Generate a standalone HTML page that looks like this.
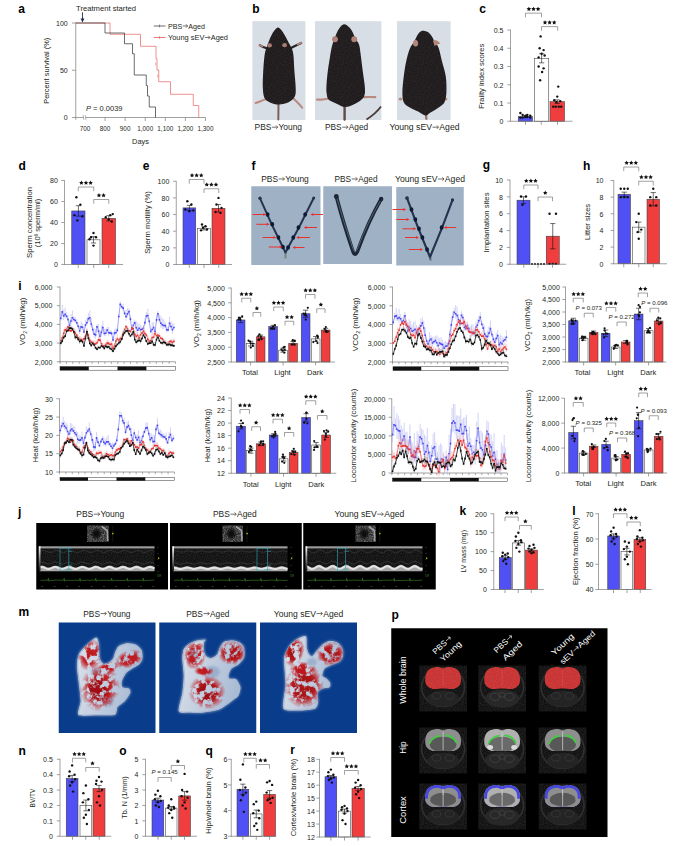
<!DOCTYPE html>
<html><head><meta charset="utf-8"><title>Figure</title>
<style>html,body{margin:0;padding:0;background:#fff;}svg{display:block;}text{font-family:"Liberation Sans",sans-serif;}</style>
</head><body>
<svg width="692" height="846" viewBox="0 0 692 846">
<defs>
<path id="st" d="M0.000 -1.000 L0.294 -0.405 L0.951 -0.309 L0.476 0.155 L0.588 0.809 L0.000 0.500 L-0.588 0.809 L-0.476 0.155 L-0.951 -0.309 L-0.294 -0.405Z" fill="#111"/>
<filter id="nz" x="0" y="0" width="1" height="1"><feTurbulence type="fractalNoise" baseFrequency="0.9" numOctaves="2" seed="3"/><feColorMatrix type="matrix" values="0 0 0 0 1  0 0 0 0 1  0 0 0 0 1  1.6 0 0 0 -0.55"/></filter>
<pattern id="spk" width="40" height="40" patternUnits="userSpaceOnUse"><rect width="40" height="40" filter="url(#nz)"/></pattern>
<pattern id="spk2" width="40" height="40" patternUnits="userSpaceOnUse"><rect width="40" height="40" filter="url(#nz)"/></pattern>
<linearGradient id="gbar" x1="0" y1="0" x2="0" y2="1"><stop offset="0" stop-color="#fff"/><stop offset="1" stop-color="#111"/></linearGradient>
<linearGradient id="bonegrad" x1="0" y1="0" x2="1" y2="0.3"><stop offset="0" stop-color="#dbe2ec"/><stop offset="0.45" stop-color="#c6d1e1"/><stop offset="1" stop-color="#a9bbd4"/></linearGradient>
<radialGradient id="rgc0191d"><stop offset="0" stop-color="#c0191d"/><stop offset="0.55" stop-color="#c0191d" stop-opacity="0.95"/><stop offset="1" stop-color="#c0191d" stop-opacity="0"/></radialGradient>
<radialGradient id="rga01014"><stop offset="0" stop-color="#a01014"/><stop offset="0.55" stop-color="#a01014" stop-opacity="0.9"/><stop offset="1" stop-color="#a01014" stop-opacity="0"/></radialGradient>
<radialGradient id="rgb01217"><stop offset="0" stop-color="#b01217"/><stop offset="0.55" stop-color="#b01217" stop-opacity="0.95"/><stop offset="1" stop-color="#b01217" stop-opacity="0"/></radialGradient>
<radialGradient id="rga81216"><stop offset="0" stop-color="#a81216"/><stop offset="0.55" stop-color="#a81216" stop-opacity="0.95"/><stop offset="1" stop-color="#a81216" stop-opacity="0"/></radialGradient>
<filter id="soft" x="-20%" y="-20%" width="140%" height="140%"><feGaussianBlur stdDeviation="0.9"/></filter>
<filter id="mottle" x="-10%" y="-10%" width="120%" height="120%"><feTurbulence type="fractalNoise" baseFrequency="0.16" numOctaves="3" seed="4" result="n"/><feColorMatrix in="n" type="matrix" values="0 0 0 0 0  0 0 0 0 0  0 0 0 0 0  6 0 0 0 -2.3" result="m"/><feComposite in="SourceGraphic" in2="m" operator="in"/></filter>
</defs>
<g fill="#231f20">
<text x="18.3" y="12.6" font-size="12" font-weight="bold" fill="#000">a</text>
<text x="76" y="10.6" font-size="7.6" textLength="60" lengthAdjust="spacingAndGlyphs">Treatment started</text>
<line x1="82.5" y1="12.3" x2="82.5" y2="20.5" stroke="#1f2a44" stroke-width="0.9"/>
<path d="M80.6 18.6L82.5 22.4L84.4 18.6Z" fill="#1f2a44"/>
<line x1="75.75" y1="22.7" x2="75.75" y2="117.5" stroke="#7a7a7a" stroke-width="0.7"/>
<line x1="71.95" y1="23" x2="75.75" y2="23" stroke="#7a7a7a" stroke-width="0.7"/>
<text x="67.7" y="25.75" font-size="7" text-anchor="end">100</text>
<line x1="71.95" y1="70.25" x2="75.75" y2="70.25" stroke="#7a7a7a" stroke-width="0.7"/>
<text x="67.7" y="73" font-size="7" text-anchor="end">50</text>
<line x1="71.95" y1="117.5" x2="75.75" y2="117.5" stroke="#7a7a7a" stroke-width="0.7"/>
<text x="67.7" y="120.25" font-size="7" text-anchor="end">0</text>
<line x1="75.75" y1="117.5" x2="83.5" y2="117.5" stroke="#7a7a7a" stroke-width="0.7"/>
<line x1="85.6" y1="117.5" x2="205.5" y2="117.5" stroke="#7a7a7a" stroke-width="0.7"/>
<line x1="83.2" y1="115.2" x2="83.8" y2="119.8" stroke="#7a7a7a" stroke-width="0.6"/>
<line x1="85.3" y1="115.2" x2="85.9" y2="119.8" stroke="#7a7a7a" stroke-width="0.6"/>
<line x1="105.08" y1="117.5" x2="105.08" y2="121" stroke="#7a7a7a" stroke-width="0.7"/>
<line x1="125.16" y1="117.5" x2="125.16" y2="121" stroke="#7a7a7a" stroke-width="0.7"/>
<line x1="145.24" y1="117.5" x2="145.24" y2="121" stroke="#7a7a7a" stroke-width="0.7"/>
<line x1="165.32" y1="117.5" x2="165.32" y2="121" stroke="#7a7a7a" stroke-width="0.7"/>
<line x1="185.4" y1="117.5" x2="185.4" y2="121" stroke="#7a7a7a" stroke-width="0.7"/>
<line x1="205.48" y1="117.5" x2="205.48" y2="121" stroke="#7a7a7a" stroke-width="0.7"/>
<line x1="75.75" y1="117.5" x2="75.75" y2="119.8" stroke="#7a7a7a" stroke-width="0.7"/>
<text x="85" y="130.8" font-size="6.4" text-anchor="middle">700</text>
<text x="105.08" y="130.8" font-size="6.4" text-anchor="middle">800</text>
<text x="125.16" y="130.8" font-size="6.4" text-anchor="middle">900</text>
<text x="145.24" y="130.8" font-size="6.4" text-anchor="middle">1,000</text>
<text x="165.32" y="130.8" font-size="6.4" text-anchor="middle">1,100</text>
<text x="185.4" y="130.8" font-size="6.4" text-anchor="middle">1,200</text>
<text x="205.48" y="130.8" font-size="6.4" text-anchor="middle">1,300</text>
<text x="140.5" y="144.2" font-size="7.4" text-anchor="middle">Days</text>
<text transform="translate(48.66,70.75) rotate(-90)" font-size="7.4" text-anchor="middle" textLength="66" lengthAdjust="spacingAndGlyphs">Percent survival (%)</text>
<text x="86" y="111.2" font-size="7.4" textLength="36.5" lengthAdjust="spacingAndGlyphs"><tspan font-style="italic">P</tspan> = 0.0039</text>
<polyline points="75.75,23 110,23 110,34.25 140.5,34.25 140.5,46.25 156,46.25 156,58.75 157,58.75 157,70 158.75,70 158.75,81.75 170.5,81.75 170.5,94.25 193.25,94.25 193.25,105.5 198.75,105.5 198.75,117.5" fill="none" stroke="#e5625e" stroke-width="0.7"/>
<polyline points="75.75,23 105,23 105,33 124.5,33 124.5,43.75 132.5,43.75 132.5,53.75 134.25,53.75 134.25,75 146.25,75 146.25,85.5 147.5,85.5 147.5,96 149.25,96 149.25,107 155.5,107 155.5,117.5" fill="none" stroke="#3b3b3b" stroke-width="0.75"/>
<line x1="155.8" y1="62.5" x2="155.8" y2="65.5" stroke="#e0524f" stroke-width="0.5"/>
<line x1="157.8" y1="74.5" x2="157.8" y2="77.5" stroke="#e0524f" stroke-width="0.5"/>
<line x1="153.8" y1="26" x2="165.5" y2="26" stroke="#3b3b3b" stroke-width="0.75"/>
<line x1="159.6" y1="24.6" x2="159.6" y2="27.4" stroke="#3b3b3b" stroke-width="0.6"/>
<line x1="153.8" y1="37.5" x2="165.5" y2="37.5" stroke="#e0524f" stroke-width="0.75"/>
<line x1="159.6" y1="36.1" x2="159.6" y2="38.9" stroke="#e0524f" stroke-width="0.6"/>
<g transform="translate(168,28.7)">
<text x="0" y="0" font-size="7.6" textLength="14.25" lengthAdjust="spacingAndGlyphs">PBS</text>
<path d="M14.75 -2.74H19.47M17.97 -4.44L19.67 -2.74L17.97 -1.04" stroke="#231f20" stroke-width="0.65" fill="none"/>
<text x="20.37" y="0" font-size="7.6" textLength="16.63" lengthAdjust="spacingAndGlyphs">Aged</text>
</g>
<g transform="translate(168,40.2)">
<text x="0" y="0" font-size="7.6" textLength="36.35" lengthAdjust="spacingAndGlyphs">Young sEV</text>
<path d="M36.87 -2.74H41.8M40.3 -4.44L42 -2.74L40.3 -1.04" stroke="#231f20" stroke-width="0.65" fill="none"/>
<text x="42.72" y="0" font-size="7.6" textLength="17.28" lengthAdjust="spacingAndGlyphs">Aged</text>
</g>
<text x="252.3" y="12.6" font-size="12" font-weight="bold" fill="#000">b</text>
<rect x="252.4" y="21.2" width="53" height="98.8" fill="#d8dee6"/>
<rect x="315" y="21.2" width="66.4" height="98.8" fill="#d8dee6"/>
<rect x="397" y="21.2" width="53.6" height="98.8" fill="#d8dee6"/>
<path d="M266 48 C265.33 47.75 263.03 46.97 262 46.5 C260.97 46.03 260.17 45.42 259.8 45.2" fill="none" stroke="#2a2424" stroke-width="2.2" stroke-linecap="round"/>
<path d="M262.5 46.6 L259.5 45" fill="none" stroke="#b88a80" stroke-width="1.6" stroke-linecap="round"/>
<path d="M291 48 C292 47.5 295.3 45.85 297 45 C298.7 44.15 300.5 43.25 301.2 42.9" fill="none" stroke="#2a2424" stroke-width="2.2" stroke-linecap="round"/>
<path d="M297.5 44.5 L301.3 42.7" fill="none" stroke="#b88a80" stroke-width="1.6" stroke-linecap="round"/>
<path d="M266 99 C265 99.42 261.73 100.83 260 101.5 C258.27 102.17 256.33 102.75 255.6 103" fill="none" stroke="#b88a80" stroke-width="2" stroke-linecap="round"/>
<path d="M293 98 C293.83 98.83 296.47 101.37 298 103 C299.53 104.63 301.5 107 302.2 107.8" fill="none" stroke="#b88a80" stroke-width="2" stroke-linecap="round"/>
<path d="M278.5 103 C278.48 104.5 278.43 109.27 278.4 112 C278.37 114.73 278.32 118.17 278.3 119.4" fill="none" stroke="#7a625c" stroke-width="2" stroke-linecap="round"/>
<path d="M278 27.6 C279.15 27.6 280.4 29.07 281.5 30.3 C282.6 31.53 283.55 33.22 284.6 35 C285.65 36.78 286.57 38.67 287.8 41 C289.03 43.33 291.05 46.5 292 49 C292.95 51.5 293.12 52.5 293.5 56 C293.88 59.5 293.95 65 294.3 70 C294.65 75 295.48 81.67 295.6 86 C295.72 90.33 296.1 93.33 295 96 C293.9 98.67 291.67 100.57 289 102 C286.33 103.43 282.17 104.53 279 104.6 C275.83 104.67 272.42 103.5 270 102.4 C267.58 101.3 265.7 100.57 264.5 98 C263.3 95.43 263 91.67 262.8 87 C262.6 82.33 263.02 75.17 263.3 70 C263.58 64.83 264.05 59.5 264.5 56 C264.95 52.5 265.32 51.33 266 49 C266.68 46.67 267.67 44.33 268.6 42 C269.53 39.67 270.6 36.95 271.6 35 C272.6 33.05 273.53 31.53 274.6 30.3 C275.67 29.07 276.85 27.6 278 27.6Z" fill="#1f1b1c"/>
<path d="M278 27.6 C279.15 27.6 280.4 29.07 281.5 30.3 C282.6 31.53 283.55 33.22 284.6 35 C285.65 36.78 286.57 38.67 287.8 41 C289.03 43.33 291.05 46.5 292 49 C292.95 51.5 293.12 52.5 293.5 56 C293.88 59.5 293.95 65 294.3 70 C294.65 75 295.48 81.67 295.6 86 C295.72 90.33 296.1 93.33 295 96 C293.9 98.67 291.67 100.57 289 102 C286.33 103.43 282.17 104.53 279 104.6 C275.83 104.67 272.42 103.5 270 102.4 C267.58 101.3 265.7 100.57 264.5 98 C263.3 95.43 263 91.67 262.8 87 C262.6 82.33 263.02 75.17 263.3 70 C263.58 64.83 264.05 59.5 264.5 56 C264.95 52.5 265.32 51.33 266 49 C266.68 46.67 267.67 44.33 268.6 42 C269.53 39.67 270.6 36.95 271.6 35 C272.6 33.05 273.53 31.53 274.6 30.3 C275.67 29.07 276.85 27.6 278 27.6Z" fill="url(#spk)" opacity="0.07"/>
<ellipse cx="269.6" cy="45.4" rx="2.4" ry="2.1" fill="#a87c72"/>
<ellipse cx="284.6" cy="45.2" rx="2.4" ry="2.1" fill="#a87c72"/>
<path d="M329 98.5 C327.83 98.68 324 99.42 322 99.6 C320 99.78 317.83 99.6 317 99.6" fill="none" stroke="#b88a80" stroke-width="2.2" stroke-linecap="round"/>
<path d="M364 97.2 C365 97.17 368.12 97 370 97 C371.88 97 374.42 97.17 375.3 97.2" fill="none" stroke="#b88a80" stroke-width="2.2" stroke-linecap="round"/>
<path d="M344.6 105 C344.6 106.33 344.6 110.58 344.6 113 C344.6 115.42 344.6 118.42 344.6 119.5" fill="none" stroke="#5e4a46" stroke-width="2.4" stroke-linecap="round"/>
<path d="M381 106.5 C377 112 372 116 366.5 119.5" fill="none" stroke="#4a3a38" stroke-width="1.8"/>
<path d="M344 24.2 C345.67 24.12 348 26.03 349.5 27.5 C351 28.97 352 31.08 353 33 C354 34.92 354.5 37.08 355.5 39 C356.5 40.92 358.15 42 359 44.5 C359.85 47 359.98 49.63 360.6 54 C361.22 58.37 361.98 65.1 362.7 70.7 C363.42 76.3 364.68 83.3 364.9 87.6 C365.12 91.9 365.18 94.07 364 96.5 C362.82 98.93 360.83 100.45 357.8 102.2 C354.77 103.95 349.42 106.8 345.8 107 C342.18 107.2 338.97 104.63 336.1 103.4 C333.23 102.17 330.18 101.33 328.6 99.6 C327.02 97.87 326.95 95.43 326.6 93 C326.25 90.57 326.32 88.52 326.5 85 C326.68 81.48 327.1 76.7 327.7 71.9 C328.3 67.1 329.4 60.43 330.1 56.2 C330.8 51.97 331.25 49.2 331.9 46.5 C332.55 43.8 333.23 42.17 334 40 C334.77 37.83 335.58 35.5 336.5 33.5 C337.42 31.5 338.25 29.55 339.5 28 C340.75 26.45 342.33 24.28 344 24.2Z" fill="#1f1b1c"/>
<path d="M344 24.2 C345.67 24.12 348 26.03 349.5 27.5 C351 28.97 352 31.08 353 33 C354 34.92 354.5 37.08 355.5 39 C356.5 40.92 358.15 42 359 44.5 C359.85 47 359.98 49.63 360.6 54 C361.22 58.37 361.98 65.1 362.7 70.7 C363.42 76.3 364.68 83.3 364.9 87.6 C365.12 91.9 365.18 94.07 364 96.5 C362.82 98.93 360.83 100.45 357.8 102.2 C354.77 103.95 349.42 106.8 345.8 107 C342.18 107.2 338.97 104.63 336.1 103.4 C333.23 102.17 330.18 101.33 328.6 99.6 C327.02 97.87 326.95 95.43 326.6 93 C326.25 90.57 326.32 88.52 326.5 85 C326.68 81.48 327.1 76.7 327.7 71.9 C328.3 67.1 329.4 60.43 330.1 56.2 C330.8 51.97 331.25 49.2 331.9 46.5 C332.55 43.8 333.23 42.17 334 40 C334.77 37.83 335.58 35.5 336.5 33.5 C337.42 31.5 338.25 29.55 339.5 28 C340.75 26.45 342.33 24.28 344 24.2Z" fill="url(#spk)" opacity="0.07"/>
<ellipse cx="335" cy="39.3" rx="2.9" ry="3.0" fill="#b08277"/>
<ellipse cx="354.2" cy="39.3" rx="2.9" ry="3.0" fill="#b08277"/>
<ellipse cx="400.5" cy="99" rx="2" ry="1.5" fill="#b88a80"/>
<ellipse cx="445.5" cy="99" rx="2" ry="1.5" fill="#b88a80"/>
<path d="M426 113 L426.3 118.8" fill="none" stroke="#9a7570" stroke-width="2.4" stroke-linecap="round"/>
<path d="M423.5 30.8 C424.92 30.9 427 31.48 428.5 32.6 C430 33.72 431.42 35.77 432.5 37.5 C433.58 39.23 433.98 41.3 435 43 C436.02 44.7 437.4 44.5 438.6 47.7 C439.8 50.9 441 57.38 442.2 62.2 C443.4 67.02 445.1 71.58 445.8 76.6 C446.5 81.62 446.6 88.08 446.4 92.3 C446.2 96.52 445.7 99.5 444.6 101.9 C443.5 104.3 442.22 104.88 439.8 106.7 C437.38 108.52 432.48 111.32 430.1 112.8 C427.72 114.28 427.5 115.8 425.5 115.6 C423.5 115.4 420.93 113.08 418.1 111.6 C415.27 110.12 410.92 108.32 408.5 106.7 C406.08 105.08 404.62 104.3 403.6 101.9 C402.58 99.5 402.4 96.32 402.4 92.3 C402.4 88.28 403 82.82 403.6 77.8 C404.2 72.78 404.98 67.02 406 62.2 C407.02 57.38 408.37 52.27 409.7 48.9 C411.03 45.53 412.7 44.32 414 42 C415.3 39.68 416.5 36.67 417.5 35 C418.5 33.33 419 32.7 420 32 C421 31.3 422.08 30.7 423.5 30.8Z" fill="#1f1b1c"/>
<path d="M423.5 30.8 C424.92 30.9 427 31.48 428.5 32.6 C430 33.72 431.42 35.77 432.5 37.5 C433.58 39.23 433.98 41.3 435 43 C436.02 44.7 437.4 44.5 438.6 47.7 C439.8 50.9 441 57.38 442.2 62.2 C443.4 67.02 445.1 71.58 445.8 76.6 C446.5 81.62 446.6 88.08 446.4 92.3 C446.2 96.52 445.7 99.5 444.6 101.9 C443.5 104.3 442.22 104.88 439.8 106.7 C437.38 108.52 432.48 111.32 430.1 112.8 C427.72 114.28 427.5 115.8 425.5 115.6 C423.5 115.4 420.93 113.08 418.1 111.6 C415.27 110.12 410.92 108.32 408.5 106.7 C406.08 105.08 404.62 104.3 403.6 101.9 C402.58 99.5 402.4 96.32 402.4 92.3 C402.4 88.28 403 82.82 403.6 77.8 C404.2 72.78 404.98 67.02 406 62.2 C407.02 57.38 408.37 52.27 409.7 48.9 C411.03 45.53 412.7 44.32 414 42 C415.3 39.68 416.5 36.67 417.5 35 C418.5 33.33 419 32.7 420 32 C421 31.3 422.08 30.7 423.5 30.8Z" fill="url(#spk)" opacity="0.07"/>
<ellipse cx="415.6" cy="43.3" rx="2.5" ry="3.2" fill="#b58679"/>
<path d="M433 40.5 Q437 38.5 440.5 43.5 Q437 44 434.5 46 Z" fill="#b58679"/>
<g transform="translate(254.6,130.2)">
<text x="0" y="0" font-size="8.4" textLength="16.76" lengthAdjust="spacingAndGlyphs">PBS</text>
<path d="M17.34 -3.02H22.97M21.47 -4.72L23.17 -3.02L21.47 -1.32" stroke="#231f20" stroke-width="0.65" fill="none"/>
<text x="23.96" y="0" font-size="8.4" textLength="23.44" lengthAdjust="spacingAndGlyphs">Young</text>
</g>
<g transform="translate(325,130.2)">
<text x="0" y="0" font-size="8.4" textLength="16.64" lengthAdjust="spacingAndGlyphs">PBS</text>
<path d="M17.22 -3.02H22.8M21.3 -4.72L23 -3.02L21.3 -1.32" stroke="#231f20" stroke-width="0.65" fill="none"/>
<text x="23.79" y="0" font-size="8.4" textLength="19.41" lengthAdjust="spacingAndGlyphs">Aged</text>
</g>
<g transform="translate(389.5,130.2)">
<text x="0" y="0" font-size="8.4" textLength="42.41" lengthAdjust="spacingAndGlyphs">Young sEV</text>
<path d="M43.01 -3.02H48.83M47.33 -4.72L49.03 -3.02L47.33 -1.32" stroke="#231f20" stroke-width="0.65" fill="none"/>
<text x="49.84" y="0" font-size="8.4" textLength="20.16" lengthAdjust="spacingAndGlyphs">Aged</text>
</g>
<text x="479.2" y="12.8" font-size="12" font-weight="bold" fill="#000">c</text>
<line x1="510.5" y1="29.7" x2="510.5" y2="121.55" stroke="#7a7a7a" stroke-width="0.7"/>
<line x1="507.3" y1="121.25" x2="510.5" y2="121.25" stroke="#7a7a7a" stroke-width="0.7"/>
<text x="503.5" y="124" font-size="7" text-anchor="end">0</text>
<line x1="507.3" y1="103" x2="510.5" y2="103" stroke="#7a7a7a" stroke-width="0.7"/>
<text x="503.5" y="105.75" font-size="7" text-anchor="end">0.1</text>
<line x1="507.3" y1="84.75" x2="510.5" y2="84.75" stroke="#7a7a7a" stroke-width="0.7"/>
<text x="503.5" y="87.5" font-size="7" text-anchor="end">0.2</text>
<line x1="507.3" y1="66.5" x2="510.5" y2="66.5" stroke="#7a7a7a" stroke-width="0.7"/>
<text x="503.5" y="69.25" font-size="7" text-anchor="end">0.3</text>
<line x1="507.3" y1="48.25" x2="510.5" y2="48.25" stroke="#7a7a7a" stroke-width="0.7"/>
<text x="503.5" y="51" font-size="7" text-anchor="end">0.4</text>
<line x1="507.3" y1="30" x2="510.5" y2="30" stroke="#7a7a7a" stroke-width="0.7"/>
<text x="503.5" y="32.75" font-size="7" text-anchor="end">0.5</text>
<rect x="518.25" y="116.69" width="14.25" height="4.56" fill="#5050f4" stroke="#3a3a3a" stroke-width="0.55"/>
<circle cx="520.35" cy="113.04" r="1.2" fill="#111"/>
<circle cx="522.6" cy="114.86" r="1.2" fill="#111"/>
<circle cx="525.53" cy="115.78" r="1.2" fill="#111"/>
<circle cx="527.37" cy="116.69" r="1.2" fill="#111"/>
<circle cx="530.26" cy="115.78" r="1.2" fill="#111"/>
<circle cx="520.4" cy="117.6" r="1.2" fill="#111"/>
<circle cx="522.51" cy="117.6" r="1.2" fill="#111"/>
<circle cx="525.38" cy="116.69" r="1.2" fill="#111"/>
<circle cx="527.33" cy="114.86" r="1.2" fill="#111"/>
<circle cx="530.15" cy="117.6" r="1.2" fill="#111"/>
<line x1="525.38" y1="115.78" x2="525.38" y2="117.6" stroke="#111" stroke-width="0.6"/>
<line x1="522.77" y1="115.78" x2="527.98" y2="115.78" stroke="#111" stroke-width="0.6"/>
<line x1="522.77" y1="117.6" x2="527.98" y2="117.6" stroke="#111" stroke-width="0.6"/>
<rect x="534.5" y="58.29" width="14.25" height="62.96" fill="#ffffff" stroke="#3a3a3a" stroke-width="0.55"/>
<circle cx="540.62" cy="36.39" r="1.2" fill="#111"/>
<circle cx="539.62" cy="48.25" r="1.2" fill="#111"/>
<circle cx="543.62" cy="50.08" r="1.2" fill="#111"/>
<circle cx="541.62" cy="53.72" r="1.2" fill="#111"/>
<circle cx="544.62" cy="55.55" r="1.2" fill="#111"/>
<circle cx="538.62" cy="57.38" r="1.2" fill="#111"/>
<circle cx="538.62" cy="66.5" r="1.2" fill="#111"/>
<circle cx="543.62" cy="68.33" r="1.2" fill="#111"/>
<circle cx="542.12" cy="71.97" r="1.2" fill="#111"/>
<circle cx="540.12" cy="80.19" r="1.2" fill="#111"/>
<line x1="541.62" y1="53.72" x2="541.62" y2="62.85" stroke="#111" stroke-width="0.6"/>
<line x1="539.02" y1="53.72" x2="544.23" y2="53.72" stroke="#111" stroke-width="0.6"/>
<line x1="539.02" y1="62.85" x2="544.23" y2="62.85" stroke="#111" stroke-width="0.6"/>
<rect x="550" y="101.72" width="14.5" height="19.53" fill="#f03e3f" stroke="#3a3a3a" stroke-width="0.55"/>
<circle cx="558.25" cy="86.58" r="1.2" fill="#111"/>
<circle cx="557.25" cy="96.61" r="1.2" fill="#111"/>
<circle cx="554.25" cy="100.26" r="1.2" fill="#111"/>
<circle cx="560.25" cy="101.17" r="1.2" fill="#111"/>
<circle cx="556.25" cy="102.09" r="1.2" fill="#111"/>
<circle cx="553.25" cy="106.65" r="1.2" fill="#111"/>
<circle cx="555.75" cy="106.65" r="1.2" fill="#111"/>
<circle cx="558.75" cy="106.65" r="1.2" fill="#111"/>
<circle cx="561.25" cy="106.65" r="1.2" fill="#111"/>
<line x1="557.25" y1="99.9" x2="557.25" y2="103.55" stroke="#111" stroke-width="0.6"/>
<line x1="554.65" y1="99.9" x2="559.85" y2="99.9" stroke="#111" stroke-width="0.6"/>
<line x1="554.65" y1="103.55" x2="559.85" y2="103.55" stroke="#111" stroke-width="0.6"/>
<line x1="510.2" y1="121.25" x2="572.5" y2="121.25" stroke="#7a7a7a" stroke-width="0.7"/>
<line x1="525.5" y1="121.25" x2="525.5" y2="124.75" stroke="#7a7a7a" stroke-width="0.7"/>
<line x1="541.25" y1="121.25" x2="541.25" y2="124.75" stroke="#7a7a7a" stroke-width="0.7"/>
<line x1="557.5" y1="121.25" x2="557.5" y2="124.75" stroke="#7a7a7a" stroke-width="0.7"/>
<path d="M525.5 17.35V13.15H541.5V17.35" fill="none" stroke="#6d6e71" stroke-width="0.65"/>
<use href="#st" transform="translate(528.9,9.05) scale(2.35)"/>
<use href="#st" transform="translate(533.5,9.05) scale(2.35)"/>
<use href="#st" transform="translate(538.1,9.05) scale(2.35)"/>
<path d="M541.5 30.8V26.6H557.7V30.8" fill="none" stroke="#6d6e71" stroke-width="0.65"/>
<use href="#st" transform="translate(545,22.5) scale(2.35)"/>
<use href="#st" transform="translate(549.6,22.5) scale(2.35)"/>
<use href="#st" transform="translate(554.2,22.5) scale(2.35)"/>
<text transform="translate(484.38,76.25) rotate(-90)" font-size="7.3" text-anchor="middle" textLength="65" lengthAdjust="spacingAndGlyphs">Frailty index scores</text>
<text x="18.5" y="170" font-size="12" font-weight="bold" fill="#000">d</text>
<line x1="64.5" y1="180.2" x2="64.5" y2="264.8" stroke="#7a7a7a" stroke-width="0.7"/>
<line x1="61.3" y1="264.5" x2="64.5" y2="264.5" stroke="#7a7a7a" stroke-width="0.7"/>
<text x="57.9" y="267.25" font-size="7" text-anchor="end">0</text>
<line x1="61.3" y1="243.5" x2="64.5" y2="243.5" stroke="#7a7a7a" stroke-width="0.7"/>
<text x="57.9" y="246.25" font-size="7" text-anchor="end">20</text>
<line x1="61.3" y1="222.5" x2="64.5" y2="222.5" stroke="#7a7a7a" stroke-width="0.7"/>
<text x="57.9" y="225.25" font-size="7" text-anchor="end">40</text>
<line x1="61.3" y1="201.5" x2="64.5" y2="201.5" stroke="#7a7a7a" stroke-width="0.7"/>
<text x="57.9" y="204.25" font-size="7" text-anchor="end">60</text>
<line x1="61.3" y1="180.5" x2="64.5" y2="180.5" stroke="#7a7a7a" stroke-width="0.7"/>
<text x="57.9" y="183.25" font-size="7" text-anchor="end">80</text>
<rect x="71.75" y="210.95" width="13.25" height="53.55" fill="#5050f4" stroke="#3a3a3a" stroke-width="0.55"/>
<circle cx="76.38" cy="197.3" r="1.2" fill="#111"/>
<circle cx="80.38" cy="204.65" r="1.2" fill="#111"/>
<circle cx="74.38" cy="215.15" r="1.2" fill="#111"/>
<circle cx="82.38" cy="216.2" r="1.2" fill="#111"/>
<circle cx="77.38" cy="220.4" r="1.2" fill="#111"/>
<line x1="78.38" y1="205.7" x2="78.38" y2="216.2" stroke="#111" stroke-width="0.6"/>
<line x1="75.78" y1="205.7" x2="80.97" y2="205.7" stroke="#111" stroke-width="0.6"/>
<line x1="75.78" y1="216.2" x2="80.97" y2="216.2" stroke="#111" stroke-width="0.6"/>
<rect x="87" y="239.82" width="13" height="24.68" fill="#ffffff" stroke="#3a3a3a" stroke-width="0.55"/>
<circle cx="93.5" cy="233" r="1.2" fill="#111"/>
<circle cx="91" cy="237.2" r="1.2" fill="#111"/>
<circle cx="96" cy="237.2" r="1.2" fill="#111"/>
<circle cx="89.5" cy="239.3" r="1.2" fill="#111"/>
<circle cx="93.5" cy="245.6" r="1.2" fill="#111"/>
<line x1="93.5" y1="236.68" x2="93.5" y2="242.97" stroke="#111" stroke-width="0.6"/>
<line x1="90.9" y1="236.68" x2="96.1" y2="236.68" stroke="#111" stroke-width="0.6"/>
<line x1="90.9" y1="242.97" x2="96.1" y2="242.97" stroke="#111" stroke-width="0.6"/>
<rect x="102" y="218.3" width="13.5" height="46.2" fill="#f03e3f" stroke="#3a3a3a" stroke-width="0.55"/>
<circle cx="112.75" cy="214.1" r="1.2" fill="#111"/>
<circle cx="110.25" cy="215.15" r="1.2" fill="#111"/>
<circle cx="105.75" cy="217.25" r="1.2" fill="#111"/>
<circle cx="108.75" cy="219.35" r="1.2" fill="#111"/>
<circle cx="111.75" cy="221.45" r="1.2" fill="#111"/>
<line x1="108.75" y1="215.68" x2="108.75" y2="220.93" stroke="#111" stroke-width="0.6"/>
<line x1="106.15" y1="215.68" x2="111.35" y2="215.68" stroke="#111" stroke-width="0.6"/>
<line x1="106.15" y1="220.93" x2="111.35" y2="220.93" stroke="#111" stroke-width="0.6"/>
<line x1="64.2" y1="264.5" x2="123" y2="264.5" stroke="#7a7a7a" stroke-width="0.7"/>
<line x1="78.25" y1="264.5" x2="78.25" y2="268" stroke="#7a7a7a" stroke-width="0.7"/>
<line x1="93.75" y1="264.5" x2="93.75" y2="268" stroke="#7a7a7a" stroke-width="0.7"/>
<line x1="108.75" y1="264.5" x2="108.75" y2="268" stroke="#7a7a7a" stroke-width="0.7"/>
<path d="M78.25 191.2V187H93.75V191.2" fill="none" stroke="#6d6e71" stroke-width="0.65"/>
<use href="#st" transform="translate(81.4,182.9) scale(2.35)"/>
<use href="#st" transform="translate(86,182.9) scale(2.35)"/>
<use href="#st" transform="translate(90.6,182.9) scale(2.35)"/>
<path d="M93.75 203.7V199.5H108.75V203.7" fill="none" stroke="#6d6e71" stroke-width="0.65"/>
<use href="#st" transform="translate(98.95,195.4) scale(2.35)"/>
<use href="#st" transform="translate(103.55,195.4) scale(2.35)"/>
<text transform="translate(31.93,222.5) rotate(-90)" font-size="7.3" text-anchor="middle" textLength="71" lengthAdjust="spacingAndGlyphs">Sperm concentration</text>
<text transform="translate(40.13,223) rotate(-90) scale(1.0194,1)" font-size="7.3" text-anchor="middle">(10<tspan font-size="4.6" dy="-2.6">6</tspan><tspan dy="2.6"> sperm/ml)</tspan></text>
<text x="142.8" y="170" font-size="12" font-weight="bold" fill="#000">e</text>
<line x1="176.25" y1="180.95" x2="176.25" y2="264.8" stroke="#7a7a7a" stroke-width="0.7"/>
<line x1="173.05" y1="264.5" x2="176.25" y2="264.5" stroke="#7a7a7a" stroke-width="0.7"/>
<text x="169.3" y="267.25" font-size="7" text-anchor="end">0</text>
<line x1="173.05" y1="247.85" x2="176.25" y2="247.85" stroke="#7a7a7a" stroke-width="0.7"/>
<text x="169.3" y="250.6" font-size="7" text-anchor="end">20</text>
<line x1="173.05" y1="231.2" x2="176.25" y2="231.2" stroke="#7a7a7a" stroke-width="0.7"/>
<text x="169.3" y="233.95" font-size="7" text-anchor="end">40</text>
<line x1="173.05" y1="214.55" x2="176.25" y2="214.55" stroke="#7a7a7a" stroke-width="0.7"/>
<text x="169.3" y="217.3" font-size="7" text-anchor="end">60</text>
<line x1="173.05" y1="197.9" x2="176.25" y2="197.9" stroke="#7a7a7a" stroke-width="0.7"/>
<text x="169.3" y="200.65" font-size="7" text-anchor="end">80</text>
<line x1="173.05" y1="181.25" x2="176.25" y2="181.25" stroke="#7a7a7a" stroke-width="0.7"/>
<text x="169.3" y="184" font-size="7" text-anchor="end">100</text>
<rect x="183" y="207.89" width="12.75" height="56.61" fill="#5050f4" stroke="#3a3a3a" stroke-width="0.55"/>
<circle cx="187.38" cy="201.23" r="1.2" fill="#111"/>
<circle cx="191.38" cy="204.56" r="1.2" fill="#111"/>
<circle cx="185.38" cy="209.56" r="1.2" fill="#111"/>
<circle cx="193.38" cy="210.39" r="1.2" fill="#111"/>
<circle cx="189.38" cy="211.22" r="1.2" fill="#111"/>
<line x1="189.38" y1="205.39" x2="189.38" y2="210.39" stroke="#111" stroke-width="0.6"/>
<line x1="186.78" y1="205.39" x2="191.97" y2="205.39" stroke="#111" stroke-width="0.6"/>
<line x1="186.78" y1="210.39" x2="191.97" y2="210.39" stroke="#111" stroke-width="0.6"/>
<rect x="197.5" y="228.29" width="13" height="36.21" fill="#ffffff" stroke="#3a3a3a" stroke-width="0.55"/>
<circle cx="202" cy="224.54" r="1.2" fill="#111"/>
<circle cx="205.5" cy="226.2" r="1.2" fill="#111"/>
<circle cx="203" cy="227.87" r="1.2" fill="#111"/>
<circle cx="207" cy="229.53" r="1.2" fill="#111"/>
<circle cx="201" cy="230.37" r="1.2" fill="#111"/>
<line x1="204" y1="226.62" x2="204" y2="229.95" stroke="#111" stroke-width="0.6"/>
<line x1="201.4" y1="226.62" x2="206.6" y2="226.62" stroke="#111" stroke-width="0.6"/>
<line x1="201.4" y1="229.95" x2="206.6" y2="229.95" stroke="#111" stroke-width="0.6"/>
<rect x="212" y="208.31" width="13" height="56.19" fill="#f03e3f" stroke="#3a3a3a" stroke-width="0.55"/>
<circle cx="218.5" cy="197.9" r="1.2" fill="#111"/>
<circle cx="216.5" cy="204.56" r="1.2" fill="#111"/>
<circle cx="221.5" cy="207.89" r="1.2" fill="#111"/>
<circle cx="215.5" cy="212.05" r="1.2" fill="#111"/>
<circle cx="220.5" cy="212.88" r="1.2" fill="#111"/>
<line x1="218.5" y1="204.56" x2="218.5" y2="212.05" stroke="#111" stroke-width="0.6"/>
<line x1="215.9" y1="204.56" x2="221.1" y2="204.56" stroke="#111" stroke-width="0.6"/>
<line x1="215.9" y1="212.05" x2="221.1" y2="212.05" stroke="#111" stroke-width="0.6"/>
<line x1="175.95" y1="264.5" x2="232" y2="264.5" stroke="#7a7a7a" stroke-width="0.7"/>
<line x1="189.25" y1="264.5" x2="189.25" y2="268" stroke="#7a7a7a" stroke-width="0.7"/>
<line x1="204" y1="264.5" x2="204" y2="268" stroke="#7a7a7a" stroke-width="0.7"/>
<line x1="218.75" y1="264.5" x2="218.75" y2="268" stroke="#7a7a7a" stroke-width="0.7"/>
<path d="M189.25 183.7V179.5H204V183.7" fill="none" stroke="#6d6e71" stroke-width="0.65"/>
<use href="#st" transform="translate(192.03,175.4) scale(2.35)"/>
<use href="#st" transform="translate(196.62,175.4) scale(2.35)"/>
<use href="#st" transform="translate(201.22,175.4) scale(2.35)"/>
<path d="M204 192.95V188.75H218.75V192.95" fill="none" stroke="#6d6e71" stroke-width="0.65"/>
<use href="#st" transform="translate(206.78,184.65) scale(2.35)"/>
<use href="#st" transform="translate(211.38,184.65) scale(2.35)"/>
<use href="#st" transform="translate(215.97,184.65) scale(2.35)"/>
<text transform="translate(149.63,222.5) rotate(-90)" font-size="7.3" text-anchor="middle" textLength="62.5" lengthAdjust="spacingAndGlyphs">Sperm motility (%)</text>
<text x="251.5" y="170" font-size="12" font-weight="bold" fill="#000">f</text>
<rect x="251.25" y="186.25" width="69.25" height="78.75" fill="#9fb2c5"/>
<rect x="323.25" y="186.25" width="68.75" height="77.75" fill="#9fb2c5"/>
<rect x="396.25" y="187" width="67.5" height="78.5" fill="#9fb2c5"/>
<line x1="285.5" y1="252" x2="285.5" y2="258.5" stroke="#7a8a84" stroke-width="2.2"/>
<path d="M260 198.3 Q271.75 225.4 285.5 252.5 Q300.6 225.25 313.7 198" fill="none" stroke="#24344e" stroke-width="2" stroke-linejoin="round" stroke-linecap="round"/>
<circle cx="260" cy="198.3" r="1.7" fill="#24344e"/>
<circle cx="313.7" cy="198" r="1.5" fill="#24344e"/>
<ellipse cx="267.62" cy="214.5" rx="1.9" ry="2.3" fill="#0d1a36"/>
<ellipse cx="272.23" cy="224.3" rx="1.9" ry="2.3" fill="#0d1a36"/>
<ellipse cx="278.44" cy="237.5" rx="1.9" ry="2.3" fill="#0d1a36"/>
<ellipse cx="282.91" cy="247" rx="1.9" ry="2.3" fill="#0d1a36"/>
<ellipse cx="305.16" cy="214.5" rx="1.9" ry="2.3" fill="#0d1a36"/>
<ellipse cx="298.44" cy="227.5" rx="1.9" ry="2.3" fill="#0d1a36"/>
<ellipse cx="293.26" cy="237.5" rx="1.9" ry="2.3" fill="#0d1a36"/>
<ellipse cx="288.09" cy="247.5" rx="1.9" ry="2.3" fill="#0d1a36"/>
<path d="M336.3 196.3 Q343 222 352.5 250 Q355 258.5 358 250 Q368 222 381.2 198.8" fill="none" stroke="#1c2636" stroke-width="3.6" stroke-linejoin="round"/>
<path d="M336.8 198 Q343.5 222 353 249 Q355 255 357.5 249 Q367.5 222 380.8 200" fill="none" stroke="#56667a" stroke-width="0.9" stroke-linejoin="round"/>
<circle cx="336.3" cy="196.5" r="2.4" fill="#1c2636"/><circle cx="381.2" cy="199" r="2.2" fill="#1c2636"/>
<line x1="430" y1="255" x2="430.5" y2="260.5" stroke="#5a666a" stroke-width="2"/>
<path d="M407 198 Q417.5 227.5 430 257 Q442.25 228.5 452.5 200" fill="none" stroke="#24344e" stroke-width="2.2" stroke-linejoin="round" stroke-linecap="round"/>
<circle cx="407" cy="198" r="1.87" fill="#24344e"/>
<circle cx="452.5" cy="200" r="1.65" fill="#24344e"/>
<ellipse cx="411.48" cy="209.5" rx="1.9" ry="2.3" fill="#0d1a36"/>
<ellipse cx="415.38" cy="219.5" rx="1.9" ry="2.3" fill="#0d1a36"/>
<ellipse cx="419.01" cy="228.8" rx="1.9" ry="2.3" fill="#0d1a36"/>
<ellipse cx="422.4" cy="237.5" rx="1.9" ry="2.3" fill="#0d1a36"/>
<ellipse cx="427.08" cy="249.5" rx="1.9" ry="2.3" fill="#0d1a36"/>
<ellipse cx="441.64" cy="227.5" rx="1.9" ry="2.3" fill="#0d1a36"/>
<line x1="252.5" y1="214.5" x2="264" y2="214.5" stroke="#e8302c" stroke-width="1"/>
<path d="M266.2 214.5L263.4 213L263.4 216Z" fill="#e8302c"/>
<line x1="256.3" y1="224.3" x2="267.3" y2="224.3" stroke="#e8302c" stroke-width="1"/>
<path d="M269.5 224.3L266.7 222.8L266.7 225.8Z" fill="#e8302c"/>
<line x1="262.5" y1="237.5" x2="274" y2="237.5" stroke="#e8302c" stroke-width="1"/>
<path d="M276.2 237.5L273.4 236L273.4 239Z" fill="#e8302c"/>
<line x1="268.8" y1="247" x2="280.3" y2="247" stroke="#e8302c" stroke-width="1"/>
<path d="M282.5 247L279.7 245.5L279.7 248.5Z" fill="#e8302c"/>
<line x1="323" y1="214.5" x2="312.7" y2="214.5" stroke="#e8302c" stroke-width="1"/>
<path d="M310.5 214.5L313.3 213L313.3 216Z" fill="#e8302c"/>
<line x1="317" y1="227.5" x2="306" y2="227.5" stroke="#e8302c" stroke-width="1"/>
<path d="M303.8 227.5L306.6 226L306.6 229Z" fill="#e8302c"/>
<line x1="310" y1="237.5" x2="298.5" y2="237.5" stroke="#e8302c" stroke-width="1"/>
<path d="M296.3 237.5L299.1 236L299.1 239Z" fill="#e8302c"/>
<line x1="304.5" y1="247.5" x2="294.7" y2="247.5" stroke="#e8302c" stroke-width="1"/>
<path d="M292.5 247.5L295.3 246L295.3 249Z" fill="#e8302c"/>
<line x1="392.5" y1="209.5" x2="404" y2="209.5" stroke="#e8302c" stroke-width="1"/>
<path d="M406.2 209.5L403.4 208L403.4 211Z" fill="#e8302c"/>
<line x1="396.3" y1="219.5" x2="407.3" y2="219.5" stroke="#e8302c" stroke-width="1"/>
<path d="M409.5 219.5L406.7 218L406.7 221Z" fill="#e8302c"/>
<line x1="402.5" y1="228.8" x2="414" y2="228.8" stroke="#e8302c" stroke-width="1"/>
<path d="M416.2 228.8L413.4 227.3L413.4 230.3Z" fill="#e8302c"/>
<line x1="405" y1="237.5" x2="416.6" y2="237.5" stroke="#e8302c" stroke-width="1"/>
<path d="M418.8 237.5L416 236L416 239Z" fill="#e8302c"/>
<line x1="408.8" y1="249.5" x2="420.8" y2="249.5" stroke="#e8302c" stroke-width="1"/>
<path d="M423 249.5L420.2 248L420.2 251Z" fill="#e8302c"/>
<line x1="456.3" y1="227.5" x2="446" y2="227.5" stroke="#e8302c" stroke-width="1"/>
<path d="M443.8 227.5L446.6 226L446.6 229Z" fill="#e8302c"/>
<g transform="translate(261.25,182)">
<text x="0" y="0" font-size="8.4" textLength="16.79" lengthAdjust="spacingAndGlyphs">PBS</text>
<path d="M17.38 -3.02H23.02M21.52 -4.72L23.22 -3.02L21.52 -1.32" stroke="#231f20" stroke-width="0.65" fill="none"/>
<text x="24.01" y="0" font-size="8.4" textLength="23.49" lengthAdjust="spacingAndGlyphs">Young</text>
</g>
<g transform="translate(334.5,182)">
<text x="0" y="0" font-size="8.4" textLength="16.56" lengthAdjust="spacingAndGlyphs">PBS</text>
<path d="M17.14 -3.02H22.7M21.2 -4.72L22.9 -3.02L21.2 -1.32" stroke="#231f20" stroke-width="0.65" fill="none"/>
<text x="23.68" y="0" font-size="8.4" textLength="19.32" lengthAdjust="spacingAndGlyphs">Aged</text>
</g>
<g transform="translate(395,182)">
<text x="0" y="0" font-size="8.4" textLength="42.41" lengthAdjust="spacingAndGlyphs">Young sEV</text>
<path d="M43.01 -3.02H48.83M47.33 -4.72L49.03 -3.02L47.33 -1.32" stroke="#231f20" stroke-width="0.65" fill="none"/>
<text x="49.84" y="0" font-size="8.4" textLength="20.16" lengthAdjust="spacingAndGlyphs">Aged</text>
</g>
<text x="482.8" y="168.8" font-size="12" font-weight="bold" fill="#000">g</text>
<line x1="510" y1="179.7" x2="510" y2="264.55" stroke="#7a7a7a" stroke-width="0.7"/>
<line x1="506.8" y1="264.25" x2="510" y2="264.25" stroke="#7a7a7a" stroke-width="0.7"/>
<text x="503" y="267" font-size="7" text-anchor="end">0</text>
<line x1="506.8" y1="247.4" x2="510" y2="247.4" stroke="#7a7a7a" stroke-width="0.7"/>
<text x="503" y="250.15" font-size="7" text-anchor="end">2</text>
<line x1="506.8" y1="230.55" x2="510" y2="230.55" stroke="#7a7a7a" stroke-width="0.7"/>
<text x="503" y="233.3" font-size="7" text-anchor="end">4</text>
<line x1="506.8" y1="213.7" x2="510" y2="213.7" stroke="#7a7a7a" stroke-width="0.7"/>
<text x="503" y="216.45" font-size="7" text-anchor="end">6</text>
<line x1="506.8" y1="196.85" x2="510" y2="196.85" stroke="#7a7a7a" stroke-width="0.7"/>
<text x="503" y="199.6" font-size="7" text-anchor="end">8</text>
<line x1="506.8" y1="180" x2="510" y2="180" stroke="#7a7a7a" stroke-width="0.7"/>
<text x="503" y="182.75" font-size="7" text-anchor="end">10</text>
<rect x="517" y="200.22" width="13" height="64.03" fill="#5050f4" stroke="#3a3a3a" stroke-width="0.55"/>
<circle cx="521" cy="196.43" r="1.2" fill="#111"/>
<circle cx="526" cy="196.43" r="1.2" fill="#111"/>
<circle cx="522.5" cy="204.85" r="1.2" fill="#111"/>
<line x1="523.5" y1="196.85" x2="523.5" y2="203.59" stroke="#111" stroke-width="0.6"/>
<line x1="520.9" y1="196.85" x2="526.1" y2="196.85" stroke="#111" stroke-width="0.6"/>
<line x1="520.9" y1="203.59" x2="526.1" y2="203.59" stroke="#111" stroke-width="0.6"/>
<rect x="546.25" y="236.19" width="13" height="28.06" fill="#f03e3f" stroke="#3a3a3a" stroke-width="0.55"/>
<circle cx="549.55" cy="213.7" r="1.2" fill="#111"/>
<circle cx="555.95" cy="213.7" r="1.2" fill="#111"/>
<circle cx="549.55" cy="263.83" r="1.2" fill="#111"/>
<circle cx="552.75" cy="263.83" r="1.2" fill="#111"/>
<circle cx="555.95" cy="263.83" r="1.2" fill="#111"/>
<line x1="552.75" y1="223.56" x2="552.75" y2="248.83" stroke="#111" stroke-width="0.6"/>
<line x1="550.15" y1="223.56" x2="555.35" y2="223.56" stroke="#111" stroke-width="0.6"/>
<line x1="550.15" y1="248.83" x2="555.35" y2="248.83" stroke="#111" stroke-width="0.6"/>
<line x1="509.7" y1="264.25" x2="566.25" y2="264.25" stroke="#7a7a7a" stroke-width="0.7"/>
<line x1="523.75" y1="264.25" x2="523.75" y2="267.75" stroke="#7a7a7a" stroke-width="0.7"/>
<line x1="538" y1="264.25" x2="538" y2="267.75" stroke="#7a7a7a" stroke-width="0.7"/>
<line x1="552.5" y1="264.25" x2="552.5" y2="267.75" stroke="#7a7a7a" stroke-width="0.7"/>
<circle cx="532" cy="263.9" r="0.95" fill="#111"/>
<circle cx="535" cy="263.9" r="0.95" fill="#111"/>
<circle cx="538" cy="263.9" r="0.95" fill="#111"/>
<circle cx="541" cy="263.9" r="0.95" fill="#111"/>
<circle cx="544" cy="263.9" r="0.95" fill="#111"/>
<path d="M523.75 189.2V185H538V189.2" fill="none" stroke="#6d6e71" stroke-width="0.65"/>
<use href="#st" transform="translate(526.27,180.9) scale(2.35)"/>
<use href="#st" transform="translate(530.88,180.9) scale(2.35)"/>
<use href="#st" transform="translate(535.48,180.9) scale(2.35)"/>
<path d="M538 201.2V197H552.5V201.2" fill="none" stroke="#6d6e71" stroke-width="0.65"/>
<use href="#st" transform="translate(545.25,192.9) scale(2.35)"/>
<text transform="translate(488.88,222.5) rotate(-90)" font-size="7.3" text-anchor="middle" textLength="60" lengthAdjust="spacingAndGlyphs">Implantation sites</text>
<text x="583" y="170" font-size="12" font-weight="bold" fill="#000">h</text>
<line x1="613.75" y1="180.2" x2="613.75" y2="264.05" stroke="#7a7a7a" stroke-width="0.7"/>
<line x1="610.55" y1="263.75" x2="613.75" y2="263.75" stroke="#7a7a7a" stroke-width="0.7"/>
<text x="603.5" y="266.5" font-size="7" text-anchor="end">0</text>
<line x1="610.55" y1="247.1" x2="613.75" y2="247.1" stroke="#7a7a7a" stroke-width="0.7"/>
<text x="603.5" y="249.85" font-size="7" text-anchor="end">2</text>
<line x1="610.55" y1="230.45" x2="613.75" y2="230.45" stroke="#7a7a7a" stroke-width="0.7"/>
<text x="603.5" y="233.2" font-size="7" text-anchor="end">4</text>
<line x1="610.55" y1="213.8" x2="613.75" y2="213.8" stroke="#7a7a7a" stroke-width="0.7"/>
<text x="603.5" y="216.55" font-size="7" text-anchor="end">6</text>
<line x1="610.55" y1="197.15" x2="613.75" y2="197.15" stroke="#7a7a7a" stroke-width="0.7"/>
<text x="603.5" y="199.9" font-size="7" text-anchor="end">8</text>
<line x1="610.55" y1="180.5" x2="613.75" y2="180.5" stroke="#7a7a7a" stroke-width="0.7"/>
<text x="603.5" y="183.25" font-size="7" text-anchor="end">10</text>
<rect x="618" y="194.24" width="12.5" height="69.51" fill="#5050f4" stroke="#3a3a3a" stroke-width="0.55"/>
<circle cx="620.75" cy="188.82" r="1.2" fill="#111"/>
<circle cx="624.25" cy="188.82" r="1.2" fill="#111"/>
<circle cx="627.75" cy="188.82" r="1.2" fill="#111"/>
<circle cx="620.75" cy="197.15" r="1.2" fill="#111"/>
<circle cx="624.25" cy="197.15" r="1.2" fill="#111"/>
<circle cx="627.75" cy="197.15" r="1.2" fill="#111"/>
<line x1="624.25" y1="192.16" x2="624.25" y2="196.32" stroke="#111" stroke-width="0.6"/>
<line x1="621.65" y1="192.16" x2="626.85" y2="192.16" stroke="#111" stroke-width="0.6"/>
<line x1="621.65" y1="196.32" x2="626.85" y2="196.32" stroke="#111" stroke-width="0.6"/>
<rect x="632.5" y="227.12" width="12.5" height="36.63" fill="#ffffff" stroke="#3a3a3a" stroke-width="0.55"/>
<circle cx="638.75" cy="213.8" r="1.2" fill="#111"/>
<circle cx="636.25" cy="222.12" r="1.2" fill="#111"/>
<circle cx="641.25" cy="229.62" r="1.2" fill="#111"/>
<circle cx="637.75" cy="232.12" r="1.2" fill="#111"/>
<circle cx="638.75" cy="238.78" r="1.2" fill="#111"/>
<line x1="638.75" y1="222.12" x2="638.75" y2="232.12" stroke="#111" stroke-width="0.6"/>
<line x1="636.15" y1="222.12" x2="641.35" y2="222.12" stroke="#111" stroke-width="0.6"/>
<line x1="636.15" y1="232.12" x2="641.35" y2="232.12" stroke="#111" stroke-width="0.6"/>
<rect x="647" y="199.23" width="12.5" height="64.52" fill="#f03e3f" stroke="#3a3a3a" stroke-width="0.55"/>
<circle cx="653.25" cy="188.82" r="1.2" fill="#111"/>
<circle cx="650.25" cy="197.15" r="1.2" fill="#111"/>
<circle cx="656.25" cy="197.15" r="1.2" fill="#111"/>
<circle cx="650.25" cy="205.47" r="1.2" fill="#111"/>
<circle cx="656.25" cy="205.47" r="1.2" fill="#111"/>
<line x1="653.25" y1="192.57" x2="653.25" y2="205.89" stroke="#111" stroke-width="0.6"/>
<line x1="650.65" y1="192.57" x2="655.85" y2="192.57" stroke="#111" stroke-width="0.6"/>
<line x1="650.65" y1="205.89" x2="655.85" y2="205.89" stroke="#111" stroke-width="0.6"/>
<line x1="613.45" y1="263.75" x2="667" y2="263.75" stroke="#7a7a7a" stroke-width="0.7"/>
<line x1="623.75" y1="263.75" x2="623.75" y2="267.25" stroke="#7a7a7a" stroke-width="0.7"/>
<line x1="638.75" y1="263.75" x2="638.75" y2="267.25" stroke="#7a7a7a" stroke-width="0.7"/>
<line x1="653.25" y1="263.75" x2="653.25" y2="267.25" stroke="#7a7a7a" stroke-width="0.7"/>
<path d="M623.75 171.2V167H638.75V171.2" fill="none" stroke="#6d6e71" stroke-width="0.65"/>
<use href="#st" transform="translate(626.65,162.9) scale(2.35)"/>
<use href="#st" transform="translate(631.25,162.9) scale(2.35)"/>
<use href="#st" transform="translate(635.85,162.9) scale(2.35)"/>
<path d="M638.75 185.45V181.25H653.25V185.45" fill="none" stroke="#6d6e71" stroke-width="0.65"/>
<use href="#st" transform="translate(641.4,177.15) scale(2.35)"/>
<use href="#st" transform="translate(646,177.15) scale(2.35)"/>
<use href="#st" transform="translate(650.6,177.15) scale(2.35)"/>
<text transform="translate(589.63,221.9) rotate(-90)" font-size="7.3" text-anchor="middle" textLength="36" lengthAdjust="spacingAndGlyphs">Litter sizes</text>
<text x="18.3" y="289.5" font-size="12" font-weight="bold" fill="#000">i</text>
<line x1="60" y1="286.7" x2="60" y2="362.05" stroke="#7a7a7a" stroke-width="0.7"/>
<line x1="56.8" y1="361.75" x2="60" y2="361.75" stroke="#7a7a7a" stroke-width="0.7"/>
<text x="52.4" y="364.5" font-size="7" text-anchor="end">2,000</text>
<line x1="56.8" y1="343.06" x2="60" y2="343.06" stroke="#7a7a7a" stroke-width="0.7"/>
<text x="52.4" y="345.81" font-size="7" text-anchor="end">3,000</text>
<line x1="56.8" y1="324.38" x2="60" y2="324.38" stroke="#7a7a7a" stroke-width="0.7"/>
<text x="52.4" y="327.12" font-size="7" text-anchor="end">4,000</text>
<line x1="56.8" y1="305.69" x2="60" y2="305.69" stroke="#7a7a7a" stroke-width="0.7"/>
<text x="52.4" y="308.44" font-size="7" text-anchor="end">5,000</text>
<line x1="56.8" y1="287" x2="60" y2="287" stroke="#7a7a7a" stroke-width="0.7"/>
<text x="52.4" y="289.75" font-size="7" text-anchor="end">6,000</text>
<line x1="59.7" y1="361.75" x2="175.5" y2="361.75" stroke="#7a7a7a" stroke-width="0.7"/>
<line x1="60" y1="361.75" x2="60" y2="363.95" stroke="#7a7a7a" stroke-width="0.6"/>
<line x1="66.42" y1="361.75" x2="66.42" y2="363.95" stroke="#7a7a7a" stroke-width="0.6"/>
<line x1="72.83" y1="361.75" x2="72.83" y2="363.95" stroke="#7a7a7a" stroke-width="0.6"/>
<line x1="79.25" y1="361.75" x2="79.25" y2="363.95" stroke="#7a7a7a" stroke-width="0.6"/>
<line x1="85.67" y1="361.75" x2="85.67" y2="363.95" stroke="#7a7a7a" stroke-width="0.6"/>
<line x1="92.08" y1="361.75" x2="92.08" y2="363.95" stroke="#7a7a7a" stroke-width="0.6"/>
<line x1="98.5" y1="361.75" x2="98.5" y2="363.95" stroke="#7a7a7a" stroke-width="0.6"/>
<line x1="104.92" y1="361.75" x2="104.92" y2="363.95" stroke="#7a7a7a" stroke-width="0.6"/>
<line x1="111.33" y1="361.75" x2="111.33" y2="363.95" stroke="#7a7a7a" stroke-width="0.6"/>
<line x1="117.75" y1="361.75" x2="117.75" y2="363.95" stroke="#7a7a7a" stroke-width="0.6"/>
<line x1="124.17" y1="361.75" x2="124.17" y2="363.95" stroke="#7a7a7a" stroke-width="0.6"/>
<line x1="130.58" y1="361.75" x2="130.58" y2="363.95" stroke="#7a7a7a" stroke-width="0.6"/>
<line x1="137" y1="361.75" x2="137" y2="363.95" stroke="#7a7a7a" stroke-width="0.6"/>
<line x1="143.42" y1="361.75" x2="143.42" y2="363.95" stroke="#7a7a7a" stroke-width="0.6"/>
<line x1="149.83" y1="361.75" x2="149.83" y2="363.95" stroke="#7a7a7a" stroke-width="0.6"/>
<line x1="156.25" y1="361.75" x2="156.25" y2="363.95" stroke="#7a7a7a" stroke-width="0.6"/>
<line x1="162.67" y1="361.75" x2="162.67" y2="363.95" stroke="#7a7a7a" stroke-width="0.6"/>
<line x1="169.08" y1="361.75" x2="169.08" y2="363.95" stroke="#7a7a7a" stroke-width="0.6"/>
<line x1="175.5" y1="361.75" x2="175.5" y2="363.95" stroke="#7a7a7a" stroke-width="0.6"/>
<rect x="60" y="366.6" width="115.5" height="3.6" fill="#fff" stroke="#333" stroke-width="0.5"/>
<rect x="60" y="366.6" width="28.75" height="3.6" fill="#111"/>
<rect x="117.5" y="366.6" width="28.9" height="3.6" fill="#111"/>
<path d="M60.8 321.6V313.13M62.25 316.03V304.87M63.7 319.92V309.27M65.15 318.48V307.47M66.6 318.59V312.31M68.05 322.22V314.83M69.5 328.1V321.17M70.95 325.18V314M72.4 322.12V310.35M73.85 321.46V316.21M75.3 322.56V317.1M76.75 324.97V319.06M78.2 328.49V322.57M79.65 333.97V326.02M81.1 330.19V321.39M82.55 329.54V323.38M84 333.47V329.4M85.45 327.71V320.29M86.9 325.33V318.31M88.35 321.87V313.26M89.8 322.08V310.35M91.25 327.58V317.97M92.7 332.69V324.49M94.15 337.46V328.44M95.6 338.61V329.12M97.05 328.54V324.07M98.5 335.44V324.14M99.95 340.1V329.76M101.4 336.49V325.39M102.85 331.42V320.94M104.3 336.22V329.02M105.75 335.96V328.7M107.2 331.9V327.03M108.65 336.23V327.07M110.1 334.54V330M111.55 335.12V330.54M113 342.02V336.3M114.45 335.03V329.69M115.9 335.27V328.49M117.35 332.02V327.56M118.8 317.95V313.92M120.25 306.38V301.13M121.7 308.61V303.76M123.15 310.74V303.77M124.6 314.97V310.73M126.05 320.85V309.76M127.5 317.28V308.29M128.95 313.61V308.37M130.4 321.41V315.34M131.85 331.65V324.81M133.3 328.11V321.13M134.75 324.71V319.68M136.2 331.8V320.91M137.65 334.83V322.77M139.1 331.12V323.32M140.55 332.68V324.74M142 331.09V326.36M143.45 330.13V325.27M144.9 325.2V318.4M146.35 318.27V312.1M147.8 319.47V308.75M149.25 323.2V317.86M150.7 333.1V328.87M152.15 333.9V322.19M153.6 330.55V322.25M155.05 333.41V328.19M156.5 323.06V314.64M157.95 315.28V311.03M159.4 322.86V314.56M160.85 327.69V315.76M162.3 328.94V317.93M163.75 329.1V319.44M165.2 327.9V321.76M166.65 332.35V325.35M168.1 332.08V326.69M169.55 327.04V316.78M171 329.7V321.36M172.45 333.67V323.35M173.9 329.98V323.28" stroke="#b4b6f4" stroke-width="0.6" fill="none"/>
<polyline points="60.8,318.42 62.25,311.85 63.7,315.93 65.15,314.35 66.6,316.24 68.05,319.45 69.5,325.5 70.95,320.99 72.4,317.7 73.85,319.49 75.3,320.51 76.75,322.75 78.2,326.27 79.65,330.99 81.1,326.89 82.55,327.23 84,331.95 85.45,324.93 86.9,322.7 88.35,318.64 89.8,317.68 91.25,323.98 92.7,329.62 94.15,334.08 95.6,335.05 97.05,326.86 98.5,331.2 99.95,336.22 101.4,332.33 102.85,327.49 104.3,333.52 105.75,333.23 107.2,330.08 108.65,332.79 110.1,332.84 111.55,333.4 113,339.87 114.45,333.03 115.9,332.73 117.35,330.35 118.8,316.44 120.25,304.41 121.7,306.79 123.15,308.13 124.6,313.38 126.05,316.69 127.5,313.91 128.95,311.64 130.4,319.13 131.85,329.08 133.3,325.49 134.75,322.83 136.2,327.72 137.65,330.31 139.1,328.2 140.55,329.71 142,329.32 143.45,328.31 144.9,322.65 146.35,315.95 147.8,315.45 149.25,321.2 150.7,331.51 152.15,329.51 153.6,327.44 155.05,331.45 156.5,319.91 157.95,313.69 159.4,319.75 160.85,323.22 162.3,324.81 163.75,325.48 165.2,325.6 166.65,329.72 168.1,330.06 169.55,323.19 171,326.57 172.45,329.8 173.9,327.47" fill="none" stroke="#4a4af0" stroke-width="0.5"/>
<path d="M60 317.62h1.6v1.6h-1.6zM61.45 311.05h1.6v1.6h-1.6zM62.9 315.13h1.6v1.6h-1.6zM64.35 313.55h1.6v1.6h-1.6zM65.8 315.44h1.6v1.6h-1.6zM67.25 318.65h1.6v1.6h-1.6zM68.7 324.7h1.6v1.6h-1.6zM70.15 320.19h1.6v1.6h-1.6zM71.6 316.9h1.6v1.6h-1.6zM73.05 318.69h1.6v1.6h-1.6zM74.5 319.71h1.6v1.6h-1.6zM75.95 321.95h1.6v1.6h-1.6zM77.4 325.47h1.6v1.6h-1.6zM78.85 330.19h1.6v1.6h-1.6zM80.3 326.09h1.6v1.6h-1.6zM81.75 326.43h1.6v1.6h-1.6zM83.2 331.15h1.6v1.6h-1.6zM84.65 324.13h1.6v1.6h-1.6zM86.1 321.9h1.6v1.6h-1.6zM87.55 317.84h1.6v1.6h-1.6zM89 316.88h1.6v1.6h-1.6zM90.45 323.18h1.6v1.6h-1.6zM91.9 328.82h1.6v1.6h-1.6zM93.35 333.28h1.6v1.6h-1.6zM94.8 334.25h1.6v1.6h-1.6zM96.25 326.06h1.6v1.6h-1.6zM97.7 330.4h1.6v1.6h-1.6zM99.15 335.42h1.6v1.6h-1.6zM100.6 331.53h1.6v1.6h-1.6zM102.05 326.69h1.6v1.6h-1.6zM103.5 332.72h1.6v1.6h-1.6zM104.95 332.43h1.6v1.6h-1.6zM106.4 329.28h1.6v1.6h-1.6zM107.85 331.99h1.6v1.6h-1.6zM109.3 332.04h1.6v1.6h-1.6zM110.75 332.6h1.6v1.6h-1.6zM112.2 339.07h1.6v1.6h-1.6zM113.65 332.23h1.6v1.6h-1.6zM115.1 331.93h1.6v1.6h-1.6zM116.55 329.55h1.6v1.6h-1.6zM118 315.64h1.6v1.6h-1.6zM119.45 303.61h1.6v1.6h-1.6zM120.9 305.99h1.6v1.6h-1.6zM122.35 307.33h1.6v1.6h-1.6zM123.8 312.58h1.6v1.6h-1.6zM125.25 315.89h1.6v1.6h-1.6zM126.7 313.11h1.6v1.6h-1.6zM128.15 310.84h1.6v1.6h-1.6zM129.6 318.33h1.6v1.6h-1.6zM131.05 328.28h1.6v1.6h-1.6zM132.5 324.69h1.6v1.6h-1.6zM133.95 322.03h1.6v1.6h-1.6zM135.4 326.92h1.6v1.6h-1.6zM136.85 329.51h1.6v1.6h-1.6zM138.3 327.4h1.6v1.6h-1.6zM139.75 328.91h1.6v1.6h-1.6zM141.2 328.52h1.6v1.6h-1.6zM142.65 327.51h1.6v1.6h-1.6zM144.1 321.85h1.6v1.6h-1.6zM145.55 315.15h1.6v1.6h-1.6zM147 314.65h1.6v1.6h-1.6zM148.45 320.4h1.6v1.6h-1.6zM149.9 330.71h1.6v1.6h-1.6zM151.35 328.71h1.6v1.6h-1.6zM152.8 326.64h1.6v1.6h-1.6zM154.25 330.65h1.6v1.6h-1.6zM155.7 319.11h1.6v1.6h-1.6zM157.15 312.89h1.6v1.6h-1.6zM158.6 318.95h1.6v1.6h-1.6zM160.05 322.42h1.6v1.6h-1.6zM161.5 324.01h1.6v1.6h-1.6zM162.95 324.68h1.6v1.6h-1.6zM164.4 324.8h1.6v1.6h-1.6zM165.85 328.92h1.6v1.6h-1.6zM167.3 329.26h1.6v1.6h-1.6zM168.75 322.39h1.6v1.6h-1.6zM170.2 325.77h1.6v1.6h-1.6zM171.65 329h1.6v1.6h-1.6zM173.1 326.67h1.6v1.6h-1.6z" fill="#4a4af0"/>
<path d="M60.8 343.11V336.81M62.25 339.58V335.45M63.7 335.7V329.34M65.15 331.51V327.02M66.6 331.34V326.71M68.05 328.57V323.98M69.5 331.27V328.95M70.95 332.49V328.28M72.4 331.36V328.29M73.85 332.34V330.08M75.3 335.22V329.39M76.75 336.24V333.22M78.2 339.37V335M79.65 341.62V336.12M81.1 341.36V336.62M82.55 341.77V338.07M84 340.61V336.05M85.45 337.99V333.26M86.9 333.8V328.04M88.35 336V333.28M89.8 342.04V337.28M91.25 343.41V340.05M92.7 343.88V340.4M94.15 345.91V340.2M95.6 345.7V341.18M97.05 344.51V339.75M98.5 342.03V336.38M99.95 342.5V336.17M101.4 345.34V341.11M102.85 347.65V342.66M104.3 347.79V343.28M105.75 346.68V342.14M107.2 345.15V339.8M108.65 344.97V340.7M110.1 346.23V341.6M111.55 345.57V341.18M113 350.61V344.15M114.45 348.08V342.7M115.9 343.3V337.13M117.35 341.37V334.9M118.8 341.68V338.27M120.25 340.29V335.54M121.7 340.96V334.49M123.15 335.86V329.85M124.6 330.58V327.72M126.05 327.71V324.92M127.5 330.28V326.06M128.95 331.8V329.23M130.4 332.76V329.44M131.85 328.77V326.2M133.3 330.73V325.49M134.75 336.57V330.81M136.2 338.7V332.43M137.65 336.58V333.65M139.1 340.16V334.71M140.55 336.7V331.5M142 334.25V331.37M143.45 333.27V327.07M144.9 335.89V329.31M146.35 336.24V333.01M147.8 341.79V335.27M149.25 342.69V338.66M150.7 342.54V338.12M152.15 340.04V333.35M153.6 339.44V333.47M155.05 334.74V331.77M156.5 337.28V333.1M157.95 336.96V332.4M159.4 337.35V333.59M160.85 339.47V336.35M162.3 340.23V336.56M163.75 343.69V338.21M165.2 343.67V341.34M166.65 345.99V341.26M168.1 345.55V341.33M169.55 342.43V340.11M171 342.79V339.06M172.45 344.46V339.41M173.9 343.11V338.57" stroke="#f2a5a5" stroke-width="0.6" fill="none"/>
<polyline points="60.8,340.75 62.25,338.04 63.7,333.31 65.15,329.83 66.6,329.61 68.05,326.85 69.5,330.4 70.95,330.91 72.4,330.21 73.85,331.49 75.3,333.03 76.75,335.11 78.2,337.73 79.65,339.56 81.1,339.58 82.55,340.38 84,338.9 85.45,336.22 86.9,331.64 88.35,334.98 89.8,340.25 91.25,342.15 92.7,342.57 94.15,343.77 95.6,344 97.05,342.72 98.5,339.91 99.95,340.13 101.4,343.75 102.85,345.78 104.3,346.09 105.75,344.97 107.2,343.14 108.65,343.37 110.1,344.49 111.55,343.93 113,348.19 114.45,346.07 115.9,340.99 117.35,338.94 118.8,340.4 120.25,338.51 121.7,338.54 123.15,333.6 124.6,329.5 126.05,326.67 127.5,328.7 128.95,330.83 130.4,331.52 131.85,327.81 133.3,328.77 134.75,334.41 136.2,336.35 137.65,335.48 139.1,338.11 140.55,334.75 142,333.17 143.45,330.95 144.9,333.43 146.35,335.03 147.8,339.34 149.25,341.18 150.7,340.88 152.15,337.53 153.6,337.2 155.05,333.63 156.5,335.71 157.95,335.25 159.4,335.94 160.85,338.3 162.3,338.85 163.75,341.64 165.2,342.8 166.65,344.21 168.1,343.97 169.55,341.56 171,341.39 172.45,342.56 173.9,341.41" fill="none" stroke="#e83232" stroke-width="0.6"/>
<path d="M60 339.95h1.6v1.6h-1.6zM61.45 337.24h1.6v1.6h-1.6zM62.9 332.51h1.6v1.6h-1.6zM64.35 329.03h1.6v1.6h-1.6zM65.8 328.81h1.6v1.6h-1.6zM67.25 326.05h1.6v1.6h-1.6zM68.7 329.6h1.6v1.6h-1.6zM70.15 330.11h1.6v1.6h-1.6zM71.6 329.41h1.6v1.6h-1.6zM73.05 330.69h1.6v1.6h-1.6zM74.5 332.23h1.6v1.6h-1.6zM75.95 334.31h1.6v1.6h-1.6zM77.4 336.93h1.6v1.6h-1.6zM78.85 338.76h1.6v1.6h-1.6zM80.3 338.78h1.6v1.6h-1.6zM81.75 339.58h1.6v1.6h-1.6zM83.2 338.1h1.6v1.6h-1.6zM84.65 335.42h1.6v1.6h-1.6zM86.1 330.84h1.6v1.6h-1.6zM87.55 334.18h1.6v1.6h-1.6zM89 339.45h1.6v1.6h-1.6zM90.45 341.35h1.6v1.6h-1.6zM91.9 341.77h1.6v1.6h-1.6zM93.35 342.97h1.6v1.6h-1.6zM94.8 343.2h1.6v1.6h-1.6zM96.25 341.92h1.6v1.6h-1.6zM97.7 339.11h1.6v1.6h-1.6zM99.15 339.33h1.6v1.6h-1.6zM100.6 342.95h1.6v1.6h-1.6zM102.05 344.98h1.6v1.6h-1.6zM103.5 345.29h1.6v1.6h-1.6zM104.95 344.17h1.6v1.6h-1.6zM106.4 342.34h1.6v1.6h-1.6zM107.85 342.57h1.6v1.6h-1.6zM109.3 343.69h1.6v1.6h-1.6zM110.75 343.13h1.6v1.6h-1.6zM112.2 347.39h1.6v1.6h-1.6zM113.65 345.27h1.6v1.6h-1.6zM115.1 340.19h1.6v1.6h-1.6zM116.55 338.14h1.6v1.6h-1.6zM118 339.6h1.6v1.6h-1.6zM119.45 337.71h1.6v1.6h-1.6zM120.9 337.74h1.6v1.6h-1.6zM122.35 332.8h1.6v1.6h-1.6zM123.8 328.7h1.6v1.6h-1.6zM125.25 325.87h1.6v1.6h-1.6zM126.7 327.9h1.6v1.6h-1.6zM128.15 330.03h1.6v1.6h-1.6zM129.6 330.72h1.6v1.6h-1.6zM131.05 327.01h1.6v1.6h-1.6zM132.5 327.97h1.6v1.6h-1.6zM133.95 333.61h1.6v1.6h-1.6zM135.4 335.55h1.6v1.6h-1.6zM136.85 334.68h1.6v1.6h-1.6zM138.3 337.31h1.6v1.6h-1.6zM139.75 333.95h1.6v1.6h-1.6zM141.2 332.37h1.6v1.6h-1.6zM142.65 330.15h1.6v1.6h-1.6zM144.1 332.63h1.6v1.6h-1.6zM145.55 334.23h1.6v1.6h-1.6zM147 338.54h1.6v1.6h-1.6zM148.45 340.38h1.6v1.6h-1.6zM149.9 340.08h1.6v1.6h-1.6zM151.35 336.73h1.6v1.6h-1.6zM152.8 336.4h1.6v1.6h-1.6zM154.25 332.83h1.6v1.6h-1.6zM155.7 334.91h1.6v1.6h-1.6zM157.15 334.45h1.6v1.6h-1.6zM158.6 335.14h1.6v1.6h-1.6zM160.05 337.5h1.6v1.6h-1.6zM161.5 338.05h1.6v1.6h-1.6zM162.95 340.84h1.6v1.6h-1.6zM164.4 342h1.6v1.6h-1.6zM165.85 343.41h1.6v1.6h-1.6zM167.3 343.17h1.6v1.6h-1.6zM168.75 340.76h1.6v1.6h-1.6zM170.2 340.59h1.6v1.6h-1.6zM171.65 341.76h1.6v1.6h-1.6zM173.1 340.61h1.6v1.6h-1.6z" fill="#e83232"/>
<path d="M60.8 345.32V339.58M62.25 342.91V338.01M63.7 338.59V335.31M65.15 337.33V334.22M66.6 332.53V329.21M68.05 331.99V327.98M69.5 329.18V326.43M70.95 329.62V325.66M72.4 330.2V327M73.85 334.19V328.07M75.3 339.67V333.5M76.75 338.93V334.54M78.2 340.5V337.38M79.65 343.8V337.67M81.1 341.89V338.5M82.55 343.11V339.53M84 346.72V344.62M85.45 339.92V336.23M86.9 333.34V329.26M88.35 339.78V335.58M89.8 344.49V341.55M91.25 346.97V342.76M92.7 344.35V342.23M94.15 346.26V343.06M95.6 348.77V346.3M97.05 350.64V346.87M98.5 348.36V346.09M99.95 348.53V346.35M101.4 347.23V343.87M102.85 347.91V344.84M104.3 350.1V345.55M105.75 347.86V343.56M107.2 349.12V343.88M108.65 348.64V343.79M110.1 350.41V345.32M111.55 351.45V345.68M113 352.55V348.83M114.45 350.1V346.64M115.9 348.42V342.2M117.35 345.49V342.77M118.8 344.86V339.73M120.25 343.54V338.76M121.7 339.94V337.66M123.15 336.91V331.32M124.6 334.81V328.99M126.05 332.72V328.01M127.5 332.73V327.57M128.95 335.85V330.36M130.4 336.93V334.26M131.85 336.13V331.84M133.3 333.43V329.23M134.75 341.53V335.95M136.2 344.36V338.9M137.65 343.21V337.66M139.1 342V337.46M140.55 343.32V337.49M142 340.34V335.39M143.45 337V332.01M144.9 338.47V335.42M146.35 342V339.78M147.8 344.96V342.31M149.25 344.45V340.85M150.7 344.11V341.57M152.15 343.36V337.77M153.6 346.44V342M155.05 346.81V342.09M156.5 341.25V336.54M157.95 339.15V334.21M159.4 342.25V338.11M160.85 343.47V341.36M162.3 345.03V339.6M163.75 344.28V339.06M165.2 344.37V340.17M166.65 346.31V341.98M168.1 346.51V341.65M169.55 345.25V342.88M171 347.02V341.84M172.45 346.56V343.41M173.9 346.82V344.42" stroke="#8a8a8a" stroke-width="0.6" fill="none"/>
<polyline points="60.8,343.17 62.25,341.08 63.7,337.36 65.15,336.16 66.6,331.28 68.05,330.49 69.5,328.15 70.95,328.13 72.4,329 73.85,331.9 75.3,337.36 76.75,337.28 78.2,339.33 79.65,341.5 81.1,340.62 82.55,341.77 84,345.93 85.45,338.53 86.9,331.81 88.35,338.2 89.8,343.39 91.25,345.39 92.7,343.56 94.15,345.06 95.6,347.84 97.05,349.23 98.5,347.5 99.95,347.71 101.4,345.97 102.85,346.76 104.3,348.39 105.75,346.25 107.2,347.15 108.65,346.82 110.1,348.5 111.55,349.29 113,351.15 114.45,348.8 115.9,346.09 117.35,344.47 118.8,342.94 120.25,341.75 121.7,339.08 123.15,334.82 124.6,332.63 126.05,330.95 127.5,330.8 128.95,333.79 130.4,335.93 131.85,334.52 133.3,331.86 134.75,339.44 136.2,342.31 137.65,341.13 139.1,340.3 140.55,341.13 142,338.48 143.45,335.13 144.9,337.33 146.35,341.17 147.8,343.97 149.25,343.1 150.7,343.16 152.15,341.27 153.6,344.77 155.05,345.04 156.5,339.48 157.95,337.3 159.4,340.69 160.85,342.68 162.3,342.99 163.75,342.32 165.2,342.8 166.65,344.68 168.1,344.69 169.55,344.36 171,345.08 172.45,345.38 173.9,345.92" fill="none" stroke="#111111" stroke-width="0.8"/>
<path d="M60 342.37h1.6v1.6h-1.6zM61.45 340.28h1.6v1.6h-1.6zM62.9 336.56h1.6v1.6h-1.6zM64.35 335.36h1.6v1.6h-1.6zM65.8 330.48h1.6v1.6h-1.6zM67.25 329.69h1.6v1.6h-1.6zM68.7 327.35h1.6v1.6h-1.6zM70.15 327.33h1.6v1.6h-1.6zM71.6 328.2h1.6v1.6h-1.6zM73.05 331.1h1.6v1.6h-1.6zM74.5 336.56h1.6v1.6h-1.6zM75.95 336.48h1.6v1.6h-1.6zM77.4 338.53h1.6v1.6h-1.6zM78.85 340.7h1.6v1.6h-1.6zM80.3 339.82h1.6v1.6h-1.6zM81.75 340.97h1.6v1.6h-1.6zM83.2 345.13h1.6v1.6h-1.6zM84.65 337.73h1.6v1.6h-1.6zM86.1 331.01h1.6v1.6h-1.6zM87.55 337.4h1.6v1.6h-1.6zM89 342.59h1.6v1.6h-1.6zM90.45 344.59h1.6v1.6h-1.6zM91.9 342.76h1.6v1.6h-1.6zM93.35 344.26h1.6v1.6h-1.6zM94.8 347.04h1.6v1.6h-1.6zM96.25 348.43h1.6v1.6h-1.6zM97.7 346.7h1.6v1.6h-1.6zM99.15 346.91h1.6v1.6h-1.6zM100.6 345.17h1.6v1.6h-1.6zM102.05 345.96h1.6v1.6h-1.6zM103.5 347.59h1.6v1.6h-1.6zM104.95 345.45h1.6v1.6h-1.6zM106.4 346.35h1.6v1.6h-1.6zM107.85 346.02h1.6v1.6h-1.6zM109.3 347.7h1.6v1.6h-1.6zM110.75 348.49h1.6v1.6h-1.6zM112.2 350.35h1.6v1.6h-1.6zM113.65 348h1.6v1.6h-1.6zM115.1 345.29h1.6v1.6h-1.6zM116.55 343.67h1.6v1.6h-1.6zM118 342.14h1.6v1.6h-1.6zM119.45 340.95h1.6v1.6h-1.6zM120.9 338.28h1.6v1.6h-1.6zM122.35 334.02h1.6v1.6h-1.6zM123.8 331.83h1.6v1.6h-1.6zM125.25 330.15h1.6v1.6h-1.6zM126.7 330h1.6v1.6h-1.6zM128.15 332.99h1.6v1.6h-1.6zM129.6 335.13h1.6v1.6h-1.6zM131.05 333.72h1.6v1.6h-1.6zM132.5 331.06h1.6v1.6h-1.6zM133.95 338.64h1.6v1.6h-1.6zM135.4 341.51h1.6v1.6h-1.6zM136.85 340.33h1.6v1.6h-1.6zM138.3 339.5h1.6v1.6h-1.6zM139.75 340.33h1.6v1.6h-1.6zM141.2 337.68h1.6v1.6h-1.6zM142.65 334.33h1.6v1.6h-1.6zM144.1 336.53h1.6v1.6h-1.6zM145.55 340.37h1.6v1.6h-1.6zM147 343.17h1.6v1.6h-1.6zM148.45 342.3h1.6v1.6h-1.6zM149.9 342.36h1.6v1.6h-1.6zM151.35 340.47h1.6v1.6h-1.6zM152.8 343.97h1.6v1.6h-1.6zM154.25 344.24h1.6v1.6h-1.6zM155.7 338.68h1.6v1.6h-1.6zM157.15 336.5h1.6v1.6h-1.6zM158.6 339.89h1.6v1.6h-1.6zM160.05 341.88h1.6v1.6h-1.6zM161.5 342.19h1.6v1.6h-1.6zM162.95 341.52h1.6v1.6h-1.6zM164.4 342h1.6v1.6h-1.6zM165.85 343.88h1.6v1.6h-1.6zM167.3 343.89h1.6v1.6h-1.6zM168.75 343.56h1.6v1.6h-1.6zM170.2 344.28h1.6v1.6h-1.6zM171.65 344.58h1.6v1.6h-1.6zM173.1 345.12h1.6v1.6h-1.6z" fill="#111111"/>
<text transform="translate(24.74,321.4) rotate(-90) scale(1.0527,1)" font-size="7.6" text-anchor="middle">VO<tspan font-size="4.8" dy="2">2</tspan><tspan dy="-2"> (ml/h/kg)</tspan></text>
<line x1="392.5" y1="286.7" x2="392.5" y2="362.3" stroke="#7a7a7a" stroke-width="0.7"/>
<line x1="389.3" y1="362" x2="392.5" y2="362" stroke="#7a7a7a" stroke-width="0.7"/>
<text x="385.3" y="364.75" font-size="7" text-anchor="end">2,000</text>
<line x1="389.3" y1="343.25" x2="392.5" y2="343.25" stroke="#7a7a7a" stroke-width="0.7"/>
<text x="385.3" y="346" font-size="7" text-anchor="end">3,000</text>
<line x1="389.3" y1="324.5" x2="392.5" y2="324.5" stroke="#7a7a7a" stroke-width="0.7"/>
<text x="385.3" y="327.25" font-size="7" text-anchor="end">4,000</text>
<line x1="389.3" y1="305.75" x2="392.5" y2="305.75" stroke="#7a7a7a" stroke-width="0.7"/>
<text x="385.3" y="308.5" font-size="7" text-anchor="end">5,000</text>
<line x1="389.3" y1="287" x2="392.5" y2="287" stroke="#7a7a7a" stroke-width="0.7"/>
<text x="385.3" y="289.75" font-size="7" text-anchor="end">6,000</text>
<line x1="392.2" y1="362" x2="508" y2="362" stroke="#7a7a7a" stroke-width="0.7"/>
<line x1="392.5" y1="362" x2="392.5" y2="364.2" stroke="#7a7a7a" stroke-width="0.6"/>
<line x1="398.92" y1="362" x2="398.92" y2="364.2" stroke="#7a7a7a" stroke-width="0.6"/>
<line x1="405.33" y1="362" x2="405.33" y2="364.2" stroke="#7a7a7a" stroke-width="0.6"/>
<line x1="411.75" y1="362" x2="411.75" y2="364.2" stroke="#7a7a7a" stroke-width="0.6"/>
<line x1="418.17" y1="362" x2="418.17" y2="364.2" stroke="#7a7a7a" stroke-width="0.6"/>
<line x1="424.58" y1="362" x2="424.58" y2="364.2" stroke="#7a7a7a" stroke-width="0.6"/>
<line x1="431" y1="362" x2="431" y2="364.2" stroke="#7a7a7a" stroke-width="0.6"/>
<line x1="437.42" y1="362" x2="437.42" y2="364.2" stroke="#7a7a7a" stroke-width="0.6"/>
<line x1="443.83" y1="362" x2="443.83" y2="364.2" stroke="#7a7a7a" stroke-width="0.6"/>
<line x1="450.25" y1="362" x2="450.25" y2="364.2" stroke="#7a7a7a" stroke-width="0.6"/>
<line x1="456.67" y1="362" x2="456.67" y2="364.2" stroke="#7a7a7a" stroke-width="0.6"/>
<line x1="463.08" y1="362" x2="463.08" y2="364.2" stroke="#7a7a7a" stroke-width="0.6"/>
<line x1="469.5" y1="362" x2="469.5" y2="364.2" stroke="#7a7a7a" stroke-width="0.6"/>
<line x1="475.92" y1="362" x2="475.92" y2="364.2" stroke="#7a7a7a" stroke-width="0.6"/>
<line x1="482.33" y1="362" x2="482.33" y2="364.2" stroke="#7a7a7a" stroke-width="0.6"/>
<line x1="488.75" y1="362" x2="488.75" y2="364.2" stroke="#7a7a7a" stroke-width="0.6"/>
<line x1="495.17" y1="362" x2="495.17" y2="364.2" stroke="#7a7a7a" stroke-width="0.6"/>
<line x1="501.58" y1="362" x2="501.58" y2="364.2" stroke="#7a7a7a" stroke-width="0.6"/>
<line x1="508" y1="362" x2="508" y2="364.2" stroke="#7a7a7a" stroke-width="0.6"/>
<rect x="393" y="366.75" width="115" height="3.75" fill="#fff" stroke="#333" stroke-width="0.5"/>
<rect x="393" y="366.75" width="28.25" height="3.75" fill="#111"/>
<rect x="450" y="366.75" width="29.25" height="3.75" fill="#111"/>
<path d="M393.3 324.35V319.08M394.75 318.54V312.76M396.2 320.68V307.87M397.65 321.33V313.79M399.1 322.7V308.92M400.55 321.5V314.31M402 324.43V317.08M403.45 324.4V314.7M404.9 318.32V311.7M406.35 328.34V319.95M407.8 336.18V322.2M409.25 332.41V319.12M410.7 333.27V320.68M412.15 335.39V324.54M413.6 335.59V322.02M415.05 334.43V320.6M416.5 335.11V325.03M417.95 338.87V327.16M419.4 330.31V325.03M420.85 330.3V318.47M422.3 326.33V317.2M423.75 332.53V320.51M425.2 339.23V328.24M426.65 343.86V336.32M428.1 345.99V340.72M429.55 345.59V331.89M431 341.32V335.3M432.45 346.46V337.12M433.9 344.85V336.75M435.35 343.48V335.82M436.8 347.15V335.26M438.25 351.13V336.95M439.7 345.72V338.42M441.15 348.31V337.21M442.6 347.5V339.81M444.05 352.05V341.9M445.5 349.52V340.94M446.95 348.44V342.04M448.4 345.99V339.64M449.85 337.03V330.24M451.3 329.94V316.44M452.75 320.64V311.06M454.2 314.91V307.99M455.65 318.8V305.3M457.1 320.9V306.53M458.55 323.18V314.06M460 326.08V319.94M461.45 317.76V311.11M462.9 319.69V314.01M464.35 330.55V322.47M465.8 330.78V325.1M467.25 328.3V321.21M468.7 331.34V324.06M470.15 336.07V325.8M471.6 337.52V324.2M473.05 336.46V324.46M474.5 336.89V328.13M475.95 330.35V321.57M477.4 328.88V319.05M478.85 323.98V315.56M480.3 320.22V312.17M481.75 326.26V320.87M483.2 330.9V323.44M484.65 339.43V325.34M486.1 338.55V332.54M487.55 340.2V330.57M489 337.14V326.3M490.45 333.53V320.45M491.9 337.04V330.17M493.35 341.98V334.58M494.8 344.94V337.75M496.25 341.68V333.04M497.7 338.91V329.83M499.15 349.91V335.95M500.6 347.35V334.4M502.05 348.95V335.77M503.5 342.6V337.59M504.95 341.63V336.52M506.4 341.68V330.07" stroke="#b4b6f4" stroke-width="0.6" fill="none"/>
<polyline points="393.3,322.37 394.75,316.37 396.2,315.88 397.65,318.5 399.1,317.53 400.55,318.8 402,321.68 403.45,320.77 404.9,315.84 406.35,325.19 407.8,330.93 409.25,327.42 410.7,328.55 412.15,331.32 413.6,330.5 415.05,329.25 416.5,331.33 417.95,334.48 419.4,328.33 420.85,325.87 422.3,322.91 423.75,328.02 425.2,335.11 426.65,341.03 428.1,344.02 429.55,340.45 431,339.06 432.45,342.96 433.9,341.81 435.35,340.6 436.8,342.69 438.25,345.81 439.7,342.98 441.15,344.14 442.6,344.62 444.05,348.24 445.5,346.3 446.95,346.04 448.4,343.61 449.85,334.48 451.3,324.88 452.75,317.05 454.2,312.31 455.65,313.74 457.1,315.51 458.55,319.76 460,323.78 461.45,315.27 462.9,317.56 464.35,327.52 465.8,328.65 467.25,325.64 468.7,328.61 470.15,332.22 471.6,332.52 473.05,331.96 474.5,333.61 475.95,327.06 477.4,325.19 478.85,320.82 480.3,317.2 481.75,324.24 483.2,328.1 484.65,334.14 486.1,336.29 487.55,336.59 489,333.08 490.45,328.62 491.9,334.46 493.35,339.2 494.8,342.24 496.25,338.44 497.7,335.5 499.15,344.67 500.6,342.49 502.05,344 503.5,340.72 504.95,339.71 506.4,337.32" fill="none" stroke="#4a4af0" stroke-width="0.5"/>
<path d="M392.5 321.57h1.6v1.6h-1.6zM393.95 315.57h1.6v1.6h-1.6zM395.4 315.08h1.6v1.6h-1.6zM396.85 317.7h1.6v1.6h-1.6zM398.3 316.73h1.6v1.6h-1.6zM399.75 318h1.6v1.6h-1.6zM401.2 320.88h1.6v1.6h-1.6zM402.65 319.97h1.6v1.6h-1.6zM404.1 315.04h1.6v1.6h-1.6zM405.55 324.39h1.6v1.6h-1.6zM407 330.13h1.6v1.6h-1.6zM408.45 326.62h1.6v1.6h-1.6zM409.9 327.75h1.6v1.6h-1.6zM411.35 330.52h1.6v1.6h-1.6zM412.8 329.7h1.6v1.6h-1.6zM414.25 328.45h1.6v1.6h-1.6zM415.7 330.53h1.6v1.6h-1.6zM417.15 333.68h1.6v1.6h-1.6zM418.6 327.53h1.6v1.6h-1.6zM420.05 325.07h1.6v1.6h-1.6zM421.5 322.11h1.6v1.6h-1.6zM422.95 327.22h1.6v1.6h-1.6zM424.4 334.31h1.6v1.6h-1.6zM425.85 340.23h1.6v1.6h-1.6zM427.3 343.22h1.6v1.6h-1.6zM428.75 339.65h1.6v1.6h-1.6zM430.2 338.26h1.6v1.6h-1.6zM431.65 342.16h1.6v1.6h-1.6zM433.1 341.01h1.6v1.6h-1.6zM434.55 339.8h1.6v1.6h-1.6zM436 341.89h1.6v1.6h-1.6zM437.45 345.01h1.6v1.6h-1.6zM438.9 342.18h1.6v1.6h-1.6zM440.35 343.34h1.6v1.6h-1.6zM441.8 343.82h1.6v1.6h-1.6zM443.25 347.44h1.6v1.6h-1.6zM444.7 345.5h1.6v1.6h-1.6zM446.15 345.24h1.6v1.6h-1.6zM447.6 342.81h1.6v1.6h-1.6zM449.05 333.68h1.6v1.6h-1.6zM450.5 324.08h1.6v1.6h-1.6zM451.95 316.25h1.6v1.6h-1.6zM453.4 311.51h1.6v1.6h-1.6zM454.85 312.94h1.6v1.6h-1.6zM456.3 314.71h1.6v1.6h-1.6zM457.75 318.96h1.6v1.6h-1.6zM459.2 322.98h1.6v1.6h-1.6zM460.65 314.47h1.6v1.6h-1.6zM462.1 316.76h1.6v1.6h-1.6zM463.55 326.72h1.6v1.6h-1.6zM465 327.85h1.6v1.6h-1.6zM466.45 324.84h1.6v1.6h-1.6zM467.9 327.81h1.6v1.6h-1.6zM469.35 331.42h1.6v1.6h-1.6zM470.8 331.72h1.6v1.6h-1.6zM472.25 331.16h1.6v1.6h-1.6zM473.7 332.81h1.6v1.6h-1.6zM475.15 326.26h1.6v1.6h-1.6zM476.6 324.39h1.6v1.6h-1.6zM478.05 320.02h1.6v1.6h-1.6zM479.5 316.4h1.6v1.6h-1.6zM480.95 323.44h1.6v1.6h-1.6zM482.4 327.3h1.6v1.6h-1.6zM483.85 333.34h1.6v1.6h-1.6zM485.3 335.49h1.6v1.6h-1.6zM486.75 335.79h1.6v1.6h-1.6zM488.2 332.28h1.6v1.6h-1.6zM489.65 327.82h1.6v1.6h-1.6zM491.1 333.66h1.6v1.6h-1.6zM492.55 338.4h1.6v1.6h-1.6zM494 341.44h1.6v1.6h-1.6zM495.45 337.64h1.6v1.6h-1.6zM496.9 334.7h1.6v1.6h-1.6zM498.35 343.87h1.6v1.6h-1.6zM499.8 341.69h1.6v1.6h-1.6zM501.25 343.2h1.6v1.6h-1.6zM502.7 339.92h1.6v1.6h-1.6zM504.15 338.91h1.6v1.6h-1.6zM505.6 336.52h1.6v1.6h-1.6z" fill="#4a4af0"/>
<path d="M393.3 344.35V340.67M394.75 343.09V337.99M396.2 338.57V334.51M397.65 335.91V327.51M399.1 331.69V328.03M400.55 325.94V322.8M402 324.07V320.88M403.45 326.18V321.08M404.9 324.72V316.75M406.35 327.49V319.6M407.8 328.97V321.94M409.25 333.1V324.56M410.7 337.59V329.43M412.15 337.34V332.61M413.6 336.66V332.75M415.05 340.7V332.52M416.5 335.37V328.27M417.95 330.7V327.67M419.4 330.75V324.11M420.85 333.03V328.02M422.3 337.54V332.56M423.75 343.25V338.51M425.2 346.64V342.82M426.65 347.28V344.41M428.1 349.97V345.52M429.55 349.27V344.42M431 350.93V342.63M432.45 351.19V347.64M433.9 354.87V346.52M435.35 353.4V349.37M436.8 353.33V348.45M438.25 355.72V348.19M439.7 357.04V349.5M441.15 354.22V348.91M442.6 354.57V351.44M444.05 356.4V350.86M445.5 356.55V351.58M446.95 355.79V347.7M448.4 350.35V346.4M449.85 342.78V337.85M451.3 338.8V330.84M452.75 335.79V332.76M454.2 332.47V327.27M455.65 331.49V324.01M457.1 327.29V320.07M458.55 323.27V320.19M460 321.84V318.79M461.45 324.7V321.5M462.9 326.37V318.27M464.35 323.26V318.94M465.8 329.16V322.05M467.25 331.38V323.41M468.7 333.29V328.5M470.15 333.83V329.43M471.6 335.57V327.26M473.05 335.81V329.45M474.5 334.9V330.56M475.95 332.64V325.7M477.4 331.48V326.83M478.85 333.42V328.99M480.3 335.86V332.98M481.75 338.98V331.83M483.2 339.19V331.11M484.65 341.48V335.02M486.1 347.61V339.38M487.55 350.14V347.15M489 346.12V341.93M490.45 346.49V340.93M491.9 348.25V339.95M493.35 349.43V341.15M494.8 347.46V342.4M496.25 348.29V344.01M497.7 353.41V348.11M499.15 351.11V345.45M500.6 354.97V346.83M502.05 351.28V347.39M503.5 351.18V343.75M504.95 349.61V342.55M506.4 352.07V344.53" stroke="#f2a5a5" stroke-width="0.6" fill="none"/>
<polyline points="393.3,342.97 394.75,341.18 396.2,337.05 397.65,332.76 399.1,330.32 400.55,324.76 402,322.87 403.45,324.27 404.9,321.73 406.35,324.53 407.8,326.34 409.25,329.9 410.7,334.53 412.15,335.56 413.6,335.19 415.05,337.63 416.5,332.71 417.95,329.56 419.4,328.26 420.85,331.15 422.3,335.67 423.75,341.47 425.2,345.21 426.65,346.21 428.1,348.3 429.55,347.45 431,347.82 432.45,349.86 433.9,351.74 435.35,351.89 436.8,351.5 438.25,352.9 439.7,354.21 441.15,352.23 442.6,353.4 444.05,354.32 445.5,354.69 446.95,352.76 448.4,348.86 449.85,340.93 451.3,335.82 452.75,334.65 454.2,330.52 455.65,328.68 457.1,324.59 458.55,322.11 460,320.7 461.45,323.5 462.9,323.33 464.35,321.64 465.8,326.5 467.25,328.39 468.7,331.49 470.15,332.18 471.6,332.45 473.05,333.43 474.5,333.28 475.95,330.04 477.4,329.73 478.85,331.76 480.3,334.78 481.75,336.3 483.2,336.16 484.65,339.06 486.1,344.53 487.55,349.02 489,344.55 490.45,344.4 491.9,345.14 493.35,346.33 494.8,345.56 496.25,346.68 497.7,351.42 499.15,348.99 500.6,351.92 502.05,349.82 503.5,348.39 504.95,346.97 506.4,349.24" fill="none" stroke="#e83232" stroke-width="0.6"/>
<path d="M392.5 342.17h1.6v1.6h-1.6zM393.95 340.38h1.6v1.6h-1.6zM395.4 336.25h1.6v1.6h-1.6zM396.85 331.96h1.6v1.6h-1.6zM398.3 329.52h1.6v1.6h-1.6zM399.75 323.96h1.6v1.6h-1.6zM401.2 322.07h1.6v1.6h-1.6zM402.65 323.47h1.6v1.6h-1.6zM404.1 320.93h1.6v1.6h-1.6zM405.55 323.73h1.6v1.6h-1.6zM407 325.54h1.6v1.6h-1.6zM408.45 329.1h1.6v1.6h-1.6zM409.9 333.73h1.6v1.6h-1.6zM411.35 334.76h1.6v1.6h-1.6zM412.8 334.39h1.6v1.6h-1.6zM414.25 336.83h1.6v1.6h-1.6zM415.7 331.91h1.6v1.6h-1.6zM417.15 328.76h1.6v1.6h-1.6zM418.6 327.46h1.6v1.6h-1.6zM420.05 330.35h1.6v1.6h-1.6zM421.5 334.87h1.6v1.6h-1.6zM422.95 340.67h1.6v1.6h-1.6zM424.4 344.41h1.6v1.6h-1.6zM425.85 345.41h1.6v1.6h-1.6zM427.3 347.5h1.6v1.6h-1.6zM428.75 346.65h1.6v1.6h-1.6zM430.2 347.02h1.6v1.6h-1.6zM431.65 349.06h1.6v1.6h-1.6zM433.1 350.94h1.6v1.6h-1.6zM434.55 351.09h1.6v1.6h-1.6zM436 350.7h1.6v1.6h-1.6zM437.45 352.1h1.6v1.6h-1.6zM438.9 353.41h1.6v1.6h-1.6zM440.35 351.43h1.6v1.6h-1.6zM441.8 352.6h1.6v1.6h-1.6zM443.25 353.52h1.6v1.6h-1.6zM444.7 353.89h1.6v1.6h-1.6zM446.15 351.96h1.6v1.6h-1.6zM447.6 348.06h1.6v1.6h-1.6zM449.05 340.13h1.6v1.6h-1.6zM450.5 335.02h1.6v1.6h-1.6zM451.95 333.85h1.6v1.6h-1.6zM453.4 329.72h1.6v1.6h-1.6zM454.85 327.88h1.6v1.6h-1.6zM456.3 323.79h1.6v1.6h-1.6zM457.75 321.31h1.6v1.6h-1.6zM459.2 319.9h1.6v1.6h-1.6zM460.65 322.7h1.6v1.6h-1.6zM462.1 322.53h1.6v1.6h-1.6zM463.55 320.84h1.6v1.6h-1.6zM465 325.7h1.6v1.6h-1.6zM466.45 327.59h1.6v1.6h-1.6zM467.9 330.69h1.6v1.6h-1.6zM469.35 331.38h1.6v1.6h-1.6zM470.8 331.65h1.6v1.6h-1.6zM472.25 332.63h1.6v1.6h-1.6zM473.7 332.48h1.6v1.6h-1.6zM475.15 329.24h1.6v1.6h-1.6zM476.6 328.93h1.6v1.6h-1.6zM478.05 330.96h1.6v1.6h-1.6zM479.5 333.98h1.6v1.6h-1.6zM480.95 335.5h1.6v1.6h-1.6zM482.4 335.36h1.6v1.6h-1.6zM483.85 338.26h1.6v1.6h-1.6zM485.3 343.73h1.6v1.6h-1.6zM486.75 348.22h1.6v1.6h-1.6zM488.2 343.75h1.6v1.6h-1.6zM489.65 343.6h1.6v1.6h-1.6zM491.1 344.34h1.6v1.6h-1.6zM492.55 345.53h1.6v1.6h-1.6zM494 344.76h1.6v1.6h-1.6zM495.45 345.88h1.6v1.6h-1.6zM496.9 350.62h1.6v1.6h-1.6zM498.35 348.19h1.6v1.6h-1.6zM499.8 351.12h1.6v1.6h-1.6zM501.25 349.02h1.6v1.6h-1.6zM502.7 347.59h1.6v1.6h-1.6zM504.15 346.17h1.6v1.6h-1.6zM505.6 348.44h1.6v1.6h-1.6z" fill="#e83232"/>
<path d="M393.3 355.32V351.94M394.75 349.91V347.45M396.2 347.07V343.1M397.65 341.44V335.78M399.1 335.97V332.68M400.55 335.25V331.35M402 331.07V327.69M403.45 331.83V325.62M404.9 332.53V327.5M406.35 333.69V330.99M407.8 337.93V335.04M409.25 339.93V335.63M410.7 339.53V334.49M412.15 344.99V339.53M413.6 347.83V345M415.05 344.69V341.51M416.5 346.03V340.29M417.95 337.05V332.69M419.4 335.17V331.41M420.85 339.34V335.47M422.3 344.08V337.11M423.75 347.58V343.68M425.2 348.77V343.65M426.65 350.99V346.87M428.1 350.74V346.34M429.55 352.41V345.86M431 353.14V345.96M432.45 355.78V351.64M433.9 355.72V352.38M435.35 354.1V348.2M436.8 355.97V352.6M438.25 353.9V351.47M439.7 354.55V347.82M441.15 353.46V349.03M442.6 353.66V347.32M444.05 358.05V353.7M445.5 357.38V350.75M446.95 356.58V351.97M448.4 353.03V349.85M449.85 349.18V346.71M451.3 346.08V341.03M452.75 343.13V337.65M454.2 342.61V335.85M455.65 337.38V334.56M457.1 333.74V328.35M458.55 330.59V326.41M460 329.64V324.82M461.45 332.31V329.21M462.9 333.85V330.09M464.35 339.24V334.34M465.8 343.92V337.08M467.25 342.37V339.45M468.7 343.48V338.73M470.15 341.64V335.38M471.6 346.14V339.1M473.05 345.38V342.03M474.5 343.6V340.59M475.95 338.1V331.17M477.4 337.6V330.52M478.85 338.58V333.86M480.3 340.93V338.27M481.75 351.47V344.62M483.2 349.33V345.07M484.65 347.14V340.4M486.1 342.61V337.23M487.55 345.56V339.2M489 344.51V341.34M490.45 347.28V341.11M491.9 350.5V347.04M493.35 348.93V344.59M494.8 351.4V344.94M496.25 354.13V347.75M497.7 354.7V351.42M499.15 356.56V353.11M500.6 355.95V351.63M502.05 354.89V350.01M503.5 354.13V349.89M504.95 356.67V353.68M506.4 357.61V354.02" stroke="#8a8a8a" stroke-width="0.6" fill="none"/>
<polyline points="393.3,354.05 394.75,348.98 396.2,345.58 397.65,339.32 399.1,334.74 400.55,333.78 402,329.8 403.45,329.5 404.9,330.64 406.35,332.68 407.8,336.84 409.25,338.32 410.7,337.64 412.15,342.94 413.6,346.77 415.05,343.5 416.5,343.88 417.95,335.42 419.4,333.76 420.85,337.89 422.3,341.47 423.75,346.12 425.2,346.85 426.65,349.44 428.1,349.09 429.55,349.96 431,350.45 432.45,354.23 433.9,354.47 435.35,351.88 436.8,354.71 438.25,352.99 439.7,352.02 441.15,351.8 442.6,351.28 444.05,356.42 445.5,354.89 446.95,354.86 448.4,351.84 449.85,348.25 451.3,344.19 452.75,341.07 454.2,340.08 455.65,336.32 457.1,331.72 458.55,329.02 460,327.84 461.45,331.14 462.9,332.44 464.35,337.41 465.8,341.36 467.25,341.28 468.7,341.7 470.15,339.3 471.6,343.5 473.05,344.12 474.5,342.47 475.95,335.5 477.4,334.95 478.85,336.81 480.3,339.93 481.75,348.9 483.2,347.73 484.65,344.61 486.1,340.59 487.55,343.17 489,343.32 490.45,344.97 491.9,349.21 493.35,347.3 494.8,348.98 496.25,351.74 497.7,353.47 499.15,355.27 500.6,354.33 502.05,353.06 503.5,352.54 504.95,355.55 506.4,356.27" fill="none" stroke="#111111" stroke-width="0.8"/>
<path d="M392.5 353.25h1.6v1.6h-1.6zM393.95 348.18h1.6v1.6h-1.6zM395.4 344.78h1.6v1.6h-1.6zM396.85 338.52h1.6v1.6h-1.6zM398.3 333.94h1.6v1.6h-1.6zM399.75 332.98h1.6v1.6h-1.6zM401.2 329h1.6v1.6h-1.6zM402.65 328.7h1.6v1.6h-1.6zM404.1 329.84h1.6v1.6h-1.6zM405.55 331.88h1.6v1.6h-1.6zM407 336.04h1.6v1.6h-1.6zM408.45 337.52h1.6v1.6h-1.6zM409.9 336.84h1.6v1.6h-1.6zM411.35 342.14h1.6v1.6h-1.6zM412.8 345.97h1.6v1.6h-1.6zM414.25 342.7h1.6v1.6h-1.6zM415.7 343.08h1.6v1.6h-1.6zM417.15 334.62h1.6v1.6h-1.6zM418.6 332.96h1.6v1.6h-1.6zM420.05 337.09h1.6v1.6h-1.6zM421.5 340.67h1.6v1.6h-1.6zM422.95 345.32h1.6v1.6h-1.6zM424.4 346.05h1.6v1.6h-1.6zM425.85 348.64h1.6v1.6h-1.6zM427.3 348.29h1.6v1.6h-1.6zM428.75 349.16h1.6v1.6h-1.6zM430.2 349.65h1.6v1.6h-1.6zM431.65 353.43h1.6v1.6h-1.6zM433.1 353.67h1.6v1.6h-1.6zM434.55 351.08h1.6v1.6h-1.6zM436 353.91h1.6v1.6h-1.6zM437.45 352.19h1.6v1.6h-1.6zM438.9 351.22h1.6v1.6h-1.6zM440.35 351h1.6v1.6h-1.6zM441.8 350.48h1.6v1.6h-1.6zM443.25 355.62h1.6v1.6h-1.6zM444.7 354.09h1.6v1.6h-1.6zM446.15 354.06h1.6v1.6h-1.6zM447.6 351.04h1.6v1.6h-1.6zM449.05 347.45h1.6v1.6h-1.6zM450.5 343.39h1.6v1.6h-1.6zM451.95 340.27h1.6v1.6h-1.6zM453.4 339.28h1.6v1.6h-1.6zM454.85 335.52h1.6v1.6h-1.6zM456.3 330.92h1.6v1.6h-1.6zM457.75 328.22h1.6v1.6h-1.6zM459.2 327.04h1.6v1.6h-1.6zM460.65 330.34h1.6v1.6h-1.6zM462.1 331.64h1.6v1.6h-1.6zM463.55 336.61h1.6v1.6h-1.6zM465 340.56h1.6v1.6h-1.6zM466.45 340.48h1.6v1.6h-1.6zM467.9 340.9h1.6v1.6h-1.6zM469.35 338.5h1.6v1.6h-1.6zM470.8 342.7h1.6v1.6h-1.6zM472.25 343.32h1.6v1.6h-1.6zM473.7 341.67h1.6v1.6h-1.6zM475.15 334.7h1.6v1.6h-1.6zM476.6 334.15h1.6v1.6h-1.6zM478.05 336.01h1.6v1.6h-1.6zM479.5 339.13h1.6v1.6h-1.6zM480.95 348.1h1.6v1.6h-1.6zM482.4 346.93h1.6v1.6h-1.6zM483.85 343.81h1.6v1.6h-1.6zM485.3 339.79h1.6v1.6h-1.6zM486.75 342.37h1.6v1.6h-1.6zM488.2 342.52h1.6v1.6h-1.6zM489.65 344.17h1.6v1.6h-1.6zM491.1 348.41h1.6v1.6h-1.6zM492.55 346.5h1.6v1.6h-1.6zM494 348.18h1.6v1.6h-1.6zM495.45 350.94h1.6v1.6h-1.6zM496.9 352.67h1.6v1.6h-1.6zM498.35 354.47h1.6v1.6h-1.6zM499.8 353.53h1.6v1.6h-1.6zM501.25 352.26h1.6v1.6h-1.6zM502.7 351.74h1.6v1.6h-1.6zM504.15 354.75h1.6v1.6h-1.6zM505.6 355.47h1.6v1.6h-1.6z" fill="#111111"/>
<text transform="translate(357.74,324.4) rotate(-90) scale(1.0571,1)" font-size="7.6" text-anchor="middle">VCO<tspan font-size="4.8" dy="2">2</tspan><tspan dy="-2"> (ml/h/kg)</tspan></text>
<line x1="59.5" y1="398.45" x2="59.5" y2="472.3" stroke="#7a7a7a" stroke-width="0.7"/>
<line x1="56.3" y1="472" x2="59.5" y2="472" stroke="#7a7a7a" stroke-width="0.7"/>
<text x="52.8" y="474.75" font-size="7" text-anchor="end">10</text>
<line x1="56.3" y1="453.69" x2="59.5" y2="453.69" stroke="#7a7a7a" stroke-width="0.7"/>
<text x="52.8" y="456.44" font-size="7" text-anchor="end">15</text>
<line x1="56.3" y1="435.38" x2="59.5" y2="435.38" stroke="#7a7a7a" stroke-width="0.7"/>
<text x="52.8" y="438.12" font-size="7" text-anchor="end">20</text>
<line x1="56.3" y1="417.06" x2="59.5" y2="417.06" stroke="#7a7a7a" stroke-width="0.7"/>
<text x="52.8" y="419.81" font-size="7" text-anchor="end">25</text>
<line x1="56.3" y1="398.75" x2="59.5" y2="398.75" stroke="#7a7a7a" stroke-width="0.7"/>
<text x="52.8" y="401.5" font-size="7" text-anchor="end">30</text>
<line x1="59.2" y1="472" x2="174.5" y2="472" stroke="#7a7a7a" stroke-width="0.7"/>
<line x1="59.5" y1="472" x2="59.5" y2="474.2" stroke="#7a7a7a" stroke-width="0.6"/>
<line x1="65.89" y1="472" x2="65.89" y2="474.2" stroke="#7a7a7a" stroke-width="0.6"/>
<line x1="72.28" y1="472" x2="72.28" y2="474.2" stroke="#7a7a7a" stroke-width="0.6"/>
<line x1="78.67" y1="472" x2="78.67" y2="474.2" stroke="#7a7a7a" stroke-width="0.6"/>
<line x1="85.06" y1="472" x2="85.06" y2="474.2" stroke="#7a7a7a" stroke-width="0.6"/>
<line x1="91.44" y1="472" x2="91.44" y2="474.2" stroke="#7a7a7a" stroke-width="0.6"/>
<line x1="97.83" y1="472" x2="97.83" y2="474.2" stroke="#7a7a7a" stroke-width="0.6"/>
<line x1="104.22" y1="472" x2="104.22" y2="474.2" stroke="#7a7a7a" stroke-width="0.6"/>
<line x1="110.61" y1="472" x2="110.61" y2="474.2" stroke="#7a7a7a" stroke-width="0.6"/>
<line x1="117" y1="472" x2="117" y2="474.2" stroke="#7a7a7a" stroke-width="0.6"/>
<line x1="123.39" y1="472" x2="123.39" y2="474.2" stroke="#7a7a7a" stroke-width="0.6"/>
<line x1="129.78" y1="472" x2="129.78" y2="474.2" stroke="#7a7a7a" stroke-width="0.6"/>
<line x1="136.17" y1="472" x2="136.17" y2="474.2" stroke="#7a7a7a" stroke-width="0.6"/>
<line x1="142.56" y1="472" x2="142.56" y2="474.2" stroke="#7a7a7a" stroke-width="0.6"/>
<line x1="148.94" y1="472" x2="148.94" y2="474.2" stroke="#7a7a7a" stroke-width="0.6"/>
<line x1="155.33" y1="472" x2="155.33" y2="474.2" stroke="#7a7a7a" stroke-width="0.6"/>
<line x1="161.72" y1="472" x2="161.72" y2="474.2" stroke="#7a7a7a" stroke-width="0.6"/>
<line x1="168.11" y1="472" x2="168.11" y2="474.2" stroke="#7a7a7a" stroke-width="0.6"/>
<line x1="174.5" y1="472" x2="174.5" y2="474.2" stroke="#7a7a7a" stroke-width="0.6"/>
<rect x="60" y="477.4" width="114.5" height="3.3" fill="#fff" stroke="#333" stroke-width="0.5"/>
<rect x="60" y="477.4" width="28" height="3.3" fill="#111"/>
<rect x="116.5" y="477.4" width="28.8" height="3.3" fill="#111"/>
<path d="M60.3 433.82V424.83M61.75 428.49V421.68M63.2 427.57V416.71M64.65 429.34V420.99M66.1 431.21V422.67M67.55 435.61V424.67M69 435.86V431.07M70.45 434.85V423.04M71.9 432.36V423.42M73.35 433.58V426.5M74.8 436.55V426.29M76.25 436.75V430.7M77.7 443.74V431.95M79.15 443.47V434.94M80.6 442.39V435.59M82.05 441.6V431.59M83.5 446.03V438.57M84.95 439.62V434.26M86.4 436.41V426.57M87.85 432.61V428.27M89.3 432.87V422.43M90.75 436.24V430.28M92.2 443.28V434.27M93.65 451.3V439.56M95.1 450.59V442M96.55 441.37V432.17M98 444.5V438.07M99.45 447.19V443.22M100.9 443.2V438.98M102.35 440.92V435.78M103.8 445.53V436.7M105.25 446.4V439.02M106.7 444.85V436.84M108.15 445.94V434.9M109.6 445.94V440.94M111.05 448.38V442.63M112.5 451.71V442.59M113.95 447.14V443.01M115.4 445.34V441.36M116.85 442.78V436.02M118.3 431.22V426.42M119.75 418.31V411.53M121.2 417.84V412.11M122.65 423.9V415.33M124.1 426.09V417.48M125.55 434.33V428.76M127 430.49V421.6M128.45 428.5V420.79M129.9 431.05V426.03M131.35 439.35V427.99M132.8 442.54V436.65M134.25 434.87V429.73M135.7 439.22V434.5M137.15 443.37V434.37M138.6 441.31V430.46M140.05 446.52V436.38M141.5 443.43V436.3M142.95 438.52V432.48M144.4 433.37V429.32M145.85 431.54V422.49M147.3 430.78V422.37M148.75 436.1V429.38M150.2 443.14V434.08M151.65 440.72V433.25M153.1 445.86V434.49M154.55 445.1V435.34M156 431.58V425.66M157.45 429.34V418.24M158.9 434.9V430.6M160.35 437.53V429.37M161.8 438.03V430.86M163.25 439V433.17M164.7 438.67V434.25M166.15 442.71V432.59M167.6 444.23V440.18M169.05 440.39V432.08M170.5 438.8V427.4M171.95 442.29V437.21M173.4 440.52V434.99" stroke="#b4b6f4" stroke-width="0.6" fill="none"/>
<polyline points="60.3,430.45 61.75,425.94 63.2,423.5 64.65,426.21 66.1,428.01 67.55,431.51 69,434.06 70.45,430.42 71.9,429 73.35,430.92 74.8,432.7 76.25,434.49 77.7,439.32 79.15,440.27 80.6,439.84 82.05,437.84 83.5,443.23 84.95,437.61 86.4,432.72 87.85,430.98 89.3,428.95 90.75,434.01 92.2,439.9 93.65,446.9 95.1,447.37 96.55,437.92 98,442.09 99.45,445.7 100.9,441.61 102.35,438.99 103.8,442.22 105.25,443.63 106.7,441.85 108.15,441.8 109.6,444.06 111.05,446.23 112.5,448.29 113.95,445.59 115.4,443.84 116.85,440.25 118.3,429.42 119.75,415.76 121.2,415.69 122.65,420.68 124.1,422.86 125.55,432.24 127,427.16 128.45,425.61 129.9,429.17 131.35,435.09 132.8,440.33 134.25,432.94 135.7,437.45 137.15,440 138.6,437.24 140.05,442.72 141.5,440.76 142.95,436.25 144.4,431.85 145.85,428.15 147.3,427.63 148.75,433.58 150.2,439.74 151.65,437.92 153.1,441.6 154.55,441.44 156,429.36 157.45,425.18 158.9,433.29 160.35,434.47 161.8,435.34 163.25,436.81 164.7,437.01 166.15,438.92 167.6,442.71 169.05,437.27 170.5,434.53 171.95,440.39 173.4,438.45" fill="none" stroke="#4a4af0" stroke-width="0.5"/>
<path d="M59.5 429.65h1.6v1.6h-1.6zM60.95 425.14h1.6v1.6h-1.6zM62.4 422.7h1.6v1.6h-1.6zM63.85 425.41h1.6v1.6h-1.6zM65.3 427.21h1.6v1.6h-1.6zM66.75 430.71h1.6v1.6h-1.6zM68.2 433.26h1.6v1.6h-1.6zM69.65 429.62h1.6v1.6h-1.6zM71.1 428.2h1.6v1.6h-1.6zM72.55 430.12h1.6v1.6h-1.6zM74 431.9h1.6v1.6h-1.6zM75.45 433.69h1.6v1.6h-1.6zM76.9 438.52h1.6v1.6h-1.6zM78.35 439.47h1.6v1.6h-1.6zM79.8 439.04h1.6v1.6h-1.6zM81.25 437.04h1.6v1.6h-1.6zM82.7 442.43h1.6v1.6h-1.6zM84.15 436.81h1.6v1.6h-1.6zM85.6 431.92h1.6v1.6h-1.6zM87.05 430.18h1.6v1.6h-1.6zM88.5 428.15h1.6v1.6h-1.6zM89.95 433.21h1.6v1.6h-1.6zM91.4 439.1h1.6v1.6h-1.6zM92.85 446.1h1.6v1.6h-1.6zM94.3 446.57h1.6v1.6h-1.6zM95.75 437.12h1.6v1.6h-1.6zM97.2 441.29h1.6v1.6h-1.6zM98.65 444.9h1.6v1.6h-1.6zM100.1 440.81h1.6v1.6h-1.6zM101.55 438.19h1.6v1.6h-1.6zM103 441.42h1.6v1.6h-1.6zM104.45 442.83h1.6v1.6h-1.6zM105.9 441.05h1.6v1.6h-1.6zM107.35 441h1.6v1.6h-1.6zM108.8 443.26h1.6v1.6h-1.6zM110.25 445.43h1.6v1.6h-1.6zM111.7 447.49h1.6v1.6h-1.6zM113.15 444.79h1.6v1.6h-1.6zM114.6 443.04h1.6v1.6h-1.6zM116.05 439.45h1.6v1.6h-1.6zM117.5 428.62h1.6v1.6h-1.6zM118.95 414.96h1.6v1.6h-1.6zM120.4 414.89h1.6v1.6h-1.6zM121.85 419.88h1.6v1.6h-1.6zM123.3 422.06h1.6v1.6h-1.6zM124.75 431.44h1.6v1.6h-1.6zM126.2 426.36h1.6v1.6h-1.6zM127.65 424.81h1.6v1.6h-1.6zM129.1 428.37h1.6v1.6h-1.6zM130.55 434.29h1.6v1.6h-1.6zM132 439.53h1.6v1.6h-1.6zM133.45 432.14h1.6v1.6h-1.6zM134.9 436.65h1.6v1.6h-1.6zM136.35 439.2h1.6v1.6h-1.6zM137.8 436.44h1.6v1.6h-1.6zM139.25 441.92h1.6v1.6h-1.6zM140.7 439.96h1.6v1.6h-1.6zM142.15 435.45h1.6v1.6h-1.6zM143.6 431.05h1.6v1.6h-1.6zM145.05 427.35h1.6v1.6h-1.6zM146.5 426.83h1.6v1.6h-1.6zM147.95 432.78h1.6v1.6h-1.6zM149.4 438.94h1.6v1.6h-1.6zM150.85 437.12h1.6v1.6h-1.6zM152.3 440.8h1.6v1.6h-1.6zM153.75 440.64h1.6v1.6h-1.6zM155.2 428.56h1.6v1.6h-1.6zM156.65 424.38h1.6v1.6h-1.6zM158.1 432.49h1.6v1.6h-1.6zM159.55 433.67h1.6v1.6h-1.6zM161 434.54h1.6v1.6h-1.6zM162.45 436.01h1.6v1.6h-1.6zM163.9 436.21h1.6v1.6h-1.6zM165.35 438.12h1.6v1.6h-1.6zM166.8 441.91h1.6v1.6h-1.6zM168.25 436.47h1.6v1.6h-1.6zM169.7 433.73h1.6v1.6h-1.6zM171.15 439.59h1.6v1.6h-1.6zM172.6 437.65h1.6v1.6h-1.6z" fill="#4a4af0"/>
<path d="M60.3 453.68V447.89M61.75 452.48V446.68M63.2 449.22V443.11M64.65 444.97V442.49M66.1 444.3V438.29M67.55 440.73V434.51M69 441.65V435.3M70.45 443.2V440.53M71.9 441.65V438.55M73.35 441.56V438.87M74.8 446.08V443.73M76.25 448.73V442.8M77.7 451.14V445.37M79.15 451.47V446.49M80.6 454.86V449.03M82.05 453.98V449.01M83.5 448.7V445.24M84.95 446.87V444.23M86.4 444.37V441.75M87.85 450.03V444.5M89.3 451.86V448.76M90.75 453.23V449.63M92.2 455.39V451.33M93.65 455.7V453.41M95.1 458.31V454.99M96.55 454.54V451.1M98 455.48V450.14M99.45 454.21V450.39M100.9 453.81V450.2M102.35 459.3V452.87M103.8 458.2V453.79M105.25 459.02V453.08M106.7 455.7V450.79M108.15 455.67V453.34M109.6 457.11V453.1M111.05 456.36V452.24M112.5 457.7V452.1M113.95 457.07V453.34M115.4 454.02V448.72M116.85 451.8V447.24M118.3 450.23V447.08M119.75 451.15V445.17M121.2 448.72V446.12M122.65 447.1V441.3M124.1 440.72V437.78M125.55 440.59V438.39M127 440.01V436.93M128.45 443.27V437.72M129.9 446.35V439.85M131.35 441.63V439.42M132.8 444.68V440.32M134.25 446.33V441.98M135.7 449.25V443.55M137.15 448.2V445.19M138.6 449.72V445.35M140.05 446.18V442.46M141.5 446.61V440.76M142.95 443.15V439.81M144.4 448.06V441.71M145.85 450.23V446.79M147.3 451.2V448.06M148.75 453.77V448.5M150.2 452.89V448.5M151.65 450.12V447.43M153.1 450.06V445.06M154.55 446.55V444M156 447.61V441.95M157.45 447.76V442.5M158.9 450.28V444.62M160.35 450.91V445.95M161.8 451.84V448.08M163.25 452.1V448.14M164.7 454.51V450.58M166.15 458.01V451.9M167.6 457.25V454.68M169.05 455.65V449.55M170.5 453.16V450.85M171.95 454.28V451.17M173.4 454.5V451.15" stroke="#f2a5a5" stroke-width="0.6" fill="none"/>
<polyline points="60.3,451.51 61.75,450.3 63.2,446.93 64.65,444.04 66.1,442.05 67.55,438.4 69,439.27 70.45,442.2 71.9,440.49 73.35,440.55 74.8,445.19 76.25,446.5 77.7,448.98 79.15,449.6 80.6,452.67 82.05,452.11 83.5,447.41 84.95,445.88 86.4,443.39 87.85,447.95 89.3,450.7 90.75,451.88 92.2,453.87 93.65,454.84 95.1,457.06 96.55,453.25 98,453.48 99.45,452.78 100.9,452.46 102.35,456.89 103.8,456.55 105.25,456.79 106.7,453.86 108.15,454.79 109.6,455.61 111.05,454.82 112.5,455.6 113.95,455.67 115.4,452.03 116.85,450.09 118.3,449.05 119.75,448.91 121.2,447.74 122.65,444.93 124.1,439.62 125.55,439.77 127,438.86 128.45,441.19 129.9,443.91 131.35,440.8 132.8,443.04 134.25,444.7 135.7,447.11 137.15,447.07 138.6,448.08 140.05,444.78 141.5,444.42 142.95,441.9 144.4,445.68 145.85,448.94 147.3,450.02 148.75,451.8 150.2,451.24 151.65,449.11 153.1,448.18 154.55,445.6 156,445.49 157.45,445.78 158.9,448.16 160.35,449.05 161.8,450.43 163.25,450.61 164.7,453.03 166.15,455.72 167.6,456.29 169.05,453.36 170.5,452.29 171.95,453.11 173.4,453.24" fill="none" stroke="#e83232" stroke-width="0.6"/>
<path d="M59.5 450.71h1.6v1.6h-1.6zM60.95 449.5h1.6v1.6h-1.6zM62.4 446.13h1.6v1.6h-1.6zM63.85 443.24h1.6v1.6h-1.6zM65.3 441.25h1.6v1.6h-1.6zM66.75 437.6h1.6v1.6h-1.6zM68.2 438.47h1.6v1.6h-1.6zM69.65 441.4h1.6v1.6h-1.6zM71.1 439.69h1.6v1.6h-1.6zM72.55 439.75h1.6v1.6h-1.6zM74 444.39h1.6v1.6h-1.6zM75.45 445.7h1.6v1.6h-1.6zM76.9 448.18h1.6v1.6h-1.6zM78.35 448.8h1.6v1.6h-1.6zM79.8 451.87h1.6v1.6h-1.6zM81.25 451.31h1.6v1.6h-1.6zM82.7 446.61h1.6v1.6h-1.6zM84.15 445.08h1.6v1.6h-1.6zM85.6 442.59h1.6v1.6h-1.6zM87.05 447.15h1.6v1.6h-1.6zM88.5 449.9h1.6v1.6h-1.6zM89.95 451.08h1.6v1.6h-1.6zM91.4 453.07h1.6v1.6h-1.6zM92.85 454.04h1.6v1.6h-1.6zM94.3 456.26h1.6v1.6h-1.6zM95.75 452.45h1.6v1.6h-1.6zM97.2 452.68h1.6v1.6h-1.6zM98.65 451.98h1.6v1.6h-1.6zM100.1 451.66h1.6v1.6h-1.6zM101.55 456.09h1.6v1.6h-1.6zM103 455.75h1.6v1.6h-1.6zM104.45 455.99h1.6v1.6h-1.6zM105.9 453.06h1.6v1.6h-1.6zM107.35 453.99h1.6v1.6h-1.6zM108.8 454.81h1.6v1.6h-1.6zM110.25 454.02h1.6v1.6h-1.6zM111.7 454.8h1.6v1.6h-1.6zM113.15 454.87h1.6v1.6h-1.6zM114.6 451.23h1.6v1.6h-1.6zM116.05 449.29h1.6v1.6h-1.6zM117.5 448.25h1.6v1.6h-1.6zM118.95 448.11h1.6v1.6h-1.6zM120.4 446.94h1.6v1.6h-1.6zM121.85 444.13h1.6v1.6h-1.6zM123.3 438.82h1.6v1.6h-1.6zM124.75 438.97h1.6v1.6h-1.6zM126.2 438.06h1.6v1.6h-1.6zM127.65 440.39h1.6v1.6h-1.6zM129.1 443.11h1.6v1.6h-1.6zM130.55 440h1.6v1.6h-1.6zM132 442.24h1.6v1.6h-1.6zM133.45 443.9h1.6v1.6h-1.6zM134.9 446.31h1.6v1.6h-1.6zM136.35 446.27h1.6v1.6h-1.6zM137.8 447.28h1.6v1.6h-1.6zM139.25 443.98h1.6v1.6h-1.6zM140.7 443.62h1.6v1.6h-1.6zM142.15 441.1h1.6v1.6h-1.6zM143.6 444.88h1.6v1.6h-1.6zM145.05 448.14h1.6v1.6h-1.6zM146.5 449.22h1.6v1.6h-1.6zM147.95 451h1.6v1.6h-1.6zM149.4 450.44h1.6v1.6h-1.6zM150.85 448.31h1.6v1.6h-1.6zM152.3 447.38h1.6v1.6h-1.6zM153.75 444.8h1.6v1.6h-1.6zM155.2 444.69h1.6v1.6h-1.6zM156.65 444.98h1.6v1.6h-1.6zM158.1 447.36h1.6v1.6h-1.6zM159.55 448.25h1.6v1.6h-1.6zM161 449.63h1.6v1.6h-1.6zM162.45 449.81h1.6v1.6h-1.6zM163.9 452.23h1.6v1.6h-1.6zM165.35 454.92h1.6v1.6h-1.6zM166.8 455.49h1.6v1.6h-1.6zM168.25 452.56h1.6v1.6h-1.6zM169.7 451.49h1.6v1.6h-1.6zM171.15 452.31h1.6v1.6h-1.6zM172.6 452.44h1.6v1.6h-1.6z" fill="#e83232"/>
<path d="M60.3 457.39V452.13M61.75 455.35V450.37M63.2 451.88V447.25M64.65 444.25V441.18M66.1 444.05V440.26M67.55 442.24V438.32M69 443.97V439.37M70.45 441.18V437.45M71.9 441.63V436.8M73.35 446.81V440.95M74.8 447.79V444.99M76.25 450.09V445.36M77.7 451.28V446.04M79.15 451.34V447.69M80.6 454.9V450.84M82.05 457.74V451.69M83.5 455.5V453.29M84.95 449.32V445.04M86.4 443.77V441.06M87.85 452.31V447.06M89.3 455.1V449.19M90.75 455.86V451.67M92.2 456.59V454.12M93.65 458.75V454.34M95.1 458.55V454.28M96.55 459.57V454.57M98 461.75V457.6M99.45 462.7V458.02M100.9 460V454.55M102.35 459.2V455.01M103.8 459.47V455.74M105.25 458.44V452.5M106.7 457.29V454.38M108.15 458.56V453.7M109.6 460.62V456.96M111.05 461.69V456.51M112.5 460.36V457.81M113.95 461.72V455.63M115.4 456.45V452.94M116.85 454.82V452.54M118.3 454.61V451.43M119.75 453.43V449.73M121.2 448.58V446.48M122.65 447.95V444.18M124.1 445.03V441.25M125.55 443.89V438.98M127 441.93V438.44M128.45 444.5V441.36M129.9 447.2V444.23M131.35 446.98V441.88M132.8 445.11V439.21M134.25 451.72V447.51M135.7 455.29V452.34M137.15 451.6V446.26M138.6 453.14V449.48M140.05 454.94V452.02M141.5 451.3V448.72M142.95 448.48V443.24M144.4 449.69V444.32M145.85 451.65V447M147.3 455.56V451.58M148.75 454.53V450.17M150.2 453.17V450.19M151.65 455.44V449.43M153.1 457.06V453.56M154.55 455.58V450.91M156 451.82V446.41M157.45 451.24V445.84M158.9 452.83V448.86M160.35 455.16V451.9M161.8 454.28V449.98M163.25 455.88V453.32M164.7 455.09V449.62M166.15 457.91V454.4M167.6 459.43V453.89M169.05 457.62V454.47M170.5 457.51V453.91M171.95 456.45V453.36M173.4 458.68V454.88" stroke="#8a8a8a" stroke-width="0.6" fill="none"/>
<polyline points="60.3,455.42 61.75,453.48 63.2,450.14 64.65,443.1 66.1,442.63 67.55,440.77 69,442.25 70.45,439.78 71.9,439.82 73.35,444.61 74.8,446.74 76.25,448.32 77.7,449.31 79.15,449.97 80.6,453.37 82.05,455.47 83.5,454.67 84.95,447.72 86.4,442.76 87.85,450.34 89.3,452.88 90.75,454.29 92.2,455.66 93.65,457.1 95.1,456.95 96.55,457.7 98,460.19 99.45,460.94 100.9,457.96 102.35,457.62 103.8,458.07 105.25,456.21 106.7,456.2 108.15,456.74 109.6,459.25 111.05,459.74 112.5,459.41 113.95,459.43 115.4,455.13 116.85,453.97 118.3,453.42 119.75,452.04 121.2,447.79 122.65,446.53 124.1,443.61 125.55,442.05 127,440.62 128.45,443.32 129.9,446.08 131.35,445.07 132.8,442.9 134.25,450.14 135.7,454.18 137.15,449.59 138.6,451.77 140.05,453.85 141.5,450.33 142.95,446.52 144.4,447.68 145.85,449.91 147.3,454.06 148.75,452.9 150.2,452.05 151.65,453.18 153.1,455.75 154.55,453.83 156,449.79 157.45,449.21 158.9,451.34 160.35,453.94 161.8,452.67 163.25,454.92 164.7,453.04 166.15,456.59 167.6,457.35 169.05,456.44 170.5,456.16 171.95,455.29 173.4,457.25" fill="none" stroke="#111111" stroke-width="0.8"/>
<path d="M59.5 454.62h1.6v1.6h-1.6zM60.95 452.68h1.6v1.6h-1.6zM62.4 449.34h1.6v1.6h-1.6zM63.85 442.3h1.6v1.6h-1.6zM65.3 441.83h1.6v1.6h-1.6zM66.75 439.97h1.6v1.6h-1.6zM68.2 441.45h1.6v1.6h-1.6zM69.65 438.98h1.6v1.6h-1.6zM71.1 439.02h1.6v1.6h-1.6zM72.55 443.81h1.6v1.6h-1.6zM74 445.94h1.6v1.6h-1.6zM75.45 447.52h1.6v1.6h-1.6zM76.9 448.51h1.6v1.6h-1.6zM78.35 449.17h1.6v1.6h-1.6zM79.8 452.57h1.6v1.6h-1.6zM81.25 454.67h1.6v1.6h-1.6zM82.7 453.87h1.6v1.6h-1.6zM84.15 446.92h1.6v1.6h-1.6zM85.6 441.96h1.6v1.6h-1.6zM87.05 449.54h1.6v1.6h-1.6zM88.5 452.08h1.6v1.6h-1.6zM89.95 453.49h1.6v1.6h-1.6zM91.4 454.86h1.6v1.6h-1.6zM92.85 456.3h1.6v1.6h-1.6zM94.3 456.15h1.6v1.6h-1.6zM95.75 456.9h1.6v1.6h-1.6zM97.2 459.39h1.6v1.6h-1.6zM98.65 460.14h1.6v1.6h-1.6zM100.1 457.16h1.6v1.6h-1.6zM101.55 456.82h1.6v1.6h-1.6zM103 457.27h1.6v1.6h-1.6zM104.45 455.41h1.6v1.6h-1.6zM105.9 455.4h1.6v1.6h-1.6zM107.35 455.94h1.6v1.6h-1.6zM108.8 458.45h1.6v1.6h-1.6zM110.25 458.94h1.6v1.6h-1.6zM111.7 458.61h1.6v1.6h-1.6zM113.15 458.63h1.6v1.6h-1.6zM114.6 454.33h1.6v1.6h-1.6zM116.05 453.17h1.6v1.6h-1.6zM117.5 452.62h1.6v1.6h-1.6zM118.95 451.24h1.6v1.6h-1.6zM120.4 446.99h1.6v1.6h-1.6zM121.85 445.73h1.6v1.6h-1.6zM123.3 442.81h1.6v1.6h-1.6zM124.75 441.25h1.6v1.6h-1.6zM126.2 439.82h1.6v1.6h-1.6zM127.65 442.52h1.6v1.6h-1.6zM129.1 445.28h1.6v1.6h-1.6zM130.55 444.27h1.6v1.6h-1.6zM132 442.1h1.6v1.6h-1.6zM133.45 449.34h1.6v1.6h-1.6zM134.9 453.38h1.6v1.6h-1.6zM136.35 448.79h1.6v1.6h-1.6zM137.8 450.97h1.6v1.6h-1.6zM139.25 453.05h1.6v1.6h-1.6zM140.7 449.53h1.6v1.6h-1.6zM142.15 445.72h1.6v1.6h-1.6zM143.6 446.88h1.6v1.6h-1.6zM145.05 449.11h1.6v1.6h-1.6zM146.5 453.26h1.6v1.6h-1.6zM147.95 452.1h1.6v1.6h-1.6zM149.4 451.25h1.6v1.6h-1.6zM150.85 452.38h1.6v1.6h-1.6zM152.3 454.95h1.6v1.6h-1.6zM153.75 453.03h1.6v1.6h-1.6zM155.2 448.99h1.6v1.6h-1.6zM156.65 448.41h1.6v1.6h-1.6zM158.1 450.54h1.6v1.6h-1.6zM159.55 453.14h1.6v1.6h-1.6zM161 451.87h1.6v1.6h-1.6zM162.45 454.12h1.6v1.6h-1.6zM163.9 452.24h1.6v1.6h-1.6zM165.35 455.79h1.6v1.6h-1.6zM166.8 456.55h1.6v1.6h-1.6zM168.25 455.64h1.6v1.6h-1.6zM169.7 455.36h1.6v1.6h-1.6zM171.15 454.49h1.6v1.6h-1.6zM172.6 456.45h1.6v1.6h-1.6z" fill="#111111"/>
<text transform="translate(37.74,435) rotate(-90)" font-size="7.6" text-anchor="middle" textLength="55" lengthAdjust="spacingAndGlyphs">Heat (kcal/h/kg)</text>
<line x1="391.75" y1="398.45" x2="391.75" y2="473.3" stroke="#7a7a7a" stroke-width="0.7"/>
<line x1="388.55" y1="473" x2="391.75" y2="473" stroke="#7a7a7a" stroke-width="0.7"/>
<text x="385.3" y="475.75" font-size="7" text-anchor="end">0</text>
<line x1="388.55" y1="454.44" x2="391.75" y2="454.44" stroke="#7a7a7a" stroke-width="0.7"/>
<text x="385.3" y="457.19" font-size="7" text-anchor="end">5,000</text>
<line x1="388.55" y1="435.88" x2="391.75" y2="435.88" stroke="#7a7a7a" stroke-width="0.7"/>
<text x="385.3" y="438.62" font-size="7" text-anchor="end">10,000</text>
<line x1="388.55" y1="417.31" x2="391.75" y2="417.31" stroke="#7a7a7a" stroke-width="0.7"/>
<text x="385.3" y="420.06" font-size="7" text-anchor="end">15,000</text>
<line x1="388.55" y1="398.75" x2="391.75" y2="398.75" stroke="#7a7a7a" stroke-width="0.7"/>
<text x="385.3" y="401.5" font-size="7" text-anchor="end">20,000</text>
<line x1="391.45" y1="473" x2="507.5" y2="473" stroke="#7a7a7a" stroke-width="0.7"/>
<line x1="391.75" y1="473" x2="391.75" y2="475.2" stroke="#7a7a7a" stroke-width="0.6"/>
<line x1="398.18" y1="473" x2="398.18" y2="475.2" stroke="#7a7a7a" stroke-width="0.6"/>
<line x1="404.61" y1="473" x2="404.61" y2="475.2" stroke="#7a7a7a" stroke-width="0.6"/>
<line x1="411.04" y1="473" x2="411.04" y2="475.2" stroke="#7a7a7a" stroke-width="0.6"/>
<line x1="417.47" y1="473" x2="417.47" y2="475.2" stroke="#7a7a7a" stroke-width="0.6"/>
<line x1="423.9" y1="473" x2="423.9" y2="475.2" stroke="#7a7a7a" stroke-width="0.6"/>
<line x1="430.33" y1="473" x2="430.33" y2="475.2" stroke="#7a7a7a" stroke-width="0.6"/>
<line x1="436.76" y1="473" x2="436.76" y2="475.2" stroke="#7a7a7a" stroke-width="0.6"/>
<line x1="443.19" y1="473" x2="443.19" y2="475.2" stroke="#7a7a7a" stroke-width="0.6"/>
<line x1="449.62" y1="473" x2="449.62" y2="475.2" stroke="#7a7a7a" stroke-width="0.6"/>
<line x1="456.06" y1="473" x2="456.06" y2="475.2" stroke="#7a7a7a" stroke-width="0.6"/>
<line x1="462.49" y1="473" x2="462.49" y2="475.2" stroke="#7a7a7a" stroke-width="0.6"/>
<line x1="468.92" y1="473" x2="468.92" y2="475.2" stroke="#7a7a7a" stroke-width="0.6"/>
<line x1="475.35" y1="473" x2="475.35" y2="475.2" stroke="#7a7a7a" stroke-width="0.6"/>
<line x1="481.78" y1="473" x2="481.78" y2="475.2" stroke="#7a7a7a" stroke-width="0.6"/>
<line x1="488.21" y1="473" x2="488.21" y2="475.2" stroke="#7a7a7a" stroke-width="0.6"/>
<line x1="494.64" y1="473" x2="494.64" y2="475.2" stroke="#7a7a7a" stroke-width="0.6"/>
<line x1="501.07" y1="473" x2="501.07" y2="475.2" stroke="#7a7a7a" stroke-width="0.6"/>
<line x1="507.5" y1="473" x2="507.5" y2="475.2" stroke="#7a7a7a" stroke-width="0.6"/>
<rect x="392.5" y="478" width="115" height="3.25" fill="#fff" stroke="#333" stroke-width="0.5"/>
<rect x="392.5" y="478" width="28.75" height="3.25" fill="#111"/>
<rect x="450" y="478" width="28.75" height="3.25" fill="#111"/>
<path d="M392.55 442.48V421.42M394 435.92V406.03M395.45 429.94V418.52M396.9 438.95V412.9M398.35 439.64V415.58M399.8 437.6V419.67M401.25 454.57V425.45M402.7 447.08V428.56M404.15 443.75V422.91M405.6 454.23V432.3M407.05 458.66V431.49M408.5 454.49V439.29M409.95 444.52V424.52M411.4 460.41V440.68M412.85 465.32V442.78M414.3 461.46V433.09M415.75 463.85V446.9M417.2 459.67V431.28M418.65 453.55V434.23M420.1 445.15V423.69M421.55 445V428.49M423 451.51V429.99M424.45 466.02V434.48M425.9 461.02V436.34M427.35 455.9V428.27M428.8 459.29V441.52M430.25 467.97V450.5M431.7 462.09V445M433.15 456.95V433.72M434.6 455.88V431.61M436.05 469.37V441.91M437.5 463.53V451.98M438.95 471.51V445.36M440.4 472.94V443.31M441.85 467.39V445.04M443.3 465.57V453.81M444.75 472.71V455.6M446.2 461.31V450.49M447.65 475.05V460.3M449.1 465.2V434.81M450.55 452.52V428.81M452 432.4V407.64M453.45 431.46V403.9M454.9 434.22V404.07M456.35 439.09V415.32M457.8 439.28V415.4M459.25 440.15V416.05M460.7 433.99V408.41M462.15 442.52V419.08M463.6 443.07V417.82M465.05 432.21V416.97M466.5 439.84V414.89M467.95 453.66V433.17M469.4 453.36V426.35M470.85 451.01V438.15M472.3 459.39V444.82M473.75 456.57V445.09M475.2 464.66V437.41M476.65 452.04V421.81M478.1 437.55V412.84M479.55 449.53V430.95M481 458.74V430.46M482.45 460.09V432.58M483.9 463.11V440.4M485.35 451.42V435.21M486.8 437.66V420.51M488.25 441.54V421.83M489.7 451.33V433.83M491.15 454.48V434.58M492.6 465.47V441.05M494.05 463.83V433.17M495.5 463.69V451.83M496.95 472.94V450.12M498.4 473.3V461.76M499.85 473V459.77M501.3 470.51V442.49M502.75 468.66V445.67M504.2 465.33V434.99M505.65 467.69V447.45" stroke="#b4b6f4" stroke-width="0.6" fill="none"/>
<polyline points="392.55,434.58 394,424.71 395.45,425.66 396.9,429.18 398.35,430.62 399.8,430.88 401.25,443.65 402.7,440.13 404.15,435.93 405.6,446.01 407.05,448.47 408.5,448.79 409.95,437.02 411.4,453.01 412.85,456.87 414.3,450.82 415.75,457.5 417.2,449.03 418.65,446.31 420.1,437.1 421.55,438.81 423,443.44 424.45,454.2 425.9,451.77 427.35,445.54 428.8,452.62 430.25,461.42 431.7,455.68 433.15,448.24 434.6,446.78 436.05,459.07 437.5,459.2 438.95,461.7 440.4,461.83 441.85,459.01 443.3,461.16 444.75,466.29 446.2,457.25 447.65,469.52 449.1,453.81 450.55,443.63 452,423.11 453.45,421.13 454.9,422.92 456.35,430.18 457.8,430.32 459.25,431.11 460.7,424.4 462.15,433.73 463.6,433.6 465.05,426.5 466.5,430.48 467.95,445.97 469.4,443.23 470.85,446.19 472.3,453.93 473.75,452.27 475.2,454.44 476.65,440.7 478.1,428.29 479.55,442.56 481,448.13 482.45,449.77 483.9,454.59 485.35,445.34 486.8,431.23 488.25,434.15 489.7,444.77 491.15,447.02 492.6,456.31 494.05,452.33 495.5,459.24 496.95,464.38 498.4,468.97 499.85,468.04 501.3,460.01 502.75,460.04 504.2,453.95 505.65,460.1" fill="none" stroke="#4a4af0" stroke-width="0.5"/>
<path d="M391.75 433.78h1.6v1.6h-1.6zM393.2 423.91h1.6v1.6h-1.6zM394.65 424.86h1.6v1.6h-1.6zM396.1 428.38h1.6v1.6h-1.6zM397.55 429.82h1.6v1.6h-1.6zM399 430.08h1.6v1.6h-1.6zM400.45 442.85h1.6v1.6h-1.6zM401.9 439.33h1.6v1.6h-1.6zM403.35 435.13h1.6v1.6h-1.6zM404.8 445.21h1.6v1.6h-1.6zM406.25 447.67h1.6v1.6h-1.6zM407.7 447.99h1.6v1.6h-1.6zM409.15 436.22h1.6v1.6h-1.6zM410.6 452.21h1.6v1.6h-1.6zM412.05 456.07h1.6v1.6h-1.6zM413.5 450.02h1.6v1.6h-1.6zM414.95 456.7h1.6v1.6h-1.6zM416.4 448.23h1.6v1.6h-1.6zM417.85 445.51h1.6v1.6h-1.6zM419.3 436.3h1.6v1.6h-1.6zM420.75 438.01h1.6v1.6h-1.6zM422.2 442.64h1.6v1.6h-1.6zM423.65 453.4h1.6v1.6h-1.6zM425.1 450.97h1.6v1.6h-1.6zM426.55 444.74h1.6v1.6h-1.6zM428 451.82h1.6v1.6h-1.6zM429.45 460.62h1.6v1.6h-1.6zM430.9 454.88h1.6v1.6h-1.6zM432.35 447.44h1.6v1.6h-1.6zM433.8 445.98h1.6v1.6h-1.6zM435.25 458.27h1.6v1.6h-1.6zM436.7 458.4h1.6v1.6h-1.6zM438.15 460.9h1.6v1.6h-1.6zM439.6 461.03h1.6v1.6h-1.6zM441.05 458.21h1.6v1.6h-1.6zM442.5 460.36h1.6v1.6h-1.6zM443.95 465.49h1.6v1.6h-1.6zM445.4 456.45h1.6v1.6h-1.6zM446.85 468.72h1.6v1.6h-1.6zM448.3 453.01h1.6v1.6h-1.6zM449.75 442.83h1.6v1.6h-1.6zM451.2 422.31h1.6v1.6h-1.6zM452.65 420.33h1.6v1.6h-1.6zM454.1 422.12h1.6v1.6h-1.6zM455.55 429.38h1.6v1.6h-1.6zM457 429.52h1.6v1.6h-1.6zM458.45 430.31h1.6v1.6h-1.6zM459.9 423.6h1.6v1.6h-1.6zM461.35 432.93h1.6v1.6h-1.6zM462.8 432.8h1.6v1.6h-1.6zM464.25 425.7h1.6v1.6h-1.6zM465.7 429.68h1.6v1.6h-1.6zM467.15 445.17h1.6v1.6h-1.6zM468.6 442.43h1.6v1.6h-1.6zM470.05 445.39h1.6v1.6h-1.6zM471.5 453.13h1.6v1.6h-1.6zM472.95 451.47h1.6v1.6h-1.6zM474.4 453.64h1.6v1.6h-1.6zM475.85 439.9h1.6v1.6h-1.6zM477.3 427.49h1.6v1.6h-1.6zM478.75 441.76h1.6v1.6h-1.6zM480.2 447.33h1.6v1.6h-1.6zM481.65 448.97h1.6v1.6h-1.6zM483.1 453.79h1.6v1.6h-1.6zM484.55 444.54h1.6v1.6h-1.6zM486 430.43h1.6v1.6h-1.6zM487.45 433.35h1.6v1.6h-1.6zM488.9 443.97h1.6v1.6h-1.6zM490.35 446.22h1.6v1.6h-1.6zM491.8 455.51h1.6v1.6h-1.6zM493.25 451.53h1.6v1.6h-1.6zM494.7 458.44h1.6v1.6h-1.6zM496.15 463.58h1.6v1.6h-1.6zM497.6 468.17h1.6v1.6h-1.6zM499.05 467.24h1.6v1.6h-1.6zM500.5 459.21h1.6v1.6h-1.6zM501.95 459.24h1.6v1.6h-1.6zM503.4 453.15h1.6v1.6h-1.6zM504.85 459.3h1.6v1.6h-1.6z" fill="#4a4af0"/>
<path d="M392.55 461.66V450.01M394 459.02V452.04M395.45 460.15V455.68M396.9 457.76V450.96M398.35 448.82V440.6M399.8 446.42V436.74M401.25 450.89V439.17M402.7 450.69V438.33M404.15 447.43V442.6M405.6 450.46V438.58M407.05 451.25V439.57M408.5 454.09V441.91M409.95 452.94V443.39M411.4 458.69V451.79M412.85 459.59V447.55M414.3 461.77V450.13M415.75 456.11V445.56M417.2 453.35V440.76M418.65 451.23V443.68M420.1 453.76V448.54M421.55 464.02V454.63M423 469.92V458.36M424.45 468.85V462.61M425.9 470.24V459.1M427.35 465.6V452.84M428.8 468.13V461.59M430.25 472.76V462.89M431.7 474.78V464.28M433.15 468.59V459.99M434.6 467.58V461.28M436.05 468.96V462.24M437.5 472.65V461.51M438.95 476.36V464.85M440.4 466.09V457.54M441.85 464.03V458.79M443.3 463.9V452.25M444.75 472.76V461.43M446.2 468.82V462.29M447.65 464.03V454.41M449.1 466.38V453.93M450.55 463.74V451.4M452 460.84V451.74M453.45 458.81V450.11M454.9 452.1V442.39M456.35 448V441.86M457.8 442.44V436.27M459.25 444.05V437.98M460.7 444.92V434.22M462.15 448.13V440.44M463.6 443.89V434.4M465.05 450.39V442.35M466.5 452.06V443M467.95 453.68V447.9M469.4 456.27V451.42M470.85 467.57V454.23M472.3 460.2V452.41M473.75 460.32V454.92M475.2 459.29V449.19M476.65 460.13V448.66M478.1 457.69V451.84M479.55 461.76V451.99M481 468.22V460.69M482.45 467.36V458.28M483.9 461.28V456.64M485.35 443.45V438.7M486.8 442.94V429.66M488.25 447.41V435.24M489.7 454.84V446.05M491.15 459.99V450.49M492.6 462.9V456.12M494.05 464.75V453.35M495.5 469.23V460.98M496.95 471.92V459.03M498.4 470.68V459.39M499.85 473.44V461.69M501.3 466.03V452.99M502.75 464.73V458.02M504.2 457.42V452.63M505.65 465.29V459.05" stroke="#f2a5a5" stroke-width="0.6" fill="none"/>
<polyline points="392.55,457.29 394,456.4 395.45,458.47 396.9,455.21 398.35,445.74 399.8,442.79 401.25,446.49 402.7,446.05 404.15,445.62 405.6,446 407.05,446.87 408.5,449.52 409.95,449.36 411.4,456.1 412.85,455.07 414.3,457.4 415.75,452.16 417.2,448.63 418.65,448.4 420.1,451.8 421.55,460.5 423,465.58 424.45,466.51 425.9,466.06 427.35,460.82 428.8,465.68 430.25,469.06 431.7,470.84 433.15,465.37 434.6,465.21 436.05,466.44 437.5,468.47 438.95,472.05 440.4,462.89 441.85,462.06 443.3,459.53 444.75,468.51 446.2,466.37 447.65,460.42 449.1,461.71 450.55,459.11 452,457.43 453.45,455.55 454.9,448.46 456.35,445.7 457.8,440.13 459.25,441.77 460.7,440.91 462.15,445.24 463.6,440.33 465.05,447.38 466.5,448.66 467.95,451.51 469.4,454.45 470.85,462.57 472.3,457.28 473.75,458.29 475.2,455.5 476.65,455.83 478.1,455.5 479.55,458.1 481,465.4 482.45,463.96 483.9,459.54 485.35,441.67 486.8,437.96 488.25,442.85 489.7,451.54 491.15,456.43 492.6,460.36 494.05,460.47 495.5,466.14 496.95,467.09 498.4,466.45 499.85,469.03 501.3,461.14 502.75,462.21 504.2,455.62 505.65,462.95" fill="none" stroke="#e83232" stroke-width="0.6"/>
<path d="M391.75 456.49h1.6v1.6h-1.6zM393.2 455.6h1.6v1.6h-1.6zM394.65 457.67h1.6v1.6h-1.6zM396.1 454.41h1.6v1.6h-1.6zM397.55 444.94h1.6v1.6h-1.6zM399 441.99h1.6v1.6h-1.6zM400.45 445.69h1.6v1.6h-1.6zM401.9 445.25h1.6v1.6h-1.6zM403.35 444.82h1.6v1.6h-1.6zM404.8 445.2h1.6v1.6h-1.6zM406.25 446.07h1.6v1.6h-1.6zM407.7 448.72h1.6v1.6h-1.6zM409.15 448.56h1.6v1.6h-1.6zM410.6 455.3h1.6v1.6h-1.6zM412.05 454.27h1.6v1.6h-1.6zM413.5 456.6h1.6v1.6h-1.6zM414.95 451.36h1.6v1.6h-1.6zM416.4 447.83h1.6v1.6h-1.6zM417.85 447.6h1.6v1.6h-1.6zM419.3 451h1.6v1.6h-1.6zM420.75 459.7h1.6v1.6h-1.6zM422.2 464.78h1.6v1.6h-1.6zM423.65 465.71h1.6v1.6h-1.6zM425.1 465.26h1.6v1.6h-1.6zM426.55 460.02h1.6v1.6h-1.6zM428 464.88h1.6v1.6h-1.6zM429.45 468.26h1.6v1.6h-1.6zM430.9 470.04h1.6v1.6h-1.6zM432.35 464.57h1.6v1.6h-1.6zM433.8 464.41h1.6v1.6h-1.6zM435.25 465.64h1.6v1.6h-1.6zM436.7 467.67h1.6v1.6h-1.6zM438.15 471.25h1.6v1.6h-1.6zM439.6 462.09h1.6v1.6h-1.6zM441.05 461.26h1.6v1.6h-1.6zM442.5 458.73h1.6v1.6h-1.6zM443.95 467.71h1.6v1.6h-1.6zM445.4 465.57h1.6v1.6h-1.6zM446.85 459.62h1.6v1.6h-1.6zM448.3 460.91h1.6v1.6h-1.6zM449.75 458.31h1.6v1.6h-1.6zM451.2 456.63h1.6v1.6h-1.6zM452.65 454.75h1.6v1.6h-1.6zM454.1 447.66h1.6v1.6h-1.6zM455.55 444.9h1.6v1.6h-1.6zM457 439.33h1.6v1.6h-1.6zM458.45 440.97h1.6v1.6h-1.6zM459.9 440.11h1.6v1.6h-1.6zM461.35 444.44h1.6v1.6h-1.6zM462.8 439.53h1.6v1.6h-1.6zM464.25 446.58h1.6v1.6h-1.6zM465.7 447.86h1.6v1.6h-1.6zM467.15 450.71h1.6v1.6h-1.6zM468.6 453.65h1.6v1.6h-1.6zM470.05 461.77h1.6v1.6h-1.6zM471.5 456.48h1.6v1.6h-1.6zM472.95 457.49h1.6v1.6h-1.6zM474.4 454.7h1.6v1.6h-1.6zM475.85 455.03h1.6v1.6h-1.6zM477.3 454.7h1.6v1.6h-1.6zM478.75 457.3h1.6v1.6h-1.6zM480.2 464.6h1.6v1.6h-1.6zM481.65 463.16h1.6v1.6h-1.6zM483.1 458.74h1.6v1.6h-1.6zM484.55 440.87h1.6v1.6h-1.6zM486 437.16h1.6v1.6h-1.6zM487.45 442.05h1.6v1.6h-1.6zM488.9 450.74h1.6v1.6h-1.6zM490.35 455.63h1.6v1.6h-1.6zM491.8 459.56h1.6v1.6h-1.6zM493.25 459.67h1.6v1.6h-1.6zM494.7 465.34h1.6v1.6h-1.6zM496.15 466.29h1.6v1.6h-1.6zM497.6 465.65h1.6v1.6h-1.6zM499.05 468.23h1.6v1.6h-1.6zM500.5 460.34h1.6v1.6h-1.6zM501.95 461.41h1.6v1.6h-1.6zM503.4 454.82h1.6v1.6h-1.6zM504.85 462.15h1.6v1.6h-1.6z" fill="#e83232"/>
<path d="M392.55 474.04V466.72M394 467.88V463.78M395.45 465.34V460.46M396.9 459.12V455.62M398.35 457.52V453.4M399.8 454.88V447.72M401.25 455.79V451.33M402.7 451.93V448.36M404.15 459.28V453.98M405.6 452.85V448.48M407.05 458.91V451.41M408.5 463.78V460.5M409.95 465.09V457.19M411.4 463.68V460.7M412.85 469.37V461.91M414.3 472.8V466.56M415.75 470.21V466.41M417.2 462.72V457.5M418.65 460.66V456.46M420.1 463.6V459.55M421.55 462.96V459.21M423 462.66V458.04M424.45 462.51V454.54M425.9 464.39V456.38M427.35 464.67V457.05M428.8 465.88V462.68M430.25 470.69V466.47M431.7 475.06V467.59M433.15 465.21V462.23M434.6 464.5V457.94M436.05 468.87V464.63M437.5 464.69V456.78M438.95 463.78V461.02M440.4 465.39V458.41M441.85 468.65V464.16M443.3 467.27V463.85M444.75 467.91V465.23M446.2 466.25V459.13M447.65 464.65V459.17M449.1 463.81V460.15M450.55 467.97V462.97M452 467.62V460.07M453.45 460.9V457.06M454.9 462.47V456.75M456.35 457.34V453.92M457.8 449.33V445.69M459.25 445.88V439.09M460.7 453.04V446.56M462.15 459.93V456.21M463.6 465.01V461.91M465.05 459.8V456.66M466.5 454.07V448.15M467.95 457.92V452.6M469.4 460.19V456.05M470.85 465.03V461.26M472.3 464.71V458.77M473.75 461.54V455.08M475.2 457.09V450.08M476.65 454.89V449.1M478.1 453.08V449.33M479.55 463.02V459.99M481 464.5V457.91M482.45 465.09V460.24M483.9 461.27V454.74M485.35 455.71V452.75M486.8 451.39V444.38M488.25 456.73V452.26M489.7 459.82V452.65M491.15 466.54V459.25M492.6 469.83V464.52M494.05 464.88V462.13M495.5 473.46V465.92M496.95 469.13V463.91M498.4 469.86V462.53M499.85 468.65V464.55M501.3 464.69V461.02M502.75 467.42V460.3M504.2 470.05V465.41M505.65 470V466.45" stroke="#8a8a8a" stroke-width="0.6" fill="none"/>
<polyline points="392.55,471.3 394,466.35 395.45,463.51 396.9,457.81 398.35,455.98 399.8,452.2 401.25,454.12 402.7,450.59 404.15,457.3 405.6,451.21 407.05,456.09 408.5,462.55 409.95,462.13 411.4,462.56 412.85,466.58 414.3,470.46 415.75,468.79 417.2,460.76 418.65,459.09 420.1,462.08 421.55,461.55 423,460.93 424.45,459.52 425.9,461.39 427.35,461.81 428.8,464.68 430.25,469.11 431.7,472.26 433.15,464.09 434.6,462.04 436.05,467.28 437.5,461.72 438.95,462.75 440.4,462.77 441.85,466.96 443.3,465.99 444.75,466.91 446.2,463.58 447.65,462.6 449.1,462.44 450.55,466.09 452,464.79 453.45,459.46 454.9,460.33 456.35,456.06 457.8,447.97 459.25,443.34 460.7,450.61 462.15,458.53 463.6,463.85 465.05,458.62 466.5,451.85 467.95,455.92 469.4,458.64 470.85,463.61 472.3,462.48 473.75,459.12 475.2,454.46 476.65,452.72 478.1,451.67 479.55,461.88 481,462.03 482.45,463.27 483.9,458.82 485.35,454.6 486.8,448.76 488.25,455.05 489.7,457.13 491.15,463.81 492.6,467.84 494.05,463.85 495.5,470.63 496.95,467.17 498.4,467.11 499.85,467.12 501.3,463.32 502.75,464.75 504.2,468.31 505.65,468.67" fill="none" stroke="#111111" stroke-width="0.8"/>
<path d="M391.75 470.5h1.6v1.6h-1.6zM393.2 465.55h1.6v1.6h-1.6zM394.65 462.71h1.6v1.6h-1.6zM396.1 457.01h1.6v1.6h-1.6zM397.55 455.18h1.6v1.6h-1.6zM399 451.4h1.6v1.6h-1.6zM400.45 453.32h1.6v1.6h-1.6zM401.9 449.79h1.6v1.6h-1.6zM403.35 456.5h1.6v1.6h-1.6zM404.8 450.41h1.6v1.6h-1.6zM406.25 455.29h1.6v1.6h-1.6zM407.7 461.75h1.6v1.6h-1.6zM409.15 461.33h1.6v1.6h-1.6zM410.6 461.76h1.6v1.6h-1.6zM412.05 465.78h1.6v1.6h-1.6zM413.5 469.66h1.6v1.6h-1.6zM414.95 467.99h1.6v1.6h-1.6zM416.4 459.96h1.6v1.6h-1.6zM417.85 458.29h1.6v1.6h-1.6zM419.3 461.28h1.6v1.6h-1.6zM420.75 460.75h1.6v1.6h-1.6zM422.2 460.13h1.6v1.6h-1.6zM423.65 458.72h1.6v1.6h-1.6zM425.1 460.59h1.6v1.6h-1.6zM426.55 461.01h1.6v1.6h-1.6zM428 463.88h1.6v1.6h-1.6zM429.45 468.31h1.6v1.6h-1.6zM430.9 471.46h1.6v1.6h-1.6zM432.35 463.29h1.6v1.6h-1.6zM433.8 461.24h1.6v1.6h-1.6zM435.25 466.48h1.6v1.6h-1.6zM436.7 460.92h1.6v1.6h-1.6zM438.15 461.95h1.6v1.6h-1.6zM439.6 461.97h1.6v1.6h-1.6zM441.05 466.16h1.6v1.6h-1.6zM442.5 465.19h1.6v1.6h-1.6zM443.95 466.11h1.6v1.6h-1.6zM445.4 462.78h1.6v1.6h-1.6zM446.85 461.8h1.6v1.6h-1.6zM448.3 461.64h1.6v1.6h-1.6zM449.75 465.29h1.6v1.6h-1.6zM451.2 463.99h1.6v1.6h-1.6zM452.65 458.66h1.6v1.6h-1.6zM454.1 459.53h1.6v1.6h-1.6zM455.55 455.26h1.6v1.6h-1.6zM457 447.17h1.6v1.6h-1.6zM458.45 442.54h1.6v1.6h-1.6zM459.9 449.81h1.6v1.6h-1.6zM461.35 457.73h1.6v1.6h-1.6zM462.8 463.05h1.6v1.6h-1.6zM464.25 457.82h1.6v1.6h-1.6zM465.7 451.05h1.6v1.6h-1.6zM467.15 455.12h1.6v1.6h-1.6zM468.6 457.84h1.6v1.6h-1.6zM470.05 462.81h1.6v1.6h-1.6zM471.5 461.68h1.6v1.6h-1.6zM472.95 458.32h1.6v1.6h-1.6zM474.4 453.66h1.6v1.6h-1.6zM475.85 451.92h1.6v1.6h-1.6zM477.3 450.87h1.6v1.6h-1.6zM478.75 461.08h1.6v1.6h-1.6zM480.2 461.23h1.6v1.6h-1.6zM481.65 462.47h1.6v1.6h-1.6zM483.1 458.02h1.6v1.6h-1.6zM484.55 453.8h1.6v1.6h-1.6zM486 447.96h1.6v1.6h-1.6zM487.45 454.25h1.6v1.6h-1.6zM488.9 456.33h1.6v1.6h-1.6zM490.35 463.01h1.6v1.6h-1.6zM491.8 467.04h1.6v1.6h-1.6zM493.25 463.05h1.6v1.6h-1.6zM494.7 469.83h1.6v1.6h-1.6zM496.15 466.37h1.6v1.6h-1.6zM497.6 466.31h1.6v1.6h-1.6zM499.05 466.32h1.6v1.6h-1.6zM500.5 462.52h1.6v1.6h-1.6zM501.95 463.95h1.6v1.6h-1.6zM503.4 467.51h1.6v1.6h-1.6zM504.85 467.87h1.6v1.6h-1.6z" fill="#111111"/>
<text transform="translate(356.49,435.6) rotate(-90)" font-size="7.6" text-anchor="middle" textLength="93.7" lengthAdjust="spacingAndGlyphs">Locomotor activity (counts)</text>
<line x1="231.25" y1="287.7" x2="231.25" y2="362.3" stroke="#7a7a7a" stroke-width="0.7"/>
<line x1="228.05" y1="362" x2="231.25" y2="362" stroke="#7a7a7a" stroke-width="0.7"/>
<text x="224.8" y="364.75" font-size="7" text-anchor="end">2,500</text>
<line x1="228.05" y1="347.2" x2="231.25" y2="347.2" stroke="#7a7a7a" stroke-width="0.7"/>
<text x="224.8" y="349.95" font-size="7" text-anchor="end">3,000</text>
<line x1="228.05" y1="332.4" x2="231.25" y2="332.4" stroke="#7a7a7a" stroke-width="0.7"/>
<text x="224.8" y="335.15" font-size="7" text-anchor="end">3,500</text>
<line x1="228.05" y1="317.6" x2="231.25" y2="317.6" stroke="#7a7a7a" stroke-width="0.7"/>
<text x="224.8" y="320.35" font-size="7" text-anchor="end">4,000</text>
<line x1="228.05" y1="302.8" x2="231.25" y2="302.8" stroke="#7a7a7a" stroke-width="0.7"/>
<text x="224.8" y="305.55" font-size="7" text-anchor="end">4,500</text>
<line x1="228.05" y1="288" x2="231.25" y2="288" stroke="#7a7a7a" stroke-width="0.7"/>
<text x="224.8" y="290.75" font-size="7" text-anchor="end">5,000</text>
<rect x="236.25" y="319.97" width="8.75" height="42.03" fill="#5050f4" stroke="#3a3a3a" stroke-width="0.55"/>
<circle cx="240.01" cy="319.01" r="1.1" fill="#111"/>
<circle cx="238.25" cy="319.77" r="1.1" fill="#111"/>
<circle cx="240.36" cy="319.81" r="1.1" fill="#111"/>
<circle cx="238.8" cy="317.81" r="1.1" fill="#111"/>
<circle cx="242.14" cy="316.29" r="1.1" fill="#111"/>
<circle cx="239.77" cy="317.84" r="1.1" fill="#111"/>
<line x1="240.62" y1="317.3" x2="240.62" y2="322.63" stroke="#111" stroke-width="0.6"/>
<line x1="238.03" y1="317.3" x2="243.22" y2="317.3" stroke="#111" stroke-width="0.6"/>
<line x1="238.03" y1="322.63" x2="243.22" y2="322.63" stroke="#111" stroke-width="0.6"/>
<rect x="246.25" y="343.65" width="8.75" height="18.35" fill="#ffffff" stroke="#3a3a3a" stroke-width="0.55"/>
<circle cx="250.06" cy="341.57" r="1.1" fill="#111"/>
<circle cx="248.52" cy="340.56" r="1.1" fill="#111"/>
<circle cx="252.8" cy="343.69" r="1.1" fill="#111"/>
<circle cx="250.69" cy="343.4" r="1.1" fill="#111"/>
<circle cx="250.8" cy="347.62" r="1.1" fill="#111"/>
<circle cx="252.87" cy="345.94" r="1.1" fill="#111"/>
<line x1="250.62" y1="341.28" x2="250.62" y2="346.02" stroke="#111" stroke-width="0.6"/>
<line x1="248.03" y1="341.28" x2="253.22" y2="341.28" stroke="#111" stroke-width="0.6"/>
<line x1="248.03" y1="346.02" x2="253.22" y2="346.02" stroke="#111" stroke-width="0.6"/>
<rect x="256.25" y="336.84" width="8.75" height="25.16" fill="#f03e3f" stroke="#3a3a3a" stroke-width="0.55"/>
<circle cx="259.1" cy="339.9" r="1.1" fill="#111"/>
<circle cx="259.43" cy="334.4" r="1.1" fill="#111"/>
<circle cx="258.37" cy="339.95" r="1.1" fill="#111"/>
<circle cx="261.58" cy="339.19" r="1.1" fill="#111"/>
<circle cx="258.31" cy="336.08" r="1.1" fill="#111"/>
<circle cx="260.99" cy="336.66" r="1.1" fill="#111"/>
<line x1="260.62" y1="335.06" x2="260.62" y2="338.62" stroke="#111" stroke-width="0.6"/>
<line x1="258.02" y1="335.06" x2="263.23" y2="335.06" stroke="#111" stroke-width="0.6"/>
<line x1="258.02" y1="338.62" x2="263.23" y2="338.62" stroke="#111" stroke-width="0.6"/>
<rect x="268.75" y="326.48" width="8.75" height="35.52" fill="#5050f4" stroke="#3a3a3a" stroke-width="0.55"/>
<circle cx="274.1" cy="328.83" r="1.1" fill="#111"/>
<circle cx="274.9" cy="325.19" r="1.1" fill="#111"/>
<circle cx="270.94" cy="328.71" r="1.1" fill="#111"/>
<circle cx="273.09" cy="326.48" r="1.1" fill="#111"/>
<circle cx="272.07" cy="328.72" r="1.1" fill="#111"/>
<circle cx="272.67" cy="328.63" r="1.1" fill="#111"/>
<line x1="273.12" y1="325.3" x2="273.12" y2="327.66" stroke="#111" stroke-width="0.6"/>
<line x1="270.52" y1="325.3" x2="275.73" y2="325.3" stroke="#111" stroke-width="0.6"/>
<line x1="270.52" y1="327.66" x2="275.73" y2="327.66" stroke="#111" stroke-width="0.6"/>
<rect x="278.75" y="350.16" width="8.75" height="11.84" fill="#ffffff" stroke="#3a3a3a" stroke-width="0.55"/>
<circle cx="283.57" cy="347.38" r="1.1" fill="#111"/>
<circle cx="281.43" cy="349.6" r="1.1" fill="#111"/>
<circle cx="284.31" cy="352.74" r="1.1" fill="#111"/>
<circle cx="284.69" cy="346.79" r="1.1" fill="#111"/>
<circle cx="282.59" cy="350.77" r="1.1" fill="#111"/>
<circle cx="284.76" cy="349.96" r="1.1" fill="#111"/>
<line x1="283.12" y1="348.09" x2="283.12" y2="352.23" stroke="#111" stroke-width="0.6"/>
<line x1="280.52" y1="348.09" x2="285.73" y2="348.09" stroke="#111" stroke-width="0.6"/>
<line x1="280.52" y1="352.23" x2="285.73" y2="352.23" stroke="#111" stroke-width="0.6"/>
<rect x="288.75" y="343.35" width="8.75" height="18.65" fill="#f03e3f" stroke="#3a3a3a" stroke-width="0.55"/>
<circle cx="292.62" cy="340.48" r="1.1" fill="#111"/>
<circle cx="294.45" cy="344.4" r="1.1" fill="#111"/>
<circle cx="291.88" cy="344.43" r="1.1" fill="#111"/>
<circle cx="292.82" cy="340.22" r="1.1" fill="#111"/>
<circle cx="294.59" cy="340.66" r="1.1" fill="#111"/>
<circle cx="294.64" cy="341.09" r="1.1" fill="#111"/>
<line x1="293.12" y1="341.58" x2="293.12" y2="345.13" stroke="#111" stroke-width="0.6"/>
<line x1="290.52" y1="341.58" x2="295.73" y2="341.58" stroke="#111" stroke-width="0.6"/>
<line x1="290.52" y1="345.13" x2="295.73" y2="345.13" stroke="#111" stroke-width="0.6"/>
<rect x="301.25" y="313.75" width="8.75" height="48.25" fill="#5050f4" stroke="#3a3a3a" stroke-width="0.55"/>
<circle cx="303.48" cy="313.52" r="1.1" fill="#111"/>
<circle cx="307.82" cy="307.84" r="1.1" fill="#111"/>
<circle cx="304.42" cy="314.81" r="1.1" fill="#111"/>
<circle cx="306.26" cy="315.6" r="1.1" fill="#111"/>
<circle cx="305.77" cy="319.62" r="1.1" fill="#111"/>
<circle cx="305.3" cy="313.69" r="1.1" fill="#111"/>
<line x1="305.62" y1="310.2" x2="305.62" y2="317.3" stroke="#111" stroke-width="0.6"/>
<line x1="303.02" y1="310.2" x2="308.23" y2="310.2" stroke="#111" stroke-width="0.6"/>
<line x1="303.02" y1="317.3" x2="308.23" y2="317.3" stroke="#111" stroke-width="0.6"/>
<rect x="311.25" y="338.91" width="8.75" height="23.09" fill="#ffffff" stroke="#3a3a3a" stroke-width="0.55"/>
<circle cx="313.32" cy="342.11" r="1.1" fill="#111"/>
<circle cx="317.88" cy="336.46" r="1.1" fill="#111"/>
<circle cx="317.72" cy="337.73" r="1.1" fill="#111"/>
<circle cx="317.11" cy="335.5" r="1.1" fill="#111"/>
<circle cx="317.47" cy="343.05" r="1.1" fill="#111"/>
<circle cx="316.3" cy="340.99" r="1.1" fill="#111"/>
<line x1="315.62" y1="336.54" x2="315.62" y2="341.28" stroke="#111" stroke-width="0.6"/>
<line x1="313.02" y1="336.54" x2="318.23" y2="336.54" stroke="#111" stroke-width="0.6"/>
<line x1="313.02" y1="341.28" x2="318.23" y2="341.28" stroke="#111" stroke-width="0.6"/>
<rect x="321.25" y="330.03" width="8.75" height="31.97" fill="#f03e3f" stroke="#3a3a3a" stroke-width="0.55"/>
<circle cx="326.48" cy="331.64" r="1.1" fill="#111"/>
<circle cx="325.83" cy="327.02" r="1.1" fill="#111"/>
<circle cx="326.21" cy="331.8" r="1.1" fill="#111"/>
<circle cx="325.72" cy="330.5" r="1.1" fill="#111"/>
<circle cx="327.79" cy="331.54" r="1.1" fill="#111"/>
<circle cx="324.69" cy="328.98" r="1.1" fill="#111"/>
<line x1="325.62" y1="328.26" x2="325.62" y2="331.81" stroke="#111" stroke-width="0.6"/>
<line x1="323.02" y1="328.26" x2="328.23" y2="328.26" stroke="#111" stroke-width="0.6"/>
<line x1="323.02" y1="331.81" x2="328.23" y2="331.81" stroke="#111" stroke-width="0.6"/>
<line x1="230.95" y1="362" x2="335" y2="362" stroke="#7a7a7a" stroke-width="0.7"/>
<line x1="250.6" y1="362" x2="250.6" y2="365.5" stroke="#7a7a7a" stroke-width="0.7"/>
<line x1="283.1" y1="362" x2="283.1" y2="365.5" stroke="#7a7a7a" stroke-width="0.7"/>
<line x1="315.6" y1="362" x2="315.6" y2="365.5" stroke="#7a7a7a" stroke-width="0.7"/>
<text x="250" y="375.3" font-size="7.6" text-anchor="middle">Total</text>
<text x="282.5" y="375.3" font-size="7.6" text-anchor="middle">Light</text>
<text x="315" y="375.3" font-size="7.6" text-anchor="middle">Dark</text>
<path d="M241.75 302.45V298.25H250.75V302.45" fill="none" stroke="#6d6e71" stroke-width="0.65"/>
<use href="#st" transform="translate(241.65,294.15) scale(2.35)"/>
<use href="#st" transform="translate(246.25,294.15) scale(2.35)"/>
<use href="#st" transform="translate(250.85,294.15) scale(2.35)"/>
<path d="M253 316.7V312.5H260.75V316.7" fill="none" stroke="#6d6e71" stroke-width="0.65"/>
<use href="#st" transform="translate(256.88,308.4) scale(2.35)"/>
<path d="M273.75 311.2V307H283.25V311.2" fill="none" stroke="#6d6e71" stroke-width="0.65"/>
<use href="#st" transform="translate(273.9,302.9) scale(2.35)"/>
<use href="#st" transform="translate(278.5,302.9) scale(2.35)"/>
<use href="#st" transform="translate(283.1,302.9) scale(2.35)"/>
<path d="M285 325.45V321.25H293.75V325.45" fill="none" stroke="#6d6e71" stroke-width="0.65"/>
<use href="#st" transform="translate(287.07,317.15) scale(2.35)"/>
<use href="#st" transform="translate(291.68,317.15) scale(2.35)"/>
<path d="M305.5 298.7V294.5H315V298.7" fill="none" stroke="#6d6e71" stroke-width="0.65"/>
<use href="#st" transform="translate(305.65,290.4) scale(2.35)"/>
<use href="#st" transform="translate(310.25,290.4) scale(2.35)"/>
<use href="#st" transform="translate(314.85,290.4) scale(2.35)"/>
<path d="M316.75 312.95V308.75H325V312.95" fill="none" stroke="#6d6e71" stroke-width="0.65"/>
<use href="#st" transform="translate(320.88,304.65) scale(2.35)"/>
<text transform="translate(198.99,323.75) rotate(-90) scale(1.0483,1)" font-size="7.6" text-anchor="middle">VO<tspan font-size="4.8" dy="2">2</tspan><tspan dy="-2"> (ml/h/kg)</tspan></text>
<line x1="565.5" y1="286.7" x2="565.5" y2="362.3" stroke="#7a7a7a" stroke-width="0.7"/>
<line x1="562.3" y1="362" x2="565.5" y2="362" stroke="#7a7a7a" stroke-width="0.7"/>
<text x="559.8" y="364.75" font-size="7" text-anchor="end">2,000</text>
<line x1="562.3" y1="349.5" x2="565.5" y2="349.5" stroke="#7a7a7a" stroke-width="0.7"/>
<text x="559.8" y="352.25" font-size="7" text-anchor="end">2,500</text>
<line x1="562.3" y1="337" x2="565.5" y2="337" stroke="#7a7a7a" stroke-width="0.7"/>
<text x="559.8" y="339.75" font-size="7" text-anchor="end">3,000</text>
<line x1="562.3" y1="324.5" x2="565.5" y2="324.5" stroke="#7a7a7a" stroke-width="0.7"/>
<text x="559.8" y="327.25" font-size="7" text-anchor="end">3,500</text>
<line x1="562.3" y1="312" x2="565.5" y2="312" stroke="#7a7a7a" stroke-width="0.7"/>
<text x="559.8" y="314.75" font-size="7" text-anchor="end">4,000</text>
<line x1="562.3" y1="299.5" x2="565.5" y2="299.5" stroke="#7a7a7a" stroke-width="0.7"/>
<text x="559.8" y="302.25" font-size="7" text-anchor="end">4,500</text>
<line x1="562.3" y1="287" x2="565.5" y2="287" stroke="#7a7a7a" stroke-width="0.7"/>
<text x="559.8" y="289.75" font-size="7" text-anchor="end">5,000</text>
<rect x="568.75" y="320.75" width="9.25" height="41.25" fill="#5050f4" stroke="#3a3a3a" stroke-width="0.55"/>
<circle cx="571.55" cy="319.9" r="1.1" fill="#111"/>
<circle cx="575.56" cy="320.63" r="1.1" fill="#111"/>
<circle cx="572.26" cy="321.05" r="1.1" fill="#111"/>
<circle cx="573.54" cy="323.91" r="1.1" fill="#111"/>
<circle cx="571.57" cy="324.07" r="1.1" fill="#111"/>
<circle cx="572.38" cy="321.59" r="1.1" fill="#111"/>
<line x1="573.38" y1="318.25" x2="573.38" y2="323.25" stroke="#111" stroke-width="0.6"/>
<line x1="570.77" y1="318.25" x2="575.98" y2="318.25" stroke="#111" stroke-width="0.6"/>
<line x1="570.77" y1="323.25" x2="575.98" y2="323.25" stroke="#111" stroke-width="0.6"/>
<rect x="579.25" y="338.25" width="8.75" height="23.75" fill="#ffffff" stroke="#3a3a3a" stroke-width="0.55"/>
<circle cx="582.61" cy="340.17" r="1.1" fill="#111"/>
<circle cx="581.65" cy="337.9" r="1.1" fill="#111"/>
<circle cx="585.26" cy="337.43" r="1.1" fill="#111"/>
<circle cx="583.96" cy="337.12" r="1.1" fill="#111"/>
<circle cx="582.19" cy="336.67" r="1.1" fill="#111"/>
<circle cx="583.44" cy="337.89" r="1.1" fill="#111"/>
<line x1="583.62" y1="336.25" x2="583.62" y2="340.25" stroke="#111" stroke-width="0.6"/>
<line x1="581.02" y1="336.25" x2="586.23" y2="336.25" stroke="#111" stroke-width="0.6"/>
<line x1="581.02" y1="340.25" x2="586.23" y2="340.25" stroke="#111" stroke-width="0.6"/>
<rect x="589.25" y="332.5" width="8.75" height="29.5" fill="#f03e3f" stroke="#3a3a3a" stroke-width="0.55"/>
<circle cx="594.17" cy="332.7" r="1.1" fill="#111"/>
<circle cx="592.72" cy="334.18" r="1.1" fill="#111"/>
<circle cx="592.29" cy="332.42" r="1.1" fill="#111"/>
<circle cx="593.06" cy="331.94" r="1.1" fill="#111"/>
<circle cx="591.28" cy="333.46" r="1.1" fill="#111"/>
<circle cx="595.36" cy="334.2" r="1.1" fill="#111"/>
<line x1="593.62" y1="331" x2="593.62" y2="334" stroke="#111" stroke-width="0.6"/>
<line x1="591.02" y1="331" x2="596.23" y2="331" stroke="#111" stroke-width="0.6"/>
<line x1="591.02" y1="334" x2="596.23" y2="334" stroke="#111" stroke-width="0.6"/>
<rect x="601.25" y="333.25" width="8.75" height="28.75" fill="#5050f4" stroke="#3a3a3a" stroke-width="0.55"/>
<circle cx="605.9" cy="333.34" r="1.1" fill="#111"/>
<circle cx="604.59" cy="328.37" r="1.1" fill="#111"/>
<circle cx="604.64" cy="330.53" r="1.1" fill="#111"/>
<circle cx="603.99" cy="337.58" r="1.1" fill="#111"/>
<circle cx="607.41" cy="333.85" r="1.1" fill="#111"/>
<circle cx="603.52" cy="334.37" r="1.1" fill="#111"/>
<line x1="605.62" y1="330" x2="605.62" y2="336.5" stroke="#111" stroke-width="0.6"/>
<line x1="603.02" y1="330" x2="608.23" y2="330" stroke="#111" stroke-width="0.6"/>
<line x1="603.02" y1="336.5" x2="608.23" y2="336.5" stroke="#111" stroke-width="0.6"/>
<rect x="611.25" y="347" width="8.75" height="15" fill="#ffffff" stroke="#3a3a3a" stroke-width="0.55"/>
<circle cx="615.34" cy="345.47" r="1.1" fill="#111"/>
<circle cx="613.75" cy="348.79" r="1.1" fill="#111"/>
<circle cx="617.83" cy="345.45" r="1.1" fill="#111"/>
<circle cx="613.97" cy="348.06" r="1.1" fill="#111"/>
<circle cx="614.92" cy="345.86" r="1.1" fill="#111"/>
<circle cx="616.18" cy="344.73" r="1.1" fill="#111"/>
<line x1="615.62" y1="345.5" x2="615.62" y2="348.5" stroke="#111" stroke-width="0.6"/>
<line x1="613.02" y1="345.5" x2="618.23" y2="345.5" stroke="#111" stroke-width="0.6"/>
<line x1="613.02" y1="348.5" x2="618.23" y2="348.5" stroke="#111" stroke-width="0.6"/>
<rect x="621.25" y="342" width="8.75" height="20" fill="#f03e3f" stroke="#3a3a3a" stroke-width="0.55"/>
<circle cx="627.17" cy="341.91" r="1.1" fill="#111"/>
<circle cx="626.77" cy="340.78" r="1.1" fill="#111"/>
<circle cx="626.87" cy="342.12" r="1.1" fill="#111"/>
<circle cx="626.99" cy="340.96" r="1.1" fill="#111"/>
<circle cx="627.62" cy="343.86" r="1.1" fill="#111"/>
<circle cx="627.4" cy="344.48" r="1.1" fill="#111"/>
<line x1="625.62" y1="340.5" x2="625.62" y2="343.5" stroke="#111" stroke-width="0.6"/>
<line x1="623.02" y1="340.5" x2="628.23" y2="340.5" stroke="#111" stroke-width="0.6"/>
<line x1="623.02" y1="343.5" x2="628.23" y2="343.5" stroke="#111" stroke-width="0.6"/>
<rect x="634.25" y="314" width="8.75" height="48" fill="#5050f4" stroke="#3a3a3a" stroke-width="0.55"/>
<circle cx="639.9" cy="312.37" r="1.1" fill="#111"/>
<circle cx="638.61" cy="305.21" r="1.1" fill="#111"/>
<circle cx="638.97" cy="315.56" r="1.1" fill="#111"/>
<circle cx="639.99" cy="306.92" r="1.1" fill="#111"/>
<circle cx="639.14" cy="316.29" r="1.1" fill="#111"/>
<circle cx="638.4" cy="314.8" r="1.1" fill="#111"/>
<line x1="638.62" y1="308.25" x2="638.62" y2="319.75" stroke="#111" stroke-width="0.6"/>
<line x1="636.02" y1="308.25" x2="641.23" y2="308.25" stroke="#111" stroke-width="0.6"/>
<line x1="636.02" y1="319.75" x2="641.23" y2="319.75" stroke="#111" stroke-width="0.6"/>
<rect x="644.25" y="330.75" width="8.75" height="31.25" fill="#ffffff" stroke="#3a3a3a" stroke-width="0.55"/>
<circle cx="649.7" cy="332.41" r="1.1" fill="#111"/>
<circle cx="648.1" cy="330.31" r="1.1" fill="#111"/>
<circle cx="648.07" cy="332.17" r="1.1" fill="#111"/>
<circle cx="650" cy="327.95" r="1.1" fill="#111"/>
<circle cx="648.62" cy="331.2" r="1.1" fill="#111"/>
<circle cx="647.11" cy="332.32" r="1.1" fill="#111"/>
<line x1="648.62" y1="328.5" x2="648.62" y2="333" stroke="#111" stroke-width="0.6"/>
<line x1="646.02" y1="328.5" x2="651.23" y2="328.5" stroke="#111" stroke-width="0.6"/>
<line x1="646.02" y1="333" x2="651.23" y2="333" stroke="#111" stroke-width="0.6"/>
<rect x="654.25" y="321" width="8.75" height="41" fill="#f03e3f" stroke="#3a3a3a" stroke-width="0.55"/>
<circle cx="656.92" cy="320.4" r="1.1" fill="#111"/>
<circle cx="659.02" cy="324.3" r="1.1" fill="#111"/>
<circle cx="660.64" cy="322.41" r="1.1" fill="#111"/>
<circle cx="660.27" cy="318.29" r="1.1" fill="#111"/>
<circle cx="660.83" cy="323.37" r="1.1" fill="#111"/>
<circle cx="658.27" cy="317.72" r="1.1" fill="#111"/>
<line x1="658.62" y1="318.75" x2="658.62" y2="323.25" stroke="#111" stroke-width="0.6"/>
<line x1="656.02" y1="318.75" x2="661.23" y2="318.75" stroke="#111" stroke-width="0.6"/>
<line x1="656.02" y1="323.25" x2="661.23" y2="323.25" stroke="#111" stroke-width="0.6"/>
<line x1="565.2" y1="362" x2="666.25" y2="362" stroke="#7a7a7a" stroke-width="0.7"/>
<line x1="583.6" y1="362" x2="583.6" y2="365.5" stroke="#7a7a7a" stroke-width="0.7"/>
<line x1="615.6" y1="362" x2="615.6" y2="365.5" stroke="#7a7a7a" stroke-width="0.7"/>
<line x1="648.6" y1="362" x2="648.6" y2="365.5" stroke="#7a7a7a" stroke-width="0.7"/>
<text x="582.5" y="375.3" font-size="7.6" text-anchor="middle">Total</text>
<text x="615.5" y="375.3" font-size="7.6" text-anchor="middle">Light</text>
<text x="648.25" y="375.3" font-size="7.6" text-anchor="middle">Dark</text>
<path d="M573.25 302.45V298.25H583.25V302.45" fill="none" stroke="#6d6e71" stroke-width="0.65"/>
<use href="#st" transform="translate(573.65,294.15) scale(2.35)"/>
<use href="#st" transform="translate(578.25,294.15) scale(2.35)"/>
<use href="#st" transform="translate(582.85,294.15) scale(2.35)"/>
<path d="M584.25 317.45V313.25H593.25V317.45" fill="none" stroke="#6d6e71" stroke-width="0.65"/>
<text x="588.75" y="310.05" font-size="6.1" text-anchor="middle"><tspan font-style="italic">P</tspan> = 0.073</text>
<path d="M606.25 311.7V307.5H615.75V311.7" fill="none" stroke="#6d6e71" stroke-width="0.65"/>
<use href="#st" transform="translate(606.4,303.4) scale(2.35)"/>
<use href="#st" transform="translate(611,303.4) scale(2.35)"/>
<use href="#st" transform="translate(615.6,303.4) scale(2.35)"/>
<path d="M617 326.2V322H626.25V326.2" fill="none" stroke="#6d6e71" stroke-width="0.65"/>
<text x="621.62" y="318.8" font-size="6.1" text-anchor="middle"><tspan font-style="italic">P</tspan> = 0.272</text>
<path d="M638.25 297.2V293H647.5V297.2" fill="none" stroke="#6d6e71" stroke-width="0.65"/>
<use href="#st" transform="translate(640.58,288.9) scale(2.35)"/>
<use href="#st" transform="translate(645.18,288.9) scale(2.35)"/>
<path d="M650 312.45V308.25H658.75V312.45" fill="none" stroke="#6d6e71" stroke-width="0.65"/>
<text x="654.38" y="305.05" font-size="6.1" text-anchor="middle"><tspan font-style="italic">P</tspan> = 0.096</text>
<text transform="translate(530.24,325) rotate(-90) scale(1.0335,1)" font-size="7.6" text-anchor="middle">VCO<tspan font-size="4.8" dy="2">2</tspan><tspan dy="-2"> (ml/h/kg)</tspan></text>
<line x1="231.25" y1="397.7" x2="231.25" y2="473.55" stroke="#7a7a7a" stroke-width="0.7"/>
<line x1="228.05" y1="473.25" x2="231.25" y2="473.25" stroke="#7a7a7a" stroke-width="0.7"/>
<text x="224.8" y="476" font-size="7" text-anchor="end">12</text>
<line x1="228.05" y1="460.71" x2="231.25" y2="460.71" stroke="#7a7a7a" stroke-width="0.7"/>
<text x="224.8" y="463.46" font-size="7" text-anchor="end">14</text>
<line x1="228.05" y1="448.17" x2="231.25" y2="448.17" stroke="#7a7a7a" stroke-width="0.7"/>
<text x="224.8" y="450.92" font-size="7" text-anchor="end">16</text>
<line x1="228.05" y1="435.62" x2="231.25" y2="435.62" stroke="#7a7a7a" stroke-width="0.7"/>
<text x="224.8" y="438.38" font-size="7" text-anchor="end">18</text>
<line x1="228.05" y1="423.08" x2="231.25" y2="423.08" stroke="#7a7a7a" stroke-width="0.7"/>
<text x="224.8" y="425.83" font-size="7" text-anchor="end">20</text>
<line x1="228.05" y1="410.54" x2="231.25" y2="410.54" stroke="#7a7a7a" stroke-width="0.7"/>
<text x="224.8" y="413.29" font-size="7" text-anchor="end">22</text>
<line x1="228.05" y1="398" x2="231.25" y2="398" stroke="#7a7a7a" stroke-width="0.7"/>
<text x="224.8" y="400.75" font-size="7" text-anchor="end">24</text>
<rect x="236.25" y="426.22" width="9.25" height="47.03" fill="#5050f4" stroke="#3a3a3a" stroke-width="0.55"/>
<circle cx="238.53" cy="431.33" r="1.1" fill="#111"/>
<circle cx="241.19" cy="426.25" r="1.1" fill="#111"/>
<circle cx="242.89" cy="423.13" r="1.1" fill="#111"/>
<circle cx="241.06" cy="420.59" r="1.1" fill="#111"/>
<circle cx="240.96" cy="426.02" r="1.1" fill="#111"/>
<circle cx="241.76" cy="427.47" r="1.1" fill="#111"/>
<line x1="240.88" y1="423.4" x2="240.88" y2="429.04" stroke="#111" stroke-width="0.6"/>
<line x1="238.28" y1="423.4" x2="243.47" y2="423.4" stroke="#111" stroke-width="0.6"/>
<line x1="238.28" y1="429.04" x2="243.47" y2="429.04" stroke="#111" stroke-width="0.6"/>
<rect x="246.25" y="450.68" width="9.25" height="22.57" fill="#ffffff" stroke="#3a3a3a" stroke-width="0.55"/>
<circle cx="250.19" cy="449.72" r="1.1" fill="#111"/>
<circle cx="250.16" cy="446.18" r="1.1" fill="#111"/>
<circle cx="251.72" cy="450.42" r="1.1" fill="#111"/>
<circle cx="248.95" cy="451.94" r="1.1" fill="#111"/>
<circle cx="250.4" cy="450.06" r="1.1" fill="#111"/>
<circle cx="251.23" cy="446.86" r="1.1" fill="#111"/>
<line x1="250.88" y1="448.17" x2="250.88" y2="453.18" stroke="#111" stroke-width="0.6"/>
<line x1="248.28" y1="448.17" x2="253.47" y2="448.17" stroke="#111" stroke-width="0.6"/>
<line x1="248.28" y1="453.18" x2="253.47" y2="453.18" stroke="#111" stroke-width="0.6"/>
<rect x="256.25" y="443.78" width="9.25" height="29.47" fill="#f03e3f" stroke="#3a3a3a" stroke-width="0.55"/>
<circle cx="263.1" cy="443.88" r="1.1" fill="#111"/>
<circle cx="260.59" cy="442.84" r="1.1" fill="#111"/>
<circle cx="263.26" cy="444.96" r="1.1" fill="#111"/>
<circle cx="261.02" cy="441.4" r="1.1" fill="#111"/>
<circle cx="259.29" cy="445.15" r="1.1" fill="#111"/>
<circle cx="263.17" cy="441.32" r="1.1" fill="#111"/>
<line x1="260.88" y1="441.9" x2="260.88" y2="445.66" stroke="#111" stroke-width="0.6"/>
<line x1="258.27" y1="441.9" x2="263.48" y2="441.9" stroke="#111" stroke-width="0.6"/>
<line x1="258.27" y1="445.66" x2="263.48" y2="445.66" stroke="#111" stroke-width="0.6"/>
<rect x="269.25" y="435" width="8.75" height="38.25" fill="#5050f4" stroke="#3a3a3a" stroke-width="0.55"/>
<circle cx="273.69" cy="437.44" r="1.1" fill="#111"/>
<circle cx="275.52" cy="433.81" r="1.1" fill="#111"/>
<circle cx="275.16" cy="431.92" r="1.1" fill="#111"/>
<circle cx="275.49" cy="435.49" r="1.1" fill="#111"/>
<circle cx="271.98" cy="436.32" r="1.1" fill="#111"/>
<circle cx="273.68" cy="434.97" r="1.1" fill="#111"/>
<line x1="273.62" y1="433.74" x2="273.62" y2="436.25" stroke="#111" stroke-width="0.6"/>
<line x1="271.02" y1="433.74" x2="276.23" y2="433.74" stroke="#111" stroke-width="0.6"/>
<line x1="271.02" y1="436.25" x2="276.23" y2="436.25" stroke="#111" stroke-width="0.6"/>
<rect x="279.25" y="458.83" width="8.75" height="14.42" fill="#ffffff" stroke="#3a3a3a" stroke-width="0.55"/>
<circle cx="282.13" cy="461.62" r="1.1" fill="#111"/>
<circle cx="284.25" cy="457.92" r="1.1" fill="#111"/>
<circle cx="282.92" cy="454.49" r="1.1" fill="#111"/>
<circle cx="284.28" cy="462.85" r="1.1" fill="#111"/>
<circle cx="283.2" cy="456.3" r="1.1" fill="#111"/>
<circle cx="282.7" cy="457.15" r="1.1" fill="#111"/>
<line x1="283.62" y1="456.63" x2="283.62" y2="461.02" stroke="#111" stroke-width="0.6"/>
<line x1="281.02" y1="456.63" x2="286.23" y2="456.63" stroke="#111" stroke-width="0.6"/>
<line x1="281.02" y1="461.02" x2="286.23" y2="461.02" stroke="#111" stroke-width="0.6"/>
<rect x="289.25" y="452.56" width="8.75" height="20.69" fill="#f03e3f" stroke="#3a3a3a" stroke-width="0.55"/>
<circle cx="291.24" cy="454.03" r="1.1" fill="#111"/>
<circle cx="295.27" cy="451.91" r="1.1" fill="#111"/>
<circle cx="294.43" cy="454.84" r="1.1" fill="#111"/>
<circle cx="293.61" cy="452.16" r="1.1" fill="#111"/>
<circle cx="292.5" cy="451.45" r="1.1" fill="#111"/>
<circle cx="293.78" cy="448.82" r="1.1" fill="#111"/>
<line x1="293.62" y1="450.68" x2="293.62" y2="454.44" stroke="#111" stroke-width="0.6"/>
<line x1="291.02" y1="450.68" x2="296.23" y2="450.68" stroke="#111" stroke-width="0.6"/>
<line x1="291.02" y1="454.44" x2="296.23" y2="454.44" stroke="#111" stroke-width="0.6"/>
<rect x="301.75" y="417.44" width="8.75" height="55.81" fill="#5050f4" stroke="#3a3a3a" stroke-width="0.55"/>
<circle cx="306.48" cy="418.78" r="1.1" fill="#111"/>
<circle cx="304.31" cy="422.61" r="1.1" fill="#111"/>
<circle cx="307.37" cy="423.36" r="1.1" fill="#111"/>
<circle cx="304.21" cy="422.4" r="1.1" fill="#111"/>
<circle cx="306.23" cy="412.58" r="1.1" fill="#111"/>
<circle cx="306.67" cy="412.83" r="1.1" fill="#111"/>
<line x1="306.12" y1="413.68" x2="306.12" y2="421.2" stroke="#111" stroke-width="0.6"/>
<line x1="303.52" y1="413.68" x2="308.73" y2="413.68" stroke="#111" stroke-width="0.6"/>
<line x1="303.52" y1="421.2" x2="308.73" y2="421.2" stroke="#111" stroke-width="0.6"/>
<rect x="311.75" y="445.03" width="8.75" height="28.22" fill="#ffffff" stroke="#3a3a3a" stroke-width="0.55"/>
<circle cx="314.02" cy="449.92" r="1.1" fill="#111"/>
<circle cx="317.42" cy="446.81" r="1.1" fill="#111"/>
<circle cx="317.16" cy="446.5" r="1.1" fill="#111"/>
<circle cx="314.54" cy="447.37" r="1.1" fill="#111"/>
<circle cx="314.2" cy="440.98" r="1.1" fill="#111"/>
<circle cx="316.52" cy="446.55" r="1.1" fill="#111"/>
<line x1="316.12" y1="442.52" x2="316.12" y2="447.54" stroke="#111" stroke-width="0.6"/>
<line x1="313.52" y1="442.52" x2="318.73" y2="442.52" stroke="#111" stroke-width="0.6"/>
<line x1="313.52" y1="447.54" x2="318.73" y2="447.54" stroke="#111" stroke-width="0.6"/>
<rect x="321.75" y="435" width="8.75" height="38.25" fill="#f03e3f" stroke="#3a3a3a" stroke-width="0.55"/>
<circle cx="325.88" cy="436.15" r="1.1" fill="#111"/>
<circle cx="323.99" cy="431.08" r="1.1" fill="#111"/>
<circle cx="326.52" cy="430.39" r="1.1" fill="#111"/>
<circle cx="325.84" cy="433.79" r="1.1" fill="#111"/>
<circle cx="324.92" cy="439.57" r="1.1" fill="#111"/>
<circle cx="328.19" cy="431.44" r="1.1" fill="#111"/>
<line x1="326.12" y1="432.49" x2="326.12" y2="437.51" stroke="#111" stroke-width="0.6"/>
<line x1="323.52" y1="432.49" x2="328.73" y2="432.49" stroke="#111" stroke-width="0.6"/>
<line x1="323.52" y1="437.51" x2="328.73" y2="437.51" stroke="#111" stroke-width="0.6"/>
<line x1="230.95" y1="473.25" x2="336.25" y2="473.25" stroke="#7a7a7a" stroke-width="0.7"/>
<line x1="250.9" y1="473.25" x2="250.9" y2="476.75" stroke="#7a7a7a" stroke-width="0.7"/>
<line x1="283.6" y1="473.25" x2="283.6" y2="476.75" stroke="#7a7a7a" stroke-width="0.7"/>
<line x1="316.1" y1="473.25" x2="316.1" y2="476.75" stroke="#7a7a7a" stroke-width="0.7"/>
<text x="250.75" y="486.6" font-size="7.6" text-anchor="middle">Total</text>
<text x="283.25" y="486.6" font-size="7.6" text-anchor="middle">Light</text>
<text x="316.25" y="486.6" font-size="7.6" text-anchor="middle">Dark</text>
<path d="M240 413.7V409.5H249.5V413.7" fill="none" stroke="#6d6e71" stroke-width="0.65"/>
<use href="#st" transform="translate(240.15,405.4) scale(2.35)"/>
<use href="#st" transform="translate(244.75,405.4) scale(2.35)"/>
<use href="#st" transform="translate(249.35,405.4) scale(2.35)"/>
<path d="M251.75 430.95V426.75H260.5V430.95" fill="none" stroke="#6d6e71" stroke-width="0.65"/>
<use href="#st" transform="translate(256.12,422.65) scale(2.35)"/>
<path d="M273 423.45V419.25H282.5V423.45" fill="none" stroke="#6d6e71" stroke-width="0.65"/>
<use href="#st" transform="translate(273.15,415.15) scale(2.35)"/>
<use href="#st" transform="translate(277.75,415.15) scale(2.35)"/>
<use href="#st" transform="translate(282.35,415.15) scale(2.35)"/>
<path d="M284.5 436.7V432.5H293.75V436.7" fill="none" stroke="#6d6e71" stroke-width="0.65"/>
<use href="#st" transform="translate(289.12,428.4) scale(2.35)"/>
<path d="M305.75 404.95V400.75H315.75V404.95" fill="none" stroke="#6d6e71" stroke-width="0.65"/>
<use href="#st" transform="translate(306.15,396.65) scale(2.35)"/>
<use href="#st" transform="translate(310.75,396.65) scale(2.35)"/>
<use href="#st" transform="translate(315.35,396.65) scale(2.35)"/>
<path d="M317.5 419.7V415.5H327V419.7" fill="none" stroke="#6d6e71" stroke-width="0.65"/>
<use href="#st" transform="translate(322.25,411.4) scale(2.35)"/>
<text transform="translate(209.74,435.6) rotate(-90)" font-size="7.6" text-anchor="middle" textLength="53.7" lengthAdjust="spacingAndGlyphs">Heat (kcal/h/kg)</text>
<line x1="564.5" y1="397.95" x2="564.5" y2="473.3" stroke="#7a7a7a" stroke-width="0.7"/>
<line x1="561.3" y1="473" x2="564.5" y2="473" stroke="#7a7a7a" stroke-width="0.7"/>
<text x="559.3" y="475.75" font-size="7" text-anchor="end">0</text>
<line x1="561.3" y1="448.08" x2="564.5" y2="448.08" stroke="#7a7a7a" stroke-width="0.7"/>
<text x="559.3" y="450.83" font-size="7" text-anchor="end">4,000</text>
<line x1="561.3" y1="423.17" x2="564.5" y2="423.17" stroke="#7a7a7a" stroke-width="0.7"/>
<text x="559.3" y="425.92" font-size="7" text-anchor="end">8,000</text>
<line x1="561.3" y1="398.25" x2="564.5" y2="398.25" stroke="#7a7a7a" stroke-width="0.7"/>
<text x="559.3" y="401" font-size="7" text-anchor="end">12,000</text>
<rect x="568.75" y="432.51" width="9.25" height="40.49" fill="#5050f4" stroke="#3a3a3a" stroke-width="0.55"/>
<circle cx="572.49" cy="420.09" r="1.1" fill="#111"/>
<circle cx="574.89" cy="438.63" r="1.1" fill="#111"/>
<circle cx="573.87" cy="418.18" r="1.1" fill="#111"/>
<circle cx="573.35" cy="418.5" r="1.1" fill="#111"/>
<circle cx="572.14" cy="435.94" r="1.1" fill="#111"/>
<circle cx="574.42" cy="441.19" r="1.1" fill="#111"/>
<line x1="573.38" y1="426.28" x2="573.38" y2="438.74" stroke="#111" stroke-width="0.6"/>
<line x1="570.77" y1="426.28" x2="575.98" y2="426.28" stroke="#111" stroke-width="0.6"/>
<line x1="570.77" y1="438.74" x2="575.98" y2="438.74" stroke="#111" stroke-width="0.6"/>
<rect x="579.25" y="453.07" width="8.75" height="19.93" fill="#ffffff" stroke="#3a3a3a" stroke-width="0.55"/>
<circle cx="582.71" cy="451.2" r="1.1" fill="#111"/>
<circle cx="583.55" cy="451.61" r="1.1" fill="#111"/>
<circle cx="582.39" cy="454.69" r="1.1" fill="#111"/>
<circle cx="582.95" cy="454.63" r="1.1" fill="#111"/>
<circle cx="585.89" cy="454.11" r="1.1" fill="#111"/>
<circle cx="583.92" cy="454.99" r="1.1" fill="#111"/>
<line x1="583.62" y1="452.13" x2="583.62" y2="454" stroke="#111" stroke-width="0.6"/>
<line x1="581.02" y1="452.13" x2="586.23" y2="452.13" stroke="#111" stroke-width="0.6"/>
<line x1="581.02" y1="454" x2="586.23" y2="454" stroke="#111" stroke-width="0.6"/>
<rect x="589.25" y="446.21" width="8.75" height="26.79" fill="#f03e3f" stroke="#3a3a3a" stroke-width="0.55"/>
<circle cx="593.79" cy="446.93" r="1.1" fill="#111"/>
<circle cx="593.16" cy="448.92" r="1.1" fill="#111"/>
<circle cx="591.82" cy="444.18" r="1.1" fill="#111"/>
<circle cx="592.91" cy="447.8" r="1.1" fill="#111"/>
<circle cx="592.14" cy="447.56" r="1.1" fill="#111"/>
<circle cx="592.36" cy="449.11" r="1.1" fill="#111"/>
<line x1="593.62" y1="444.97" x2="593.62" y2="447.46" stroke="#111" stroke-width="0.6"/>
<line x1="591.02" y1="444.97" x2="596.23" y2="444.97" stroke="#111" stroke-width="0.6"/>
<line x1="591.02" y1="447.46" x2="596.23" y2="447.46" stroke="#111" stroke-width="0.6"/>
<rect x="601.75" y="444.35" width="8.75" height="28.65" fill="#5050f4" stroke="#3a3a3a" stroke-width="0.55"/>
<circle cx="606.91" cy="446.91" r="1.1" fill="#111"/>
<circle cx="604.47" cy="441.01" r="1.1" fill="#111"/>
<circle cx="604.17" cy="448.08" r="1.1" fill="#111"/>
<circle cx="607.73" cy="450.37" r="1.1" fill="#111"/>
<circle cx="605.85" cy="438.9" r="1.1" fill="#111"/>
<circle cx="607.59" cy="449.87" r="1.1" fill="#111"/>
<line x1="606.12" y1="441.23" x2="606.12" y2="447.46" stroke="#111" stroke-width="0.6"/>
<line x1="603.52" y1="441.23" x2="608.73" y2="441.23" stroke="#111" stroke-width="0.6"/>
<line x1="603.52" y1="447.46" x2="608.73" y2="447.46" stroke="#111" stroke-width="0.6"/>
<rect x="611.75" y="458.05" width="8.75" height="14.95" fill="#ffffff" stroke="#3a3a3a" stroke-width="0.55"/>
<circle cx="615.42" cy="456.66" r="1.1" fill="#111"/>
<circle cx="615.53" cy="455.19" r="1.1" fill="#111"/>
<circle cx="614.72" cy="455.24" r="1.1" fill="#111"/>
<circle cx="616.15" cy="459.75" r="1.1" fill="#111"/>
<circle cx="615.9" cy="460.35" r="1.1" fill="#111"/>
<circle cx="617.12" cy="459.54" r="1.1" fill="#111"/>
<line x1="616.12" y1="456.49" x2="616.12" y2="459.61" stroke="#111" stroke-width="0.6"/>
<line x1="613.52" y1="456.49" x2="618.73" y2="456.49" stroke="#111" stroke-width="0.6"/>
<line x1="613.52" y1="459.61" x2="618.73" y2="459.61" stroke="#111" stroke-width="0.6"/>
<rect x="621.75" y="454.31" width="8.75" height="18.69" fill="#f03e3f" stroke="#3a3a3a" stroke-width="0.55"/>
<circle cx="628.04" cy="453.44" r="1.1" fill="#111"/>
<circle cx="625.49" cy="456.84" r="1.1" fill="#111"/>
<circle cx="626.64" cy="457.18" r="1.1" fill="#111"/>
<circle cx="627.91" cy="458.07" r="1.1" fill="#111"/>
<circle cx="626.19" cy="453.89" r="1.1" fill="#111"/>
<circle cx="625.02" cy="451.6" r="1.1" fill="#111"/>
<line x1="626.12" y1="452.44" x2="626.12" y2="456.18" stroke="#111" stroke-width="0.6"/>
<line x1="623.52" y1="452.44" x2="628.73" y2="452.44" stroke="#111" stroke-width="0.6"/>
<line x1="623.52" y1="456.18" x2="628.73" y2="456.18" stroke="#111" stroke-width="0.6"/>
<rect x="634.25" y="420.68" width="8.75" height="52.32" fill="#5050f4" stroke="#3a3a3a" stroke-width="0.55"/>
<circle cx="638.07" cy="414.79" r="1.1" fill="#111"/>
<circle cx="638.95" cy="427.75" r="1.1" fill="#111"/>
<circle cx="638.1" cy="436.15" r="1.1" fill="#111"/>
<circle cx="637.07" cy="407.56" r="1.1" fill="#111"/>
<circle cx="637.77" cy="414.59" r="1.1" fill="#111"/>
<circle cx="636.75" cy="418.36" r="1.1" fill="#111"/>
<line x1="638.62" y1="412.58" x2="638.62" y2="428.77" stroke="#111" stroke-width="0.6"/>
<line x1="636.02" y1="412.58" x2="641.23" y2="412.58" stroke="#111" stroke-width="0.6"/>
<line x1="636.02" y1="428.77" x2="641.23" y2="428.77" stroke="#111" stroke-width="0.6"/>
<rect x="644.25" y="449.95" width="8.75" height="23.05" fill="#ffffff" stroke="#3a3a3a" stroke-width="0.55"/>
<circle cx="647.96" cy="449.95" r="1.1" fill="#111"/>
<circle cx="647.65" cy="452.12" r="1.1" fill="#111"/>
<circle cx="647.72" cy="451.32" r="1.1" fill="#111"/>
<circle cx="646.83" cy="448.87" r="1.1" fill="#111"/>
<circle cx="647.58" cy="450.43" r="1.1" fill="#111"/>
<circle cx="650.59" cy="448.58" r="1.1" fill="#111"/>
<line x1="648.62" y1="449.02" x2="648.62" y2="450.89" stroke="#111" stroke-width="0.6"/>
<line x1="646.02" y1="449.02" x2="651.23" y2="449.02" stroke="#111" stroke-width="0.6"/>
<line x1="646.02" y1="450.89" x2="651.23" y2="450.89" stroke="#111" stroke-width="0.6"/>
<rect x="654.25" y="436.25" width="8.75" height="36.75" fill="#f03e3f" stroke="#3a3a3a" stroke-width="0.55"/>
<circle cx="660.46" cy="431.75" r="1.1" fill="#111"/>
<circle cx="656.86" cy="439.03" r="1.1" fill="#111"/>
<circle cx="656.37" cy="434.01" r="1.1" fill="#111"/>
<circle cx="659.41" cy="438.1" r="1.1" fill="#111"/>
<circle cx="658.21" cy="434.27" r="1.1" fill="#111"/>
<circle cx="659.58" cy="439.38" r="1.1" fill="#111"/>
<line x1="658.62" y1="433.44" x2="658.62" y2="439.05" stroke="#111" stroke-width="0.6"/>
<line x1="656.02" y1="433.44" x2="661.23" y2="433.44" stroke="#111" stroke-width="0.6"/>
<line x1="656.02" y1="439.05" x2="661.23" y2="439.05" stroke="#111" stroke-width="0.6"/>
<line x1="564.2" y1="473" x2="667" y2="473" stroke="#7a7a7a" stroke-width="0.7"/>
<line x1="583.6" y1="473" x2="583.6" y2="476.5" stroke="#7a7a7a" stroke-width="0.7"/>
<line x1="616.1" y1="473" x2="616.1" y2="476.5" stroke="#7a7a7a" stroke-width="0.7"/>
<line x1="648.6" y1="473" x2="648.6" y2="476.5" stroke="#7a7a7a" stroke-width="0.7"/>
<text x="583.25" y="486.2" font-size="7.6" text-anchor="middle">Total</text>
<text x="615.75" y="486.2" font-size="7.6" text-anchor="middle">Light</text>
<text x="648.5" y="486.2" font-size="7.6" text-anchor="middle">Dark</text>
<path d="M573.25 406.7V402.5H583.25V406.7" fill="none" stroke="#6d6e71" stroke-width="0.65"/>
<use href="#st" transform="translate(575.95,398.4) scale(2.35)"/>
<use href="#st" transform="translate(580.55,398.4) scale(2.35)"/>
<path d="M584.25 432.2V428H593.25V432.2" fill="none" stroke="#6d6e71" stroke-width="0.65"/>
<text x="588.75" y="424.8" font-size="6.1" text-anchor="middle"><tspan font-style="italic">P</tspan> = 0.325</text>
<path d="M606.75 427.2V423H615.75V427.2" fill="none" stroke="#6d6e71" stroke-width="0.65"/>
<use href="#st" transform="translate(606.65,418.9) scale(2.35)"/>
<use href="#st" transform="translate(611.25,418.9) scale(2.35)"/>
<use href="#st" transform="translate(615.85,418.9) scale(2.35)"/>
<path d="M617.5 442.2V438H626.75V442.2" fill="none" stroke="#6d6e71" stroke-width="0.65"/>
<text x="622.12" y="434.8" font-size="6.1" text-anchor="middle"><tspan font-style="italic">P</tspan> = 0.368</text>
<path d="M638.75 397.2V393H647.5V397.2" fill="none" stroke="#6d6e71" stroke-width="0.65"/>
<use href="#st" transform="translate(640.83,388.9) scale(2.35)"/>
<use href="#st" transform="translate(645.43,388.9) scale(2.35)"/>
<path d="M649.25 419.95V415.75H658.25V419.95" fill="none" stroke="#6d6e71" stroke-width="0.65"/>
<text x="653.75" y="412.55" font-size="6.1" text-anchor="middle"><tspan font-style="italic">P</tspan> = 0.093</text>
<text transform="translate(531.49,436) rotate(-90)" font-size="7.6" text-anchor="middle" textLength="92.5" lengthAdjust="spacingAndGlyphs">Locomotor activity (counts)</text>
<text x="18" y="516.3" font-size="12" font-weight="bold" fill="#000">j</text>
<rect x="36.25" y="523" width="131.75" height="66.5" fill="#000"/>
<g transform="translate(76.25,517.2)">
<text x="0" y="0" font-size="8.4" textLength="16.97" lengthAdjust="spacingAndGlyphs">PBS</text>
<path d="M17.56 -3.02H23.27M21.77 -4.72L23.47 -3.02L21.77 -1.32" stroke="#231f20" stroke-width="0.65" fill="none"/>
<text x="24.26" y="0" font-size="8.4" textLength="23.74" lengthAdjust="spacingAndGlyphs">Young</text>
</g>
<rect x="87" y="525.5" width="21.75" height="16.5" fill="#2c2c2c"/>
<rect x="87" y="525.5" width="21.75" height="16.5" fill="url(#spk)" opacity="0.45"/>
<path d="M101.75 526.5 L107.25 530.5 L107.75 541" fill="none" stroke="#c8c8c8" stroke-width="1.6" opacity="0.7"/>
<ellipse cx="96.38" cy="533.8" rx="4.35" ry="4.6" fill="#070707" filter="url(#soft)"/>
<line x1="112.75" y1="526" x2="112.75" y2="542" stroke="#2a2a2a" stroke-width="0.5"/>
<rect x="112.15" y="532.8" width="1.3" height="1.5" fill="#d8c400"/>
<rect x="39.5" y="546.3" width="115" height="25" fill="#101010"/>
<rect x="39.5" y="549" width="115" height="18" fill="url(#spk)" opacity="0.12"/>
<rect x="39.5" y="546.4" width="115" height="1.5" fill="#b5b5b5"/>
<rect x="39.5" y="547.9" width="115" height="1" fill="#555"/>
<path d="M39.5 566.12 L40.78 565.71 L42.06 565.61 L43.33 565.84 L44.61 566.34 L45.89 566.92 L47.17 567.39 L48.44 567.6 L49.72 567.46 L51 567.03 L52.28 566.45 L53.56 565.92 L54.83 565.63 L56.11 565.66 L57.39 566.02 L58.67 566.58 L59.94 567.14 L61.22 567.52 L62.5 567.58 L63.78 567.31 L65.06 566.8 L66.33 566.21 L67.61 565.76 L68.89 565.6 L70.17 565.78 L71.44 566.24 L72.72 566.82 L74 567.33 L75.28 567.59 L76.56 567.51 L77.83 567.12 L79.11 566.55 L80.39 566 L81.67 565.66 L82.94 565.63 L84.22 565.94 L85.5 566.47 L86.78 567.05 L88.06 567.47 L89.33 567.6 L90.61 567.38 L91.89 566.9 L93.17 566.31 L94.44 565.83 L95.72 565.6 L97 565.72 L98.28 566.14 L99.56 566.72 L100.83 567.25 L102.11 567.56 L103.39 567.55 L104.67 567.21 L105.94 566.66 L107.22 566.09 L108.5 565.7 L109.78 565.61 L111.06 565.86 L112.33 566.37 L113.61 566.95 L114.89 567.42 L116.17 567.6 L117.44 567.44 L118.72 567 L120 566.42 L121.28 565.9 L122.56 565.62 L123.83 565.68 L125.11 566.05 L126.39 566.61 L127.67 567.17 L128.94 567.53 L130.22 567.58 L131.5 567.29 L132.78 566.76 L134.06 566.18 L135.33 565.75 L136.61 565.6 L137.89 565.8 L139.17 566.27 L140.44 566.85 L141.72 567.35 L143 567.59 L144.28 567.49 L145.56 567.09 L146.83 566.52 L148.11 565.98 L149.39 565.65 L150.67 565.64 L151.94 565.97 L153.22 566.51 L154.5 567.08 L154.5 571.3 L39.5 571.3Z" fill="#a8a8a8"/>
<path d="M39.5 567.52 L40.78 567.11 L42.06 567.01 L43.33 567.24 L44.61 567.74 L45.89 568.32 L47.17 568.79 L48.44 569 L49.72 568.86 L51 568.43 L52.28 567.85 L53.56 567.32 L54.83 567.03 L56.11 567.06 L57.39 567.42 L58.67 567.98 L59.94 568.54 L61.22 568.92 L62.5 568.98 L63.78 568.71 L65.06 568.2 L66.33 567.61 L67.61 567.16 L68.89 567 L70.17 567.18 L71.44 567.64 L72.72 568.22 L74 568.73 L75.28 568.99 L76.56 568.91 L77.83 568.52 L79.11 567.95 L80.39 567.4 L81.67 567.06 L82.94 567.03 L84.22 567.34 L85.5 567.87 L86.78 568.45 L88.06 568.87 L89.33 569 L90.61 568.78 L91.89 568.3 L93.17 567.71 L94.44 567.23 L95.72 567 L97 567.12 L98.28 567.54 L99.56 568.12 L100.83 568.65 L102.11 568.96 L103.39 568.95 L104.67 568.61 L105.94 568.06 L107.22 567.49 L108.5 567.1 L109.78 567.01 L111.06 567.26 L112.33 567.77 L113.61 568.35 L114.89 568.82 L116.17 569 L117.44 568.84 L118.72 568.4 L120 567.82 L121.28 567.3 L122.56 567.02 L123.83 567.08 L125.11 567.45 L126.39 568.01 L127.67 568.57 L128.94 568.93 L130.22 568.98 L131.5 568.69 L132.78 568.16 L134.06 567.58 L135.33 567.15 L136.61 567 L137.89 567.2 L139.17 567.67 L140.44 568.25 L141.72 568.75 L143 568.99 L144.28 568.89 L145.56 568.49 L146.83 567.92 L148.11 567.38 L149.39 567.05 L150.67 567.04 L151.94 567.37 L153.22 567.91 L154.5 568.48" fill="none" stroke="#e4e4e4" stroke-width="2"/>
<path d="M39.5 562.62 L40.78 562.21 L42.06 562.11 L43.33 562.34 L44.61 562.84 L45.89 563.42 L47.17 563.89 L48.44 564.1 L49.72 563.96 L51 563.53 L52.28 562.95 L53.56 562.42 L54.83 562.13 L56.11 562.16 L57.39 562.52 L58.67 563.08 L59.94 563.64 L61.22 564.02 L62.5 564.08 L63.78 563.81 L65.06 563.3 L66.33 562.71 L67.61 562.26 L68.89 562.1 L70.17 562.28 L71.44 562.74 L72.72 563.32 L74 563.83 L75.28 564.09 L76.56 564.01 L77.83 563.62 L79.11 563.05 L80.39 562.5 L81.67 562.16 L82.94 562.13 L84.22 562.44 L85.5 562.97 L86.78 563.55 L88.06 563.97 L89.33 564.1 L90.61 563.88 L91.89 563.4 L93.17 562.81 L94.44 562.33 L95.72 562.1 L97 562.22 L98.28 562.64 L99.56 563.22 L100.83 563.75 L102.11 564.06 L103.39 564.05 L104.67 563.71 L105.94 563.16 L107.22 562.59 L108.5 562.2 L109.78 562.11 L111.06 562.36 L112.33 562.87 L113.61 563.45 L114.89 563.92 L116.17 564.1 L117.44 563.94 L118.72 563.5 L120 562.92 L121.28 562.4 L122.56 562.12 L123.83 562.18 L125.11 562.55 L126.39 563.11 L127.67 563.67 L128.94 564.03 L130.22 564.08 L131.5 563.79 L132.78 563.26 L134.06 562.68 L135.33 562.25 L136.61 562.1 L137.89 562.3 L139.17 562.77 L140.44 563.35 L141.72 563.85 L143 564.09 L144.28 563.99 L145.56 563.59 L146.83 563.02 L148.11 562.48 L149.39 562.15 L150.67 562.14 L151.94 562.47 L153.22 563.01 L154.5 563.58" fill="none" stroke="#3c3c3c" stroke-width="0.8"/>
<path d="M39.5 551.64 L40.78 551.06 L42.06 550.63 L43.33 550.5 L44.61 550.71 L45.89 551.19 L47.17 551.77 L48.44 552.26 L49.72 552.49 L51 552.38 L52.28 551.97 L53.56 551.4 L54.83 550.86 L56.11 550.54 L57.39 550.55 L58.67 550.88 L59.94 551.43 L61.22 552 L62.5 552.4 L63.78 552.49 L65.06 552.24 L66.33 551.74 L67.61 551.16 L68.89 550.69 L70.17 550.5 L71.44 550.65 L72.72 551.09 L74 551.67 L75.28 552.19 L76.56 552.48 L77.83 552.43 L79.11 552.06 L80.39 551.5 L81.67 550.94 L82.94 550.57 L84.22 550.52 L85.5 550.8 L86.78 551.32 L88.06 551.9 L89.33 552.35 L90.61 552.5 L91.89 552.31 L93.17 551.84 L94.44 551.26 L95.72 550.76 L97 550.51 L98.28 550.6 L99.56 551 L100.83 551.57 L102.11 552.11 L103.39 552.45 L104.67 552.46 L105.94 552.14 L107.22 551.61 L108.5 551.03 L109.78 550.62 L111.06 550.51 L112.33 550.73 L113.61 551.22 L114.89 551.81 L116.17 552.29 L117.44 552.5 L118.72 552.37 L120 551.94 L121.28 551.36 L122.56 550.83 L123.83 550.53 L125.11 550.56 L126.39 550.91 L127.67 551.46 L128.94 552.03 L130.22 552.41 L131.5 552.49 L132.78 552.22 L134.06 551.71 L135.33 551.13 L136.61 550.67 L137.89 550.5 L139.17 550.67 L140.44 551.12 L141.72 551.71 L143 552.22 L144.28 552.48 L145.56 552.41 L146.83 552.03 L148.11 551.47 L149.39 550.91 L150.67 550.56 L151.94 550.53 L153.22 550.83 L154.5 551.36" fill="none" stroke="#3a3a3a" stroke-width="0.8"/>
<rect x="38.7" y="546.3" width="1.8" height="24.5" fill="url(#gbar)"/>
<rect x="157.5" y="547" width="1" height="0.6" fill="#666"/>
<rect x="157.5" y="553" width="1" height="0.6" fill="#666"/>
<rect x="157.5" y="559" width="1" height="0.6" fill="#666"/>
<rect x="157.5" y="565" width="1" height="0.6" fill="#666"/>
<rect x="157.5" y="571" width="1" height="0.6" fill="#666"/>
<rect x="158" y="557.5" width="1.3" height="1.3" fill="#d8c400"/>
<text x="157" y="576.5" font-size="3.5" fill="#3c8a2c">59</text>
<line x1="60" y1="547.5" x2="60" y2="570.5" stroke="#2aa8b8" stroke-width="0.6"/>
<line x1="68.75" y1="547.5" x2="68.75" y2="570.5" stroke="#2aa8b8" stroke-width="0.6"/>
<path d="M60 548.3H71.75M60 570H71.75M68.75 551.5H72.25M68.75 565H72.25" stroke="#2aa8b8" stroke-width="0.5" fill="none"/>
<path d="M40.5 580.3 L42 580.47 L43.5 580.23 L45 580.36 L46.5 580.14 L48 580.11 L48.4 578.3 L48.8 581.2 L50.3 580.51 L51.8 580.42 L53.3 580.41 L54.8 580.07 L56.3 580.07 L57.8 580.13 L59.3 580.15 L60.8 580.2 L62.3 580.24 L63.8 580.07 L64.2 578.3 L64.6 581.2 L66.1 580.21 L67.6 580.37 L69.1 580.14 L70.6 580.47 L72.1 580.34 L73.6 580.41 L75.1 580.18 L76.6 580.27 L78.1 580.39 L79.6 580.22 L80 578.3 L80.4 581.2 L81.9 580.05 L83.4 580.47 L84.9 580.44 L86.4 580.19 L87.9 580.07 L89.4 580.48 L90.9 580.35 L92.4 580.07 L93.9 580.17 L95.4 580.11 L95.8 578.3 L96.2 581.2 L97.7 580.45 L99.2 580.16 L100.7 580.51 L102.2 580.42 L103.7 580.09 L105.2 580.4 L106.7 580.25 L108.2 580.42 L109.7 580.46 L111.2 580.19 L111.6 578.3 L112 581.2 L113.5 580.09 L115 580.52 L116.5 580.26 L118 580.52 L119.5 580.4 L121 580.42 L122.5 580.46 L124 580.36 L125.5 580.28 L127 580.08 L127.4 578.3 L127.8 581.2 L129.3 580.4 L130.8 580.26 L132.3 580.31 L133.8 580.51 L135.3 580.11 L136.8 580.43 L138.3 580.07 L139.8 580.4 L141.3 580.45 L142.8 580.18 L143.2 578.3 L143.6 581.2 L145.1 580.32 L146.6 580.53 L148.1 580.37 L149.6 580.32 L151.1 580.17 L152.6 580.08 L154.1 580.23" fill="none" stroke="#3f8f2a" stroke-width="0.6"/>
<rect x="41.5" y="586" width="1.6" height="0.7" fill="#555"/>
<rect x="53.83" y="586" width="1.6" height="0.7" fill="#555"/>
<rect x="66.17" y="586" width="1.6" height="0.7" fill="#555"/>
<rect x="78.5" y="586" width="1.6" height="0.7" fill="#555"/>
<rect x="90.83" y="586" width="1.6" height="0.7" fill="#555"/>
<rect x="103.17" y="586" width="1.6" height="0.7" fill="#555"/>
<rect x="115.5" y="586" width="1.6" height="0.7" fill="#555"/>
<rect x="127.83" y="586" width="1.6" height="0.7" fill="#555"/>
<rect x="140.17" y="586" width="1.6" height="0.7" fill="#555"/>
<rect x="152.5" y="586" width="1.6" height="0.7" fill="#555"/>
<rect x="170" y="523" width="131.75" height="66.5" fill="#000"/>
<g transform="translate(213,517.2)">
<text x="0" y="0" font-size="8.4" textLength="16.85" lengthAdjust="spacingAndGlyphs">PBS</text>
<path d="M17.44 -3.02H23.1M21.6 -4.72L23.3 -3.02L21.6 -1.32" stroke="#231f20" stroke-width="0.65" fill="none"/>
<text x="24.09" y="0" font-size="8.4" textLength="19.66" lengthAdjust="spacingAndGlyphs">Aged</text>
</g>
<rect x="222.5" y="525.5" width="20.5" height="16.5" fill="#2c2c2c"/>
<rect x="222.5" y="525.5" width="20.5" height="16.5" fill="url(#spk)" opacity="0.45"/>
<path d="M236 526.5 L241.5 530.5 L242 541" fill="none" stroke="#c8c8c8" stroke-width="1.6" opacity="0.7"/>
<ellipse cx="231.25" cy="533.8" rx="4.1" ry="4.6" fill="#070707" filter="url(#soft)"/>
<line x1="247" y1="526" x2="247" y2="542" stroke="#2a2a2a" stroke-width="0.5"/>
<rect x="246.4" y="532.8" width="1.3" height="1.5" fill="#d8c400"/>
<rect x="173" y="546.3" width="114.5" height="25" fill="#101010"/>
<rect x="173" y="549" width="114.5" height="18" fill="url(#spk)" opacity="0.12"/>
<rect x="173" y="546.4" width="114.5" height="1.5" fill="#b5b5b5"/>
<rect x="173" y="547.9" width="114.5" height="1" fill="#555"/>
<path d="M173 566.34 L174.27 566.32 L175.54 566.5 L176.82 566.85 L178.09 567.22 L179.36 567.51 L180.63 567.6 L181.91 567.47 L183.18 567.16 L184.45 566.78 L185.72 566.46 L186.99 566.31 L188.27 566.37 L189.54 566.63 L190.81 567 L192.08 567.36 L193.36 567.57 L194.63 567.57 L195.9 567.36 L197.17 567.01 L198.44 566.64 L199.72 566.37 L200.99 566.3 L202.26 566.46 L203.53 566.78 L204.81 567.16 L206.08 567.47 L207.35 567.6 L208.62 567.51 L209.89 567.23 L211.17 566.85 L212.44 566.51 L213.71 566.32 L214.98 566.34 L216.26 566.57 L217.53 566.94 L218.8 567.3 L220.07 567.55 L221.34 567.59 L222.62 567.41 L223.89 567.08 L225.16 566.7 L226.43 566.41 L227.71 566.3 L228.98 566.42 L230.25 566.71 L231.52 567.09 L232.79 567.42 L234.07 567.59 L235.34 567.54 L236.61 567.29 L237.88 566.92 L239.16 566.56 L240.43 566.34 L241.7 566.32 L242.97 566.52 L244.24 566.87 L245.52 567.24 L246.79 567.52 L248.06 567.6 L249.33 567.46 L250.61 567.14 L251.88 566.76 L253.15 566.45 L254.42 566.3 L255.69 566.38 L256.97 566.65 L258.24 567.03 L259.51 567.37 L260.78 567.58 L262.06 567.57 L263.33 567.34 L264.6 566.99 L265.87 566.62 L267.14 566.36 L268.42 566.31 L269.69 566.47 L270.96 566.8 L272.23 567.18 L273.51 567.48 L274.78 567.6 L276.05 567.5 L277.32 567.21 L278.59 566.83 L279.87 566.49 L281.14 566.31 L282.41 566.35 L283.68 566.59 L284.96 566.96 L286.23 567.32 L287.5 567.56 L287.5 571.3 L173 571.3Z" fill="#a8a8a8"/>
<path d="M173 567.74 L174.27 567.72 L175.54 567.9 L176.82 568.25 L178.09 568.62 L179.36 568.91 L180.63 569 L181.91 568.87 L183.18 568.56 L184.45 568.18 L185.72 567.86 L186.99 567.71 L188.27 567.77 L189.54 568.03 L190.81 568.4 L192.08 568.76 L193.36 568.97 L194.63 568.97 L195.9 568.76 L197.17 568.41 L198.44 568.04 L199.72 567.77 L200.99 567.7 L202.26 567.86 L203.53 568.18 L204.81 568.56 L206.08 568.87 L207.35 569 L208.62 568.91 L209.89 568.63 L211.17 568.25 L212.44 567.91 L213.71 567.72 L214.98 567.74 L216.26 567.97 L217.53 568.34 L218.8 568.7 L220.07 568.95 L221.34 568.99 L222.62 568.81 L223.89 568.48 L225.16 568.1 L226.43 567.81 L227.71 567.7 L228.98 567.82 L230.25 568.11 L231.52 568.49 L232.79 568.82 L234.07 568.99 L235.34 568.94 L236.61 568.69 L237.88 568.32 L239.16 567.96 L240.43 567.74 L241.7 567.72 L242.97 567.92 L244.24 568.27 L245.52 568.64 L246.79 568.92 L248.06 569 L249.33 568.86 L250.61 568.54 L251.88 568.16 L253.15 567.85 L254.42 567.7 L255.69 567.78 L256.97 568.05 L258.24 568.43 L259.51 568.77 L260.78 568.98 L262.06 568.97 L263.33 568.74 L264.6 568.39 L265.87 568.02 L267.14 567.76 L268.42 567.71 L269.69 567.87 L270.96 568.2 L272.23 568.58 L273.51 568.88 L274.78 569 L276.05 568.9 L277.32 568.61 L278.59 568.23 L279.87 567.89 L281.14 567.71 L282.41 567.75 L283.68 567.99 L284.96 568.36 L286.23 568.72 L287.5 568.96" fill="none" stroke="#e4e4e4" stroke-width="2"/>
<path d="M173 562.84 L174.27 562.82 L175.54 563 L176.82 563.35 L178.09 563.72 L179.36 564.01 L180.63 564.1 L181.91 563.97 L183.18 563.66 L184.45 563.28 L185.72 562.96 L186.99 562.81 L188.27 562.87 L189.54 563.13 L190.81 563.5 L192.08 563.86 L193.36 564.07 L194.63 564.07 L195.9 563.86 L197.17 563.51 L198.44 563.14 L199.72 562.87 L200.99 562.8 L202.26 562.96 L203.53 563.28 L204.81 563.66 L206.08 563.97 L207.35 564.1 L208.62 564.01 L209.89 563.73 L211.17 563.35 L212.44 563.01 L213.71 562.82 L214.98 562.84 L216.26 563.07 L217.53 563.44 L218.8 563.8 L220.07 564.05 L221.34 564.09 L222.62 563.91 L223.89 563.58 L225.16 563.2 L226.43 562.91 L227.71 562.8 L228.98 562.92 L230.25 563.21 L231.52 563.59 L232.79 563.92 L234.07 564.09 L235.34 564.04 L236.61 563.79 L237.88 563.42 L239.16 563.06 L240.43 562.84 L241.7 562.82 L242.97 563.02 L244.24 563.37 L245.52 563.74 L246.79 564.02 L248.06 564.1 L249.33 563.96 L250.61 563.64 L251.88 563.26 L253.15 562.95 L254.42 562.8 L255.69 562.88 L256.97 563.15 L258.24 563.53 L259.51 563.87 L260.78 564.08 L262.06 564.07 L263.33 563.84 L264.6 563.49 L265.87 563.12 L267.14 562.86 L268.42 562.81 L269.69 562.97 L270.96 563.3 L272.23 563.68 L273.51 563.98 L274.78 564.1 L276.05 564 L277.32 563.71 L278.59 563.33 L279.87 562.99 L281.14 562.81 L282.41 562.85 L283.68 563.09 L284.96 563.46 L286.23 563.82 L287.5 564.06" fill="none" stroke="#3c3c3c" stroke-width="0.8"/>
<path d="M173 551.16 L174.27 550.91 L175.54 550.86 L176.82 551.03 L178.09 551.36 L179.36 551.74 L180.63 552.04 L181.91 552.15 L183.18 552.04 L184.45 551.74 L185.72 551.36 L186.99 551.03 L188.27 550.86 L189.54 550.91 L190.81 551.16 L192.08 551.52 L193.36 551.88 L194.63 552.11 L195.9 552.13 L197.17 551.93 L198.44 551.59 L199.72 551.22 L200.99 550.94 L202.26 550.85 L203.53 550.99 L204.81 551.3 L206.08 551.68 L207.35 552 L208.62 552.15 L209.89 552.07 L211.17 551.81 L212.44 551.43 L213.71 551.08 L214.98 550.88 L216.26 550.88 L217.53 551.1 L218.8 551.45 L220.07 551.82 L221.34 552.08 L222.62 552.14 L223.89 551.98 L225.16 551.66 L226.43 551.28 L227.71 550.97 L228.98 550.85 L230.25 550.95 L231.52 551.24 L232.79 551.61 L234.07 551.95 L235.34 552.14 L236.61 552.1 L237.88 551.86 L239.16 551.5 L240.43 551.14 L241.7 550.9 L242.97 550.86 L244.24 551.05 L245.52 551.39 L246.79 551.76 L248.06 552.05 L249.33 552.15 L250.61 552.03 L251.88 551.72 L253.15 551.34 L254.42 551.02 L255.69 550.86 L256.97 550.92 L258.24 551.17 L259.51 551.55 L260.78 551.9 L262.06 552.12 L263.33 552.12 L264.6 551.92 L265.87 551.57 L267.14 551.19 L268.42 550.93 L269.69 550.85 L270.96 551 L272.23 551.32 L273.51 551.7 L274.78 552.01 L276.05 552.15 L277.32 552.06 L278.59 551.78 L279.87 551.41 L281.14 551.07 L282.41 550.87 L283.68 550.89 L284.96 551.12 L286.23 551.48 L287.5 551.84" fill="none" stroke="#3a3a3a" stroke-width="0.8"/>
<rect x="172.2" y="546.3" width="1.8" height="24.5" fill="url(#gbar)"/>
<rect x="290.5" y="547" width="1" height="0.6" fill="#666"/>
<rect x="290.5" y="553" width="1" height="0.6" fill="#666"/>
<rect x="290.5" y="559" width="1" height="0.6" fill="#666"/>
<rect x="290.5" y="565" width="1" height="0.6" fill="#666"/>
<rect x="290.5" y="571" width="1" height="0.6" fill="#666"/>
<rect x="291" y="557.5" width="1.3" height="1.3" fill="#d8c400"/>
<text x="290" y="576.5" font-size="3.5" fill="#3c8a2c">59</text>
<line x1="257" y1="547.5" x2="257" y2="570.5" stroke="#2aa8b8" stroke-width="0.6"/>
<line x1="267.5" y1="547.5" x2="267.5" y2="570.5" stroke="#2aa8b8" stroke-width="0.6"/>
<path d="M257 548.3H270.5M257 570H270.5M267.5 551.5H271M267.5 565H271" stroke="#2aa8b8" stroke-width="0.5" fill="none"/>
<path d="M174 580.3 L175.5 580.26 L177 580.15 L178.5 580.21 L180 580.12 L181.5 580.4 L181.9 578.3 L182.3 581.2 L183.8 580.39 L185.3 580.17 L186.8 580.17 L188.3 580.31 L189.8 580.27 L191.3 580.52 L192.8 580.23 L194.3 580.2 L195.8 580.49 L197.3 580.12 L197.7 578.3 L198.1 581.2 L199.6 580.33 L201.1 580.22 L202.6 580.46 L204.1 580.32 L205.6 580.43 L207.1 580.13 L208.6 580.38 L210.1 580.35 L211.6 580.28 L213.1 580.43 L213.5 578.3 L213.9 581.2 L215.4 580.47 L216.9 580.11 L218.4 580.19 L219.9 580.23 L221.4 580.15 L222.9 580.08 L224.4 580.19 L225.9 580.15 L227.4 580.4 L228.9 580.27 L229.3 578.3 L229.7 581.2 L231.2 580.11 L232.7 580.21 L234.2 580.28 L235.7 580.23 L237.2 580.13 L238.7 580.09 L240.2 580.06 L241.7 580.55 L243.2 580.43 L244.7 580.09 L245.1 578.3 L245.5 581.2 L247 580.41 L248.5 580.54 L250 580.33 L251.5 580.1 L253 580.29 L254.5 580.27 L256 580.14 L257.5 580.32 L259 580.05 L260.5 580.51 L260.9 578.3 L261.3 581.2 L262.8 580.37 L264.3 580.36 L265.8 580.52 L267.3 580.38 L268.8 580.18 L270.3 580.17 L271.8 580.12 L273.3 580.06 L274.8 580.44 L276.3 580.47 L276.7 578.3 L277.1 581.2 L278.6 580.2 L280.1 580.14 L281.6 580.37 L283.1 580.47 L284.6 580.51 L286.1 580.13 L287.6 580.44" fill="none" stroke="#3f8f2a" stroke-width="0.6"/>
<rect x="175" y="586" width="1.6" height="0.7" fill="#555"/>
<rect x="187.28" y="586" width="1.6" height="0.7" fill="#555"/>
<rect x="199.56" y="586" width="1.6" height="0.7" fill="#555"/>
<rect x="211.83" y="586" width="1.6" height="0.7" fill="#555"/>
<rect x="224.11" y="586" width="1.6" height="0.7" fill="#555"/>
<rect x="236.39" y="586" width="1.6" height="0.7" fill="#555"/>
<rect x="248.67" y="586" width="1.6" height="0.7" fill="#555"/>
<rect x="260.94" y="586" width="1.6" height="0.7" fill="#555"/>
<rect x="273.22" y="586" width="1.6" height="0.7" fill="#555"/>
<rect x="285.5" y="586" width="1.6" height="0.7" fill="#555"/>
<rect x="303.25" y="523" width="132.5" height="66.5" fill="#000"/>
<g transform="translate(334.5,517.2)">
<text x="0" y="0" font-size="8.4" textLength="42.26" lengthAdjust="spacingAndGlyphs">Young sEV</text>
<path d="M42.86 -3.02H48.66M47.16 -4.72L48.86 -3.02L47.16 -1.32" stroke="#231f20" stroke-width="0.65" fill="none"/>
<text x="49.66" y="0" font-size="8.4" textLength="20.09" lengthAdjust="spacingAndGlyphs">Aged</text>
</g>
<rect x="355.5" y="525.5" width="20.25" height="16.5" fill="#2c2c2c"/>
<rect x="355.5" y="525.5" width="20.25" height="16.5" fill="url(#spk)" opacity="0.45"/>
<path d="M368.75 526.5 L374.25 530.5 L374.75 541" fill="none" stroke="#c8c8c8" stroke-width="1.6" opacity="0.7"/>
<ellipse cx="364.12" cy="533.8" rx="4.05" ry="4.6" fill="#070707" filter="url(#soft)"/>
<line x1="379.75" y1="526" x2="379.75" y2="542" stroke="#2a2a2a" stroke-width="0.5"/>
<rect x="379.15" y="532.8" width="1.3" height="1.5" fill="#d8c400"/>
<rect x="306.25" y="546.3" width="116.25" height="25" fill="#101010"/>
<rect x="306.25" y="549" width="116.25" height="18" fill="url(#spk)" opacity="0.12"/>
<rect x="306.25" y="546.4" width="116.25" height="1.5" fill="#b5b5b5"/>
<rect x="306.25" y="547.9" width="116.25" height="1" fill="#555"/>
<path d="M306.25 564.93 L307.54 565.47 L308.83 566.26 L310.12 567.03 L311.42 567.52 L312.71 567.55 L314 567.13 L315.29 566.38 L316.58 565.57 L317.88 564.98 L319.17 564.8 L320.46 565.11 L321.75 565.78 L323.04 566.6 L324.33 567.28 L325.62 567.59 L326.92 567.43 L328.21 566.84 L329.5 566.04 L330.79 565.29 L332.08 564.85 L333.38 564.87 L334.67 565.35 L335.96 566.12 L337.25 566.91 L338.54 567.46 L339.83 567.58 L341.12 567.23 L342.42 566.52 L343.71 565.71 L345 565.06 L346.29 564.8 L347.58 565.02 L348.88 565.64 L350.17 566.46 L351.46 567.18 L352.75 567.57 L354.04 567.49 L355.33 566.97 L356.62 566.19 L357.92 565.41 L359.21 564.9 L360.5 564.83 L361.79 565.24 L363.08 565.97 L364.38 566.78 L365.67 567.39 L366.96 567.6 L368.25 567.32 L369.54 566.67 L370.83 565.85 L372.12 565.15 L373.42 564.81 L374.71 564.95 L376 565.51 L377.29 566.31 L378.58 567.07 L379.88 567.54 L381.17 567.54 L382.46 567.09 L383.75 566.33 L385.04 565.53 L386.33 564.96 L387.62 564.81 L388.92 565.14 L390.21 565.83 L391.5 566.65 L392.79 567.31 L394.08 567.6 L395.38 567.41 L396.67 566.8 L397.96 565.99 L399.25 565.25 L400.54 564.84 L401.83 564.89 L403.12 565.39 L404.42 566.17 L405.71 566.95 L407 567.48 L408.29 567.58 L409.58 567.2 L410.88 566.48 L412.17 565.66 L413.46 565.03 L414.75 564.8 L416.04 565.05 L417.33 565.69 L418.62 566.51 L419.92 567.22 L421.21 567.58 L422.5 567.47 L422.5 571.3 L306.25 571.3Z" fill="#a8a8a8"/>
<path d="M306.25 566.33 L307.54 566.87 L308.83 567.66 L310.12 568.43 L311.42 568.92 L312.71 568.95 L314 568.53 L315.29 567.78 L316.58 566.97 L317.88 566.38 L319.17 566.2 L320.46 566.51 L321.75 567.18 L323.04 568 L324.33 568.68 L325.62 568.99 L326.92 568.83 L328.21 568.24 L329.5 567.44 L330.79 566.69 L332.08 566.25 L333.38 566.27 L334.67 566.75 L335.96 567.52 L337.25 568.31 L338.54 568.86 L339.83 568.98 L341.12 568.63 L342.42 567.92 L343.71 567.11 L345 566.46 L346.29 566.2 L347.58 566.42 L348.88 567.04 L350.17 567.86 L351.46 568.58 L352.75 568.97 L354.04 568.89 L355.33 568.37 L356.62 567.59 L357.92 566.81 L359.21 566.3 L360.5 566.23 L361.79 566.64 L363.08 567.37 L364.38 568.18 L365.67 568.79 L366.96 569 L368.25 568.72 L369.54 568.07 L370.83 567.25 L372.12 566.55 L373.42 566.21 L374.71 566.35 L376 566.91 L377.29 567.71 L378.58 568.47 L379.88 568.94 L381.17 568.94 L382.46 568.49 L383.75 567.73 L385.04 566.93 L386.33 566.36 L387.62 566.21 L388.92 566.54 L390.21 567.23 L391.5 568.05 L392.79 568.71 L394.08 569 L395.38 568.81 L396.67 568.2 L397.96 567.39 L399.25 566.65 L400.54 566.24 L401.83 566.29 L403.12 566.79 L404.42 567.57 L405.71 568.35 L407 568.88 L408.29 568.98 L409.58 568.6 L410.88 567.88 L412.17 567.06 L413.46 566.43 L414.75 566.2 L416.04 566.45 L417.33 567.09 L418.62 567.91 L419.92 568.62 L421.21 568.98 L422.5 568.87" fill="none" stroke="#e4e4e4" stroke-width="2"/>
<path d="M306.25 561.43 L307.54 561.97 L308.83 562.76 L310.12 563.53 L311.42 564.02 L312.71 564.05 L314 563.63 L315.29 562.88 L316.58 562.07 L317.88 561.48 L319.17 561.3 L320.46 561.61 L321.75 562.28 L323.04 563.1 L324.33 563.78 L325.62 564.09 L326.92 563.93 L328.21 563.34 L329.5 562.54 L330.79 561.79 L332.08 561.35 L333.38 561.37 L334.67 561.85 L335.96 562.62 L337.25 563.41 L338.54 563.96 L339.83 564.08 L341.12 563.73 L342.42 563.02 L343.71 562.21 L345 561.56 L346.29 561.3 L347.58 561.52 L348.88 562.14 L350.17 562.96 L351.46 563.68 L352.75 564.07 L354.04 563.99 L355.33 563.47 L356.62 562.69 L357.92 561.91 L359.21 561.4 L360.5 561.33 L361.79 561.74 L363.08 562.47 L364.38 563.28 L365.67 563.89 L366.96 564.1 L368.25 563.82 L369.54 563.17 L370.83 562.35 L372.12 561.65 L373.42 561.31 L374.71 561.45 L376 562.01 L377.29 562.81 L378.58 563.57 L379.88 564.04 L381.17 564.04 L382.46 563.59 L383.75 562.83 L385.04 562.03 L386.33 561.46 L387.62 561.31 L388.92 561.64 L390.21 562.33 L391.5 563.15 L392.79 563.81 L394.08 564.1 L395.38 563.91 L396.67 563.3 L397.96 562.49 L399.25 561.75 L400.54 561.34 L401.83 561.39 L403.12 561.89 L404.42 562.67 L405.71 563.45 L407 563.98 L408.29 564.08 L409.58 563.7 L410.88 562.98 L412.17 562.16 L413.46 561.53 L414.75 561.3 L416.04 561.55 L417.33 562.19 L418.62 563.01 L419.92 563.72 L421.21 564.08 L422.5 563.97" fill="none" stroke="#3c3c3c" stroke-width="0.8"/>
<path d="M306.25 550.13 L307.54 550.2 L308.83 550.71 L310.12 551.5 L311.42 552.28 L312.71 552.8 L314 552.87 L315.29 552.48 L316.58 551.75 L317.88 550.93 L319.17 550.31 L320.46 550.1 L321.75 550.36 L323.04 551.02 L324.33 551.83 L325.62 552.54 L326.92 552.89 L328.21 552.76 L329.5 552.2 L330.79 551.41 L332.08 550.64 L333.38 550.17 L334.67 550.15 L335.96 550.6 L337.25 551.35 L338.54 552.15 L339.83 552.73 L341.12 552.89 L342.42 552.58 L343.71 551.89 L345 551.07 L346.29 550.4 L347.58 550.1 L348.88 550.29 L350.17 550.88 L351.46 551.69 L352.75 552.43 L354.04 552.86 L355.33 552.82 L356.62 552.33 L357.92 551.55 L359.21 550.76 L360.5 550.22 L361.79 550.12 L363.08 550.49 L364.38 551.2 L365.67 552.02 L366.96 552.66 L368.25 552.9 L369.54 552.66 L370.83 552.03 L372.12 551.21 L373.42 550.5 L374.71 550.12 L376 550.22 L377.29 550.75 L378.58 551.54 L379.88 552.32 L381.17 552.81 L382.46 552.86 L383.75 552.44 L385.04 551.7 L386.33 550.89 L387.62 550.29 L388.92 550.1 L390.21 550.39 L391.5 551.06 L392.79 551.88 L394.08 552.57 L395.38 552.89 L396.67 552.74 L397.96 552.16 L399.25 551.36 L400.54 550.6 L401.83 550.16 L403.12 550.17 L404.42 550.63 L405.71 551.4 L407 552.2 L408.29 552.76 L409.58 552.89 L410.88 552.54 L412.17 551.84 L413.46 551.03 L414.75 550.37 L416.04 550.1 L417.33 550.31 L418.62 550.93 L419.92 551.74 L421.21 552.47 L422.5 552.87" fill="none" stroke="#3a3a3a" stroke-width="0.8"/>
<rect x="305.45" y="546.3" width="1.8" height="24.5" fill="url(#gbar)"/>
<rect x="425.5" y="547" width="1" height="0.6" fill="#666"/>
<rect x="425.5" y="553" width="1" height="0.6" fill="#666"/>
<rect x="425.5" y="559" width="1" height="0.6" fill="#666"/>
<rect x="425.5" y="565" width="1" height="0.6" fill="#666"/>
<rect x="425.5" y="571" width="1" height="0.6" fill="#666"/>
<rect x="426" y="557.5" width="1.3" height="1.3" fill="#d8c400"/>
<text x="425" y="576.5" font-size="3.5" fill="#3c8a2c">59</text>
<line x1="337.5" y1="547.5" x2="337.5" y2="570.5" stroke="#2aa8b8" stroke-width="0.6"/>
<line x1="345.5" y1="547.5" x2="345.5" y2="570.5" stroke="#2aa8b8" stroke-width="0.6"/>
<path d="M337.5 548.3H348.5M337.5 570H348.5M345.5 551.5H349M345.5 565H349" stroke="#2aa8b8" stroke-width="0.5" fill="none"/>
<path d="M307.25 580.3 L308.75 580.47 L310.25 580.42 L311.75 580.21 L313.25 580.14 L314.75 580.46 L315.15 578.3 L315.55 581.2 L317.05 580.21 L318.55 580.23 L320.05 580.33 L321.55 580.23 L323.05 580.47 L324.55 580.17 L326.05 580.07 L327.55 580.33 L329.05 580.36 L330.55 580.46 L330.95 578.3 L331.35 581.2 L332.85 580.4 L334.35 580.5 L335.85 580.52 L337.35 580.3 L338.85 580.3 L340.35 580.13 L341.85 580.2 L343.35 580.34 L344.85 580.09 L346.35 580.39 L346.75 578.3 L347.15 581.2 L348.65 580.13 L350.15 580.27 L351.65 580.53 L353.15 580.09 L354.65 580.07 L356.15 580.27 L357.65 580.15 L359.15 580.41 L360.65 580.05 L362.15 580.47 L362.55 578.3 L362.95 581.2 L364.45 580.48 L365.95 580.44 L367.45 580.26 L368.95 580.19 L370.45 580.38 L371.95 580.31 L373.45 580.26 L374.95 580.22 L376.45 580.27 L377.95 580.38 L378.35 578.3 L378.75 581.2 L380.25 580.46 L381.75 580.5 L383.25 580.13 L384.75 580.2 L386.25 580.27 L387.75 580.33 L389.25 580.22 L390.75 580.15 L392.25 580.09 L393.75 580.21 L394.15 578.3 L394.55 581.2 L396.05 580.28 L397.55 580.54 L399.05 580.5 L400.55 580.48 L402.05 580.54 L403.55 580.53 L405.05 580.36 L406.55 580.46 L408.05 580.08 L409.55 580.39 L409.95 578.3 L410.35 581.2 L411.85 580.35 L413.35 580.2 L414.85 580.34 L416.35 580.53 L417.85 580.29 L419.35 580.37 L420.85 580.2 L422.35 580.22" fill="none" stroke="#3f8f2a" stroke-width="0.6"/>
<rect x="308.25" y="586" width="1.6" height="0.7" fill="#555"/>
<rect x="320.72" y="586" width="1.6" height="0.7" fill="#555"/>
<rect x="333.19" y="586" width="1.6" height="0.7" fill="#555"/>
<rect x="345.67" y="586" width="1.6" height="0.7" fill="#555"/>
<rect x="358.14" y="586" width="1.6" height="0.7" fill="#555"/>
<rect x="370.61" y="586" width="1.6" height="0.7" fill="#555"/>
<rect x="383.08" y="586" width="1.6" height="0.7" fill="#555"/>
<rect x="395.56" y="586" width="1.6" height="0.7" fill="#555"/>
<rect x="408.03" y="586" width="1.6" height="0.7" fill="#555"/>
<rect x="420.5" y="586" width="1.6" height="0.7" fill="#555"/>
<text x="459.6" y="514.5" font-size="12" font-weight="bold" fill="#000">k</text>
<line x1="493.75" y1="513.45" x2="493.75" y2="589.8" stroke="#7a7a7a" stroke-width="0.7"/>
<line x1="490.55" y1="589.5" x2="493.75" y2="589.5" stroke="#7a7a7a" stroke-width="0.7"/>
<text x="486.8" y="592.25" font-size="7" text-anchor="end">0</text>
<line x1="490.55" y1="570.56" x2="493.75" y2="570.56" stroke="#7a7a7a" stroke-width="0.7"/>
<text x="486.8" y="573.31" font-size="7" text-anchor="end">50</text>
<line x1="490.55" y1="551.62" x2="493.75" y2="551.62" stroke="#7a7a7a" stroke-width="0.7"/>
<text x="486.8" y="554.38" font-size="7" text-anchor="end">100</text>
<line x1="490.55" y1="532.69" x2="493.75" y2="532.69" stroke="#7a7a7a" stroke-width="0.7"/>
<text x="486.8" y="535.44" font-size="7" text-anchor="end">150</text>
<line x1="490.55" y1="513.75" x2="493.75" y2="513.75" stroke="#7a7a7a" stroke-width="0.7"/>
<text x="486.8" y="516.5" font-size="7" text-anchor="end">200</text>
<rect x="499.25" y="557.68" width="12" height="31.82" fill="#5050f4" stroke="#3a3a3a" stroke-width="0.55"/>
<circle cx="502.75" cy="552.76" r="1.2" fill="#111"/>
<circle cx="507.75" cy="553.52" r="1.2" fill="#111"/>
<circle cx="505.25" cy="554.65" r="1.2" fill="#111"/>
<circle cx="502.25" cy="556.17" r="1.2" fill="#111"/>
<circle cx="508.25" cy="557.31" r="1.2" fill="#111"/>
<circle cx="505.25" cy="559.2" r="1.2" fill="#111"/>
<circle cx="503.25" cy="561.09" r="1.2" fill="#111"/>
<circle cx="506.25" cy="563.75" r="1.2" fill="#111"/>
<line x1="505.25" y1="555.79" x2="505.25" y2="559.58" stroke="#111" stroke-width="0.6"/>
<line x1="502.65" y1="555.79" x2="507.85" y2="555.79" stroke="#111" stroke-width="0.6"/>
<line x1="502.65" y1="559.58" x2="507.85" y2="559.58" stroke="#111" stroke-width="0.6"/>
<rect x="512.5" y="542.91" width="11.75" height="46.59" fill="#ffffff" stroke="#3a3a3a" stroke-width="0.55"/>
<circle cx="518.38" cy="532.69" r="1.2" fill="#111"/>
<circle cx="515.88" cy="536.48" r="1.2" fill="#111"/>
<circle cx="520.88" cy="540.26" r="1.2" fill="#111"/>
<circle cx="515.38" cy="541.02" r="1.2" fill="#111"/>
<circle cx="521.38" cy="542.16" r="1.2" fill="#111"/>
<circle cx="518.38" cy="544.05" r="1.2" fill="#111"/>
<circle cx="516.38" cy="547.84" r="1.2" fill="#111"/>
<circle cx="519.38" cy="551.62" r="1.2" fill="#111"/>
<line x1="518.38" y1="540.64" x2="518.38" y2="545.19" stroke="#111" stroke-width="0.6"/>
<line x1="515.77" y1="540.64" x2="520.98" y2="540.64" stroke="#111" stroke-width="0.6"/>
<line x1="515.77" y1="545.19" x2="520.98" y2="545.19" stroke="#111" stroke-width="0.6"/>
<rect x="525.5" y="550.11" width="12" height="39.39" fill="#f03e3f" stroke="#3a3a3a" stroke-width="0.55"/>
<circle cx="533.5" cy="544.81" r="1.2" fill="#111"/>
<circle cx="529.5" cy="545.94" r="1.2" fill="#111"/>
<circle cx="534.5" cy="547.84" r="1.2" fill="#111"/>
<circle cx="528.5" cy="548.6" r="1.2" fill="#111"/>
<circle cx="531.5" cy="549.73" r="1.2" fill="#111"/>
<circle cx="529.5" cy="551.62" r="1.2" fill="#111"/>
<circle cx="533.5" cy="552.38" r="1.2" fill="#111"/>
<circle cx="531.5" cy="553.14" r="1.2" fill="#111"/>
<line x1="531.5" y1="548.97" x2="531.5" y2="551.25" stroke="#111" stroke-width="0.6"/>
<line x1="528.9" y1="548.97" x2="534.1" y2="548.97" stroke="#111" stroke-width="0.6"/>
<line x1="528.9" y1="551.25" x2="534.1" y2="551.25" stroke="#111" stroke-width="0.6"/>
<line x1="493.45" y1="589.5" x2="543.75" y2="589.5" stroke="#7a7a7a" stroke-width="0.7"/>
<line x1="505" y1="589.5" x2="505" y2="593" stroke="#7a7a7a" stroke-width="0.7"/>
<line x1="518.25" y1="589.5" x2="518.25" y2="593" stroke="#7a7a7a" stroke-width="0.7"/>
<line x1="531.25" y1="589.5" x2="531.25" y2="593" stroke="#7a7a7a" stroke-width="0.7"/>
<path d="M505 521.2V517H518.25V521.2" fill="none" stroke="#6d6e71" stroke-width="0.65"/>
<use href="#st" transform="translate(507.02,512.9) scale(2.35)"/>
<use href="#st" transform="translate(511.62,512.9) scale(2.35)"/>
<use href="#st" transform="translate(516.23,512.9) scale(2.35)"/>
<path d="M519.5 529.7V525.5H531.25V529.7" fill="none" stroke="#6d6e71" stroke-width="0.65"/>
<use href="#st" transform="translate(525.38,521.4) scale(2.35)"/>
<text transform="translate(466.38,551.25) rotate(-90)" font-size="7.3" text-anchor="middle" textLength="42.5" lengthAdjust="spacingAndGlyphs">LV mass (mg)</text>
<text x="572.2" y="514.5" font-size="12" font-weight="bold" fill="#000">l</text>
<line x1="598.5" y1="513.45" x2="598.5" y2="589.8" stroke="#7a7a7a" stroke-width="0.7"/>
<line x1="595.3" y1="589.5" x2="598.5" y2="589.5" stroke="#7a7a7a" stroke-width="0.7"/>
<text x="593.5" y="592.25" font-size="7" text-anchor="end">40</text>
<line x1="595.3" y1="564.25" x2="598.5" y2="564.25" stroke="#7a7a7a" stroke-width="0.7"/>
<text x="593.5" y="567" font-size="7" text-anchor="end">50</text>
<line x1="595.3" y1="539" x2="598.5" y2="539" stroke="#7a7a7a" stroke-width="0.7"/>
<text x="593.5" y="541.75" font-size="7" text-anchor="end">60</text>
<line x1="595.3" y1="513.75" x2="598.5" y2="513.75" stroke="#7a7a7a" stroke-width="0.7"/>
<text x="593.5" y="516.5" font-size="7" text-anchor="end">70</text>
<rect x="607.75" y="535.97" width="11.75" height="53.53" fill="#5050f4" stroke="#3a3a3a" stroke-width="0.55"/>
<circle cx="613.62" cy="527.64" r="1.2" fill="#111"/>
<circle cx="611.12" cy="531.42" r="1.2" fill="#111"/>
<circle cx="616.12" cy="533.95" r="1.2" fill="#111"/>
<circle cx="610.62" cy="535.21" r="1.2" fill="#111"/>
<circle cx="616.62" cy="536.48" r="1.2" fill="#111"/>
<circle cx="613.62" cy="539" r="1.2" fill="#111"/>
<circle cx="611.62" cy="541.52" r="1.2" fill="#111"/>
<circle cx="614.62" cy="544.05" r="1.2" fill="#111"/>
<line x1="613.62" y1="533.95" x2="613.62" y2="537.99" stroke="#111" stroke-width="0.6"/>
<line x1="611.02" y1="533.95" x2="616.23" y2="533.95" stroke="#111" stroke-width="0.6"/>
<line x1="611.02" y1="537.99" x2="616.23" y2="537.99" stroke="#111" stroke-width="0.6"/>
<rect x="621" y="551.62" width="11.75" height="37.88" fill="#ffffff" stroke="#3a3a3a" stroke-width="0.55"/>
<circle cx="624.88" cy="541.52" r="1.2" fill="#111"/>
<circle cx="628.88" cy="542.79" r="1.2" fill="#111"/>
<circle cx="626.88" cy="546.58" r="1.2" fill="#111"/>
<circle cx="623.88" cy="549.1" r="1.2" fill="#111"/>
<circle cx="629.88" cy="551.62" r="1.2" fill="#111"/>
<circle cx="626.88" cy="556.67" r="1.2" fill="#111"/>
<circle cx="624.88" cy="559.2" r="1.2" fill="#111"/>
<circle cx="627.88" cy="564.25" r="1.2" fill="#111"/>
<line x1="626.88" y1="548.34" x2="626.88" y2="554.91" stroke="#111" stroke-width="0.6"/>
<line x1="624.27" y1="548.34" x2="629.48" y2="548.34" stroke="#111" stroke-width="0.6"/>
<line x1="624.27" y1="554.91" x2="629.48" y2="554.91" stroke="#111" stroke-width="0.6"/>
<rect x="634" y="539.5" width="11.75" height="50" fill="#f03e3f" stroke="#3a3a3a" stroke-width="0.55"/>
<circle cx="639.88" cy="530.16" r="1.2" fill="#111"/>
<circle cx="637.38" cy="536.48" r="1.2" fill="#111"/>
<circle cx="642.38" cy="537.74" r="1.2" fill="#111"/>
<circle cx="636.88" cy="539" r="1.2" fill="#111"/>
<circle cx="642.88" cy="540.26" r="1.2" fill="#111"/>
<circle cx="639.88" cy="541.52" r="1.2" fill="#111"/>
<circle cx="637.88" cy="544.05" r="1.2" fill="#111"/>
<circle cx="640.88" cy="546.58" r="1.2" fill="#111"/>
<line x1="639.88" y1="537.74" x2="639.88" y2="541.27" stroke="#111" stroke-width="0.6"/>
<line x1="637.27" y1="537.74" x2="642.48" y2="537.74" stroke="#111" stroke-width="0.6"/>
<line x1="637.27" y1="541.27" x2="642.48" y2="541.27" stroke="#111" stroke-width="0.6"/>
<line x1="598.2" y1="589.5" x2="651.5" y2="589.5" stroke="#7a7a7a" stroke-width="0.7"/>
<line x1="613.5" y1="589.5" x2="613.5" y2="593" stroke="#7a7a7a" stroke-width="0.7"/>
<line x1="627" y1="589.5" x2="627" y2="593" stroke="#7a7a7a" stroke-width="0.7"/>
<line x1="640.25" y1="589.5" x2="640.25" y2="593" stroke="#7a7a7a" stroke-width="0.7"/>
<path d="M613.5 517.95V513.75H627V517.95" fill="none" stroke="#6d6e71" stroke-width="0.65"/>
<use href="#st" transform="translate(615.65,509.65) scale(2.35)"/>
<use href="#st" transform="translate(620.25,509.65) scale(2.35)"/>
<use href="#st" transform="translate(624.85,509.65) scale(2.35)"/>
<path d="M627 526.2V522H640.25V526.2" fill="none" stroke="#6d6e71" stroke-width="0.65"/>
<use href="#st" transform="translate(631.33,517.9) scale(2.35)"/>
<use href="#st" transform="translate(635.93,517.9) scale(2.35)"/>
<text transform="translate(578.13,551.25) rotate(-90)" font-size="7.3" text-anchor="middle" textLength="67.5" lengthAdjust="spacingAndGlyphs">Ejection fraction (%)</text>
<text x="18.5" y="616.3" font-size="12" font-weight="bold" fill="#000">m</text>
<rect x="58.75" y="622.5" width="96.75" height="110.5" fill="#093d8c"/>
<g transform="translate(83.25,616.6)">
<text x="0" y="0" font-size="8.4" textLength="16.7" lengthAdjust="spacingAndGlyphs">PBS</text>
<path d="M17.29 -3.02H22.9M21.4 -4.72L23.1 -3.02L21.4 -1.32" stroke="#231f20" stroke-width="0.65" fill="none"/>
<text x="23.88" y="0" font-size="8.4" textLength="23.37" lengthAdjust="spacingAndGlyphs">Young</text>
</g>
<clipPath id="cb1"><path d="M96.2 637.6 C95.22 637.62 91.36 640.9 90 642 C88.64 643.1 85.72 645.72 84.5 647 C83.28 648.28 80.33 651.48 79.5 653 C78.67 654.52 77.68 658.17 77.4 660 C77.12 661.83 76.89 665.7 77.1 668.7 C77.31 671.7 78.78 681.9 79.2 685.7 C79.62 689.5 80.78 697.9 80.7 701.3 C80.62 704.69 76.72 713.18 78.5 714.8 C80.28 716.42 91.78 715.2 96 715.2 C100.22 715.2 112.19 715.76 114.7 714.8 C117.21 713.84 116.34 708.58 117.5 707 C118.66 705.42 123.12 702.96 124.6 701.3 C126.08 699.64 129.71 694.28 130.2 692.8 C130.69 691.32 129.71 689.25 128.8 688.6 C127.89 687.95 123.23 688.03 122.4 687.2 C121.57 686.37 121.28 683.16 121.7 681.5 C122.12 679.84 124.83 674.49 126 673 C127.17 671.51 130.21 669.69 131.7 668.7 C133.19 667.71 137.56 665.65 138.8 664.5 C140.04 663.35 141.97 660.46 142.3 658.8 C142.63 657.14 142.35 651.94 141.6 650.3 C140.85 648.65 137.56 645.53 135.9 644.7 C134.24 643.87 129.38 643.05 127.4 643.2 C125.42 643.35 120.3 645.01 118.9 646 C117.5 646.99 116.09 650.21 115.4 651.7 C114.71 653.19 113.86 657.48 113 658.8 C112.14 660.12 109.13 662.42 108 663 C106.87 663.58 104.26 664.29 103.3 663.8 C102.34 663.31 100.29 660.38 99.8 658.8 C99.31 657.22 99.26 652.28 99.1 650.3 C98.94 648.32 98.74 643.28 98.4 641.8 C98.06 640.32 97.18 637.58 96.2 637.6Z"/></clipPath>
<path d="M96.2 637.6 C95.22 637.62 91.36 640.9 90 642 C88.64 643.1 85.72 645.72 84.5 647 C83.28 648.28 80.33 651.48 79.5 653 C78.67 654.52 77.68 658.17 77.4 660 C77.12 661.83 76.89 665.7 77.1 668.7 C77.31 671.7 78.78 681.9 79.2 685.7 C79.62 689.5 80.78 697.9 80.7 701.3 C80.62 704.69 76.72 713.18 78.5 714.8 C80.28 716.42 91.78 715.2 96 715.2 C100.22 715.2 112.19 715.76 114.7 714.8 C117.21 713.84 116.34 708.58 117.5 707 C118.66 705.42 123.12 702.96 124.6 701.3 C126.08 699.64 129.71 694.28 130.2 692.8 C130.69 691.32 129.71 689.25 128.8 688.6 C127.89 687.95 123.23 688.03 122.4 687.2 C121.57 686.37 121.28 683.16 121.7 681.5 C122.12 679.84 124.83 674.49 126 673 C127.17 671.51 130.21 669.69 131.7 668.7 C133.19 667.71 137.56 665.65 138.8 664.5 C140.04 663.35 141.97 660.46 142.3 658.8 C142.63 657.14 142.35 651.94 141.6 650.3 C140.85 648.65 137.56 645.53 135.9 644.7 C134.24 643.87 129.38 643.05 127.4 643.2 C125.42 643.35 120.3 645.01 118.9 646 C117.5 646.99 116.09 650.21 115.4 651.7 C114.71 653.19 113.86 657.48 113 658.8 C112.14 660.12 109.13 662.42 108 663 C106.87 663.58 104.26 664.29 103.3 663.8 C102.34 663.31 100.29 660.38 99.8 658.8 C99.31 657.22 99.26 652.28 99.1 650.3 C98.94 648.32 98.74 643.28 98.4 641.8 C98.06 640.32 97.18 637.58 96.2 637.6Z" fill="#7d93ba" stroke="#6f87b2" stroke-width="1.4" filter="url(#soft)"/>
<g clip-path="url(#cb1)">
<path d="M96.2 637.6 C95.22 637.62 91.36 640.9 90 642 C88.64 643.1 85.72 645.72 84.5 647 C83.28 648.28 80.33 651.48 79.5 653 C78.67 654.52 77.68 658.17 77.4 660 C77.12 661.83 76.89 665.7 77.1 668.7 C77.31 671.7 78.78 681.9 79.2 685.7 C79.62 689.5 80.78 697.9 80.7 701.3 C80.62 704.69 76.72 713.18 78.5 714.8 C80.28 716.42 91.78 715.2 96 715.2 C100.22 715.2 112.19 715.76 114.7 714.8 C117.21 713.84 116.34 708.58 117.5 707 C118.66 705.42 123.12 702.96 124.6 701.3 C126.08 699.64 129.71 694.28 130.2 692.8 C130.69 691.32 129.71 689.25 128.8 688.6 C127.89 687.95 123.23 688.03 122.4 687.2 C121.57 686.37 121.28 683.16 121.7 681.5 C122.12 679.84 124.83 674.49 126 673 C127.17 671.51 130.21 669.69 131.7 668.7 C133.19 667.71 137.56 665.65 138.8 664.5 C140.04 663.35 141.97 660.46 142.3 658.8 C142.63 657.14 142.35 651.94 141.6 650.3 C140.85 648.65 137.56 645.53 135.9 644.7 C134.24 643.87 129.38 643.05 127.4 643.2 C125.42 643.35 120.3 645.01 118.9 646 C117.5 646.99 116.09 650.21 115.4 651.7 C114.71 653.19 113.86 657.48 113 658.8 C112.14 660.12 109.13 662.42 108 663 C106.87 663.58 104.26 664.29 103.3 663.8 C102.34 663.31 100.29 660.38 99.8 658.8 C99.31 657.22 99.26 652.28 99.1 650.3 C98.94 648.32 98.74 643.28 98.4 641.8 C98.06 640.32 97.18 637.58 96.2 637.6Z" fill="url(#bonegrad)" stroke="#a9b9d2" stroke-width="2.4"/>
<ellipse cx="108" cy="700" rx="6" ry="6" fill="#8ea4c6" opacity="0.7" filter="url(#soft)"/>
<ellipse cx="96" cy="672" rx="5" ry="4" fill="#8ea4c6" opacity="0.7" filter="url(#soft)"/>
<g filter="url(#mottle)">
<ellipse cx="90" cy="655" rx="12.5" ry="16.25" transform="rotate(15 90 655)" fill="url(#rgc0191d)"/>
<ellipse cx="100" cy="688" rx="20" ry="23.75" transform="rotate(10 100 688)" fill="url(#rgc0191d)"/>
<ellipse cx="98" cy="690" rx="12.5" ry="15" transform="rotate(0 98 690)" fill="url(#rga01014)"/>
<ellipse cx="129" cy="659" rx="15" ry="8.75" transform="rotate(-20 129 659)" fill="url(#rgc0191d)"/>
<ellipse cx="108" cy="668" rx="11.25" ry="6.25" transform="rotate(-15 108 668)" fill="url(#rgc0191d)"/>
</g>
</g>
<rect x="159.25" y="622.5" width="97" height="110.5" fill="#093d8c"/>
<g transform="translate(186.25,616.6)">
<text x="0" y="0" font-size="8.4" textLength="16.66" lengthAdjust="spacingAndGlyphs">PBS</text>
<path d="M17.24 -3.02H22.83M21.33 -4.72L23.03 -3.02L21.33 -1.32" stroke="#231f20" stroke-width="0.65" fill="none"/>
<text x="23.81" y="0" font-size="8.4" textLength="19.44" lengthAdjust="spacingAndGlyphs">Aged</text>
</g>
<clipPath id="cb2"><path d="M205.7 639.7 C204.85 639.55 198.95 640 197 640.5 C195.05 641 190.54 643.01 189 644 C187.46 644.99 184.57 647.27 183.8 649 C183.03 650.73 182.4 655.67 182.4 658.8 C182.4 661.93 183.8 671.83 183.8 675.8 C183.8 679.77 182.98 688.67 182.4 692.8 C181.82 696.93 177.91 708.89 178.8 711.2 C179.69 713.51 187.35 712.43 190 712.6 C192.65 712.77 198.18 713.03 201.5 712.7 C204.82 712.37 215.69 710.63 218.5 709.8 C221.31 708.97 223.91 706.74 225.6 705.6 C227.29 704.46 231.52 701.15 233 700 C234.48 698.85 237.44 697.19 238.3 695.7 C239.16 694.21 240.65 689.1 240.4 687.2 C240.16 685.3 237.44 680.39 236.2 679.4 C234.96 678.41 230.71 679.12 229.8 678.7 C228.89 678.28 228.24 676.97 228.4 675.8 C228.56 674.63 230.04 670.02 231.2 668.7 C232.35 667.38 236.81 665.82 238.3 664.5 C239.79 663.18 243.34 659.38 244 657.4 C244.66 655.42 244.5 649.24 244 647.5 C243.5 645.76 241.02 643.33 239.7 642.5 C238.38 641.67 234.51 640.48 232.7 640.4 C230.89 640.32 225.69 640.97 224.2 641.8 C222.71 642.63 220.73 646.01 219.9 647.5 C219.07 648.99 218.09 653.36 217.1 654.6 C216.11 655.84 212.69 657.94 211.4 658.1 C210.11 658.26 206.91 657.07 206 656 C205.09 654.93 203.8 650.56 203.6 648.9 C203.4 647.24 204.06 642.87 204.3 641.8 C204.55 640.73 206.55 639.85 205.7 639.7Z"/></clipPath>
<path d="M205.7 639.7 C204.85 639.55 198.95 640 197 640.5 C195.05 641 190.54 643.01 189 644 C187.46 644.99 184.57 647.27 183.8 649 C183.03 650.73 182.4 655.67 182.4 658.8 C182.4 661.93 183.8 671.83 183.8 675.8 C183.8 679.77 182.98 688.67 182.4 692.8 C181.82 696.93 177.91 708.89 178.8 711.2 C179.69 713.51 187.35 712.43 190 712.6 C192.65 712.77 198.18 713.03 201.5 712.7 C204.82 712.37 215.69 710.63 218.5 709.8 C221.31 708.97 223.91 706.74 225.6 705.6 C227.29 704.46 231.52 701.15 233 700 C234.48 698.85 237.44 697.19 238.3 695.7 C239.16 694.21 240.65 689.1 240.4 687.2 C240.16 685.3 237.44 680.39 236.2 679.4 C234.96 678.41 230.71 679.12 229.8 678.7 C228.89 678.28 228.24 676.97 228.4 675.8 C228.56 674.63 230.04 670.02 231.2 668.7 C232.35 667.38 236.81 665.82 238.3 664.5 C239.79 663.18 243.34 659.38 244 657.4 C244.66 655.42 244.5 649.24 244 647.5 C243.5 645.76 241.02 643.33 239.7 642.5 C238.38 641.67 234.51 640.48 232.7 640.4 C230.89 640.32 225.69 640.97 224.2 641.8 C222.71 642.63 220.73 646.01 219.9 647.5 C219.07 648.99 218.09 653.36 217.1 654.6 C216.11 655.84 212.69 657.94 211.4 658.1 C210.11 658.26 206.91 657.07 206 656 C205.09 654.93 203.8 650.56 203.6 648.9 C203.4 647.24 204.06 642.87 204.3 641.8 C204.55 640.73 206.55 639.85 205.7 639.7Z" fill="#7d93ba" stroke="#6f87b2" stroke-width="1.4" filter="url(#soft)"/>
<g clip-path="url(#cb2)">
<path d="M205.7 639.7 C204.85 639.55 198.95 640 197 640.5 C195.05 641 190.54 643.01 189 644 C187.46 644.99 184.57 647.27 183.8 649 C183.03 650.73 182.4 655.67 182.4 658.8 C182.4 661.93 183.8 671.83 183.8 675.8 C183.8 679.77 182.98 688.67 182.4 692.8 C181.82 696.93 177.91 708.89 178.8 711.2 C179.69 713.51 187.35 712.43 190 712.6 C192.65 712.77 198.18 713.03 201.5 712.7 C204.82 712.37 215.69 710.63 218.5 709.8 C221.31 708.97 223.91 706.74 225.6 705.6 C227.29 704.46 231.52 701.15 233 700 C234.48 698.85 237.44 697.19 238.3 695.7 C239.16 694.21 240.65 689.1 240.4 687.2 C240.16 685.3 237.44 680.39 236.2 679.4 C234.96 678.41 230.71 679.12 229.8 678.7 C228.89 678.28 228.24 676.97 228.4 675.8 C228.56 674.63 230.04 670.02 231.2 668.7 C232.35 667.38 236.81 665.82 238.3 664.5 C239.79 663.18 243.34 659.38 244 657.4 C244.66 655.42 244.5 649.24 244 647.5 C243.5 645.76 241.02 643.33 239.7 642.5 C238.38 641.67 234.51 640.48 232.7 640.4 C230.89 640.32 225.69 640.97 224.2 641.8 C222.71 642.63 220.73 646.01 219.9 647.5 C219.07 648.99 218.09 653.36 217.1 654.6 C216.11 655.84 212.69 657.94 211.4 658.1 C210.11 658.26 206.91 657.07 206 656 C205.09 654.93 203.8 650.56 203.6 648.9 C203.4 647.24 204.06 642.87 204.3 641.8 C204.55 640.73 206.55 639.85 205.7 639.7Z" fill="url(#bonegrad)" stroke="#a9b9d2" stroke-width="2.4"/>
<ellipse cx="193" cy="656" rx="6" ry="8" fill="#8ea4c6" opacity="0.7" filter="url(#soft)"/>
<ellipse cx="212" cy="672" rx="8" ry="6" fill="#8ea4c6" opacity="0.7" filter="url(#soft)"/>
<g filter="url(#mottle)">
<ellipse cx="195" cy="655" rx="11.25" ry="15" transform="rotate(10 195 655)" fill="url(#rgc0191d)"/>
<ellipse cx="232" cy="653" rx="14.38" ry="12.5" transform="rotate(0 232 653)" fill="url(#rgc0191d)"/>
<ellipse cx="232" cy="653" rx="11.25" ry="10" transform="rotate(0 232 653)" fill="url(#rgb01217)"/>
<ellipse cx="207" cy="692" rx="18.75" ry="17.5" transform="rotate(10 207 692)" fill="url(#rgc0191d)"/>
<ellipse cx="207" cy="692" rx="12.5" ry="12.5" transform="rotate(0 207 692)" fill="url(#rga01014)"/>
<ellipse cx="204" cy="671" rx="10" ry="5" transform="rotate(0 204 671)" fill="url(#rgc0191d)"/>
</g>
</g>
<rect x="260" y="622.5" width="97" height="110.5" fill="#093d8c"/>
<g transform="translate(273.75,616.6)">
<text x="0" y="0" font-size="8.4" textLength="42.11" lengthAdjust="spacingAndGlyphs">Young sEV</text>
<path d="M42.71 -3.02H48.48M46.98 -4.72L48.68 -3.02L46.98 -1.32" stroke="#231f20" stroke-width="0.65" fill="none"/>
<text x="49.48" y="0" font-size="8.4" textLength="20.02" lengthAdjust="spacingAndGlyphs">Aged</text>
</g>
<clipPath id="cb3"><path d="M306 636.2 C305.01 635.13 299.83 637.51 298.2 638.3 C296.57 639.09 293.15 641.93 292 643 C290.85 644.07 289.22 645.82 288.3 647.5 C287.38 649.18 284.51 654.59 284.1 657.4 C283.69 660.21 284.64 668.3 284.8 671.6 C284.96 674.9 285.66 681.41 285.5 685.7 C285.34 689.99 281.92 705.51 283.4 708.4 C284.88 711.29 294.49 710.5 298.2 710.5 C301.91 710.5 312.88 709.47 315.2 708.4 C317.52 707.33 317.84 703.12 318.1 701.3 C318.36 699.48 316.91 694.28 317.4 692.8 C317.89 691.32 320.9 689.25 322.3 688.6 C323.7 687.95 328.49 687.87 329.4 687.2 C330.31 686.54 330.43 683.89 330.1 682.9 C329.77 681.91 327.51 679.53 326.6 678.7 C325.69 677.87 322.56 676.97 322.3 675.8 C322.04 674.63 323.41 669.94 324.4 668.7 C325.39 667.46 329.06 666.02 330.8 665.2 C332.54 664.38 337.89 662.77 339.3 661.7 C340.71 660.63 342.56 657.58 342.9 656 C343.24 654.42 342.87 649.78 342.2 648.2 C341.53 646.62 338.69 643.33 337.2 642.5 C335.71 641.67 331.14 640.84 329.4 641.1 C327.66 641.36 323.86 643.46 322.3 644.7 C320.74 645.94 317.16 650.38 316 651.7 C314.84 653.02 313.23 655.74 312.4 656 C311.57 656.26 309.56 654.89 308.9 653.9 C308.23 652.91 307.04 649.56 306.7 647.5 C306.36 645.44 306.99 637.27 306 636.2Z"/></clipPath>
<path d="M306 636.2 C305.01 635.13 299.83 637.51 298.2 638.3 C296.57 639.09 293.15 641.93 292 643 C290.85 644.07 289.22 645.82 288.3 647.5 C287.38 649.18 284.51 654.59 284.1 657.4 C283.69 660.21 284.64 668.3 284.8 671.6 C284.96 674.9 285.66 681.41 285.5 685.7 C285.34 689.99 281.92 705.51 283.4 708.4 C284.88 711.29 294.49 710.5 298.2 710.5 C301.91 710.5 312.88 709.47 315.2 708.4 C317.52 707.33 317.84 703.12 318.1 701.3 C318.36 699.48 316.91 694.28 317.4 692.8 C317.89 691.32 320.9 689.25 322.3 688.6 C323.7 687.95 328.49 687.87 329.4 687.2 C330.31 686.54 330.43 683.89 330.1 682.9 C329.77 681.91 327.51 679.53 326.6 678.7 C325.69 677.87 322.56 676.97 322.3 675.8 C322.04 674.63 323.41 669.94 324.4 668.7 C325.39 667.46 329.06 666.02 330.8 665.2 C332.54 664.38 337.89 662.77 339.3 661.7 C340.71 660.63 342.56 657.58 342.9 656 C343.24 654.42 342.87 649.78 342.2 648.2 C341.53 646.62 338.69 643.33 337.2 642.5 C335.71 641.67 331.14 640.84 329.4 641.1 C327.66 641.36 323.86 643.46 322.3 644.7 C320.74 645.94 317.16 650.38 316 651.7 C314.84 653.02 313.23 655.74 312.4 656 C311.57 656.26 309.56 654.89 308.9 653.9 C308.23 652.91 307.04 649.56 306.7 647.5 C306.36 645.44 306.99 637.27 306 636.2Z" fill="#7d93ba" stroke="#6f87b2" stroke-width="1.4" filter="url(#soft)"/>
<g clip-path="url(#cb3)">
<path d="M306 636.2 C305.01 635.13 299.83 637.51 298.2 638.3 C296.57 639.09 293.15 641.93 292 643 C290.85 644.07 289.22 645.82 288.3 647.5 C287.38 649.18 284.51 654.59 284.1 657.4 C283.69 660.21 284.64 668.3 284.8 671.6 C284.96 674.9 285.66 681.41 285.5 685.7 C285.34 689.99 281.92 705.51 283.4 708.4 C284.88 711.29 294.49 710.5 298.2 710.5 C301.91 710.5 312.88 709.47 315.2 708.4 C317.52 707.33 317.84 703.12 318.1 701.3 C318.36 699.48 316.91 694.28 317.4 692.8 C317.89 691.32 320.9 689.25 322.3 688.6 C323.7 687.95 328.49 687.87 329.4 687.2 C330.31 686.54 330.43 683.89 330.1 682.9 C329.77 681.91 327.51 679.53 326.6 678.7 C325.69 677.87 322.56 676.97 322.3 675.8 C322.04 674.63 323.41 669.94 324.4 668.7 C325.39 667.46 329.06 666.02 330.8 665.2 C332.54 664.38 337.89 662.77 339.3 661.7 C340.71 660.63 342.56 657.58 342.9 656 C343.24 654.42 342.87 649.78 342.2 648.2 C341.53 646.62 338.69 643.33 337.2 642.5 C335.71 641.67 331.14 640.84 329.4 641.1 C327.66 641.36 323.86 643.46 322.3 644.7 C320.74 645.94 317.16 650.38 316 651.7 C314.84 653.02 313.23 655.74 312.4 656 C311.57 656.26 309.56 654.89 308.9 653.9 C308.23 652.91 307.04 649.56 306.7 647.5 C306.36 645.44 306.99 637.27 306 636.2Z" fill="url(#bonegrad)" stroke="#a9b9d2" stroke-width="2.4"/>
<ellipse cx="312" cy="662" rx="5" ry="4" fill="#8ea4c6" opacity="0.7" filter="url(#soft)"/>
<g filter="url(#mottle)">
<ellipse cx="294" cy="652" rx="10" ry="15" transform="rotate(20 294 652)" fill="url(#rgc0191d)"/>
<ellipse cx="294" cy="652" rx="7.5" ry="11.25" transform="rotate(20 294 652)" fill="url(#rga81216)"/>
<ellipse cx="331" cy="654" rx="15" ry="12.5" transform="rotate(0 331 654)" fill="url(#rgc0191d)"/>
<ellipse cx="331" cy="654" rx="11.25" ry="8.75" transform="rotate(0 331 654)" fill="url(#rgb01217)"/>
<ellipse cx="304" cy="686" rx="20" ry="22.5" transform="rotate(10 304 686)" fill="url(#rgc0191d)"/>
<ellipse cx="304" cy="686" rx="15" ry="17.5" transform="rotate(10 304 686)" fill="url(#rga81216)"/>
<ellipse cx="303" cy="669" rx="13.75" ry="7.5" transform="rotate(0 303 669)" fill="url(#rgc0191d)"/>
</g>
</g>
<text x="18.5" y="754.5" font-size="12" font-weight="bold" fill="#000">n</text>
<line x1="60" y1="758.95" x2="60" y2="836.55" stroke="#7a7a7a" stroke-width="0.7"/>
<line x1="56.8" y1="836.25" x2="60" y2="836.25" stroke="#7a7a7a" stroke-width="0.7"/>
<text x="52.8" y="839" font-size="7" text-anchor="end">0</text>
<line x1="56.8" y1="820.85" x2="60" y2="820.85" stroke="#7a7a7a" stroke-width="0.7"/>
<text x="52.8" y="823.6" font-size="7" text-anchor="end">0.1</text>
<line x1="56.8" y1="805.45" x2="60" y2="805.45" stroke="#7a7a7a" stroke-width="0.7"/>
<text x="52.8" y="808.2" font-size="7" text-anchor="end">0.2</text>
<line x1="56.8" y1="790.05" x2="60" y2="790.05" stroke="#7a7a7a" stroke-width="0.7"/>
<text x="52.8" y="792.8" font-size="7" text-anchor="end">0.3</text>
<line x1="56.8" y1="774.65" x2="60" y2="774.65" stroke="#7a7a7a" stroke-width="0.7"/>
<text x="52.8" y="777.4" font-size="7" text-anchor="end">0.4</text>
<line x1="56.8" y1="759.25" x2="60" y2="759.25" stroke="#7a7a7a" stroke-width="0.7"/>
<text x="52.8" y="762" font-size="7" text-anchor="end">0.5</text>
<rect x="66.25" y="778.5" width="11.75" height="57.75" fill="#5050f4" stroke="#3a3a3a" stroke-width="0.55"/>
<circle cx="72.12" cy="765.41" r="1.2" fill="#111"/>
<circle cx="69.62" cy="771.57" r="1.2" fill="#111"/>
<circle cx="74.62" cy="774.65" r="1.2" fill="#111"/>
<circle cx="69.12" cy="776.19" r="1.2" fill="#111"/>
<circle cx="75.12" cy="779.27" r="1.2" fill="#111"/>
<circle cx="72.12" cy="782.35" r="1.2" fill="#111"/>
<circle cx="70.12" cy="785.43" r="1.2" fill="#111"/>
<circle cx="73.12" cy="791.59" r="1.2" fill="#111"/>
<line x1="72.12" y1="775.42" x2="72.12" y2="781.58" stroke="#111" stroke-width="0.6"/>
<line x1="69.53" y1="775.42" x2="74.72" y2="775.42" stroke="#111" stroke-width="0.6"/>
<line x1="69.53" y1="781.58" x2="74.72" y2="781.58" stroke="#111" stroke-width="0.6"/>
<rect x="80" y="805.45" width="11.75" height="30.8" fill="#ffffff" stroke="#3a3a3a" stroke-width="0.55"/>
<circle cx="85.88" cy="785.43" r="1.2" fill="#111"/>
<circle cx="83.38" cy="793.13" r="1.2" fill="#111"/>
<circle cx="88.38" cy="799.29" r="1.2" fill="#111"/>
<circle cx="82.88" cy="802.37" r="1.2" fill="#111"/>
<circle cx="88.88" cy="810.07" r="1.2" fill="#111"/>
<circle cx="85.88" cy="814.69" r="1.2" fill="#111"/>
<circle cx="83.88" cy="817.77" r="1.2" fill="#111"/>
<circle cx="86.88" cy="823.93" r="1.2" fill="#111"/>
<line x1="85.88" y1="800.06" x2="85.88" y2="810.84" stroke="#111" stroke-width="0.6"/>
<line x1="83.28" y1="800.06" x2="88.47" y2="800.06" stroke="#111" stroke-width="0.6"/>
<line x1="83.28" y1="810.84" x2="88.47" y2="810.84" stroke="#111" stroke-width="0.6"/>
<rect x="93" y="788.51" width="12" height="47.74" fill="#f03e3f" stroke="#3a3a3a" stroke-width="0.55"/>
<circle cx="99" cy="776.96" r="1.2" fill="#111"/>
<circle cx="96.5" cy="780.81" r="1.2" fill="#111"/>
<circle cx="101.5" cy="781.58" r="1.2" fill="#111"/>
<circle cx="96" cy="783.89" r="1.2" fill="#111"/>
<circle cx="102" cy="790.05" r="1.2" fill="#111"/>
<circle cx="99" cy="796.21" r="1.2" fill="#111"/>
<circle cx="97" cy="802.37" r="1.2" fill="#111"/>
<circle cx="100" cy="805.45" r="1.2" fill="#111"/>
<line x1="99" y1="785.43" x2="99" y2="791.59" stroke="#111" stroke-width="0.6"/>
<line x1="96.4" y1="785.43" x2="101.6" y2="785.43" stroke="#111" stroke-width="0.6"/>
<line x1="96.4" y1="791.59" x2="101.6" y2="791.59" stroke="#111" stroke-width="0.6"/>
<line x1="59.7" y1="836.25" x2="111.25" y2="836.25" stroke="#7a7a7a" stroke-width="0.7"/>
<line x1="72.5" y1="836.25" x2="72.5" y2="839.75" stroke="#7a7a7a" stroke-width="0.7"/>
<line x1="85.75" y1="836.25" x2="85.75" y2="839.75" stroke="#7a7a7a" stroke-width="0.7"/>
<line x1="99.25" y1="836.25" x2="99.25" y2="839.75" stroke="#7a7a7a" stroke-width="0.7"/>
<path d="M72.5 762.45V758.25H85.75V762.45" fill="none" stroke="#6d6e71" stroke-width="0.65"/>
<use href="#st" transform="translate(74.53,754.15) scale(2.35)"/>
<use href="#st" transform="translate(79.12,754.15) scale(2.35)"/>
<use href="#st" transform="translate(83.73,754.15) scale(2.35)"/>
<path d="M85.75 771.7V767.5H99.25V771.7" fill="none" stroke="#6d6e71" stroke-width="0.65"/>
<use href="#st" transform="translate(92.5,763.4) scale(2.35)"/>
<text transform="translate(35.13,798) rotate(-90)" font-size="7.3" text-anchor="middle" textLength="18.75" lengthAdjust="spacingAndGlyphs">BV/TV</text>
<text x="119.3" y="754.5" font-size="12" font-weight="bold" fill="#000">o</text>
<line x1="145.5" y1="758.95" x2="145.5" y2="836.55" stroke="#7a7a7a" stroke-width="0.7"/>
<line x1="142.3" y1="836.25" x2="145.5" y2="836.25" stroke="#7a7a7a" stroke-width="0.7"/>
<text x="138.5" y="839" font-size="7" text-anchor="end">0</text>
<line x1="142.3" y1="820.85" x2="145.5" y2="820.85" stroke="#7a7a7a" stroke-width="0.7"/>
<text x="138.5" y="823.6" font-size="7" text-anchor="end">1</text>
<line x1="142.3" y1="805.45" x2="145.5" y2="805.45" stroke="#7a7a7a" stroke-width="0.7"/>
<text x="138.5" y="808.2" font-size="7" text-anchor="end">2</text>
<line x1="142.3" y1="790.05" x2="145.5" y2="790.05" stroke="#7a7a7a" stroke-width="0.7"/>
<text x="138.5" y="792.8" font-size="7" text-anchor="end">3</text>
<line x1="142.3" y1="774.65" x2="145.5" y2="774.65" stroke="#7a7a7a" stroke-width="0.7"/>
<text x="138.5" y="777.4" font-size="7" text-anchor="end">4</text>
<line x1="142.3" y1="759.25" x2="145.5" y2="759.25" stroke="#7a7a7a" stroke-width="0.7"/>
<text x="138.5" y="762" font-size="7" text-anchor="end">5</text>
<rect x="152" y="800.06" width="11.75" height="36.19" fill="#5050f4" stroke="#3a3a3a" stroke-width="0.55"/>
<circle cx="157.88" cy="790.82" r="1.2" fill="#111"/>
<circle cx="155.38" cy="794.67" r="1.2" fill="#111"/>
<circle cx="160.38" cy="796.21" r="1.2" fill="#111"/>
<circle cx="154.88" cy="799.29" r="1.2" fill="#111"/>
<circle cx="160.88" cy="800.83" r="1.2" fill="#111"/>
<circle cx="157.88" cy="802.37" r="1.2" fill="#111"/>
<circle cx="155.88" cy="805.45" r="1.2" fill="#111"/>
<circle cx="158.88" cy="806.99" r="1.2" fill="#111"/>
<line x1="157.88" y1="798.21" x2="157.88" y2="801.91" stroke="#111" stroke-width="0.6"/>
<line x1="155.28" y1="798.21" x2="160.47" y2="798.21" stroke="#111" stroke-width="0.6"/>
<line x1="155.28" y1="801.91" x2="160.47" y2="801.91" stroke="#111" stroke-width="0.6"/>
<rect x="165.5" y="808.07" width="11.5" height="28.18" fill="#ffffff" stroke="#3a3a3a" stroke-width="0.55"/>
<circle cx="171.25" cy="799.29" r="1.2" fill="#111"/>
<circle cx="168.75" cy="805.45" r="1.2" fill="#111"/>
<circle cx="173.75" cy="806.99" r="1.2" fill="#111"/>
<circle cx="168.25" cy="807.76" r="1.2" fill="#111"/>
<circle cx="174.25" cy="808.53" r="1.2" fill="#111"/>
<circle cx="171.25" cy="810.07" r="1.2" fill="#111"/>
<circle cx="169.25" cy="813.15" r="1.2" fill="#111"/>
<circle cx="172.25" cy="817.77" r="1.2" fill="#111"/>
<line x1="171.25" y1="806.53" x2="171.25" y2="809.61" stroke="#111" stroke-width="0.6"/>
<line x1="168.65" y1="806.53" x2="173.85" y2="806.53" stroke="#111" stroke-width="0.6"/>
<line x1="168.65" y1="809.61" x2="173.85" y2="809.61" stroke="#111" stroke-width="0.6"/>
<rect x="178.75" y="795.9" width="11.75" height="40.35" fill="#f03e3f" stroke="#3a3a3a" stroke-width="0.55"/>
<circle cx="184.62" cy="773.88" r="1.2" fill="#111"/>
<circle cx="182.12" cy="790.05" r="1.2" fill="#111"/>
<circle cx="187.12" cy="791.59" r="1.2" fill="#111"/>
<circle cx="181.62" cy="796.21" r="1.2" fill="#111"/>
<circle cx="187.62" cy="797.75" r="1.2" fill="#111"/>
<circle cx="184.62" cy="802.37" r="1.2" fill="#111"/>
<circle cx="182.62" cy="805.45" r="1.2" fill="#111"/>
<circle cx="185.62" cy="808.53" r="1.2" fill="#111"/>
<line x1="184.62" y1="791.59" x2="184.62" y2="800.21" stroke="#111" stroke-width="0.6"/>
<line x1="182.03" y1="791.59" x2="187.22" y2="791.59" stroke="#111" stroke-width="0.6"/>
<line x1="182.03" y1="800.21" x2="187.22" y2="800.21" stroke="#111" stroke-width="0.6"/>
<line x1="145.2" y1="836.25" x2="197" y2="836.25" stroke="#7a7a7a" stroke-width="0.7"/>
<line x1="158" y1="836.25" x2="158" y2="839.75" stroke="#7a7a7a" stroke-width="0.7"/>
<line x1="171.25" y1="836.25" x2="171.25" y2="839.75" stroke="#7a7a7a" stroke-width="0.7"/>
<line x1="184.5" y1="836.25" x2="184.5" y2="839.75" stroke="#7a7a7a" stroke-width="0.7"/>
<path d="M158 781.7V777.5H171.25V781.7" fill="none" stroke="#6d6e71" stroke-width="0.65"/>
<text x="164.62" y="774.3" font-size="6.1" text-anchor="middle"><tspan font-style="italic">P</tspan> = 0.145</text>
<path d="M171.25 769.7V765.5H184.5V769.7" fill="none" stroke="#6d6e71" stroke-width="0.65"/>
<use href="#st" transform="translate(177.88,761.4) scale(2.35)"/>
<text transform="translate(127.13,797.5) rotate(-90)" font-size="7.3" text-anchor="middle" textLength="42.5" lengthAdjust="spacingAndGlyphs">Tb. N (1/mm)</text>
<text x="205.5" y="755" font-size="12" font-weight="bold" fill="#000">q</text>
<line x1="231.25" y1="758.95" x2="231.25" y2="836.55" stroke="#7a7a7a" stroke-width="0.7"/>
<line x1="228.05" y1="836.25" x2="231.25" y2="836.25" stroke="#7a7a7a" stroke-width="0.7"/>
<text x="227.3" y="839" font-size="7" text-anchor="end">3</text>
<line x1="228.05" y1="810.58" x2="231.25" y2="810.58" stroke="#7a7a7a" stroke-width="0.7"/>
<text x="227.3" y="813.33" font-size="7" text-anchor="end">4</text>
<line x1="228.05" y1="784.92" x2="231.25" y2="784.92" stroke="#7a7a7a" stroke-width="0.7"/>
<text x="227.3" y="787.67" font-size="7" text-anchor="end">5</text>
<line x1="228.05" y1="759.25" x2="231.25" y2="759.25" stroke="#7a7a7a" stroke-width="0.7"/>
<text x="227.3" y="762" font-size="7" text-anchor="end">6</text>
<rect x="237" y="789.28" width="11.75" height="46.97" fill="#5050f4" stroke="#3a3a3a" stroke-width="0.55"/>
<circle cx="242.88" cy="764.38" r="1.2" fill="#111"/>
<circle cx="240.38" cy="779.78" r="1.2" fill="#111"/>
<circle cx="245.38" cy="787.48" r="1.2" fill="#111"/>
<circle cx="239.88" cy="790.05" r="1.2" fill="#111"/>
<circle cx="245.88" cy="792.62" r="1.2" fill="#111"/>
<circle cx="242.88" cy="795.18" r="1.2" fill="#111"/>
<circle cx="240.88" cy="800.32" r="1.2" fill="#111"/>
<circle cx="243.88" cy="811.87" r="1.2" fill="#111"/>
<line x1="242.88" y1="784.15" x2="242.88" y2="794.41" stroke="#111" stroke-width="0.6"/>
<line x1="240.28" y1="784.15" x2="245.47" y2="784.15" stroke="#111" stroke-width="0.6"/>
<line x1="240.28" y1="794.41" x2="245.47" y2="794.41" stroke="#111" stroke-width="0.6"/>
<rect x="250.5" y="813.92" width="11.5" height="22.33" fill="#ffffff" stroke="#3a3a3a" stroke-width="0.55"/>
<circle cx="256.25" cy="801.6" r="1.2" fill="#111"/>
<circle cx="253.75" cy="804.17" r="1.2" fill="#111"/>
<circle cx="258.75" cy="810.58" r="1.2" fill="#111"/>
<circle cx="253.25" cy="813.15" r="1.2" fill="#111"/>
<circle cx="259.25" cy="818.28" r="1.2" fill="#111"/>
<circle cx="256.25" cy="823.42" r="1.2" fill="#111"/>
<circle cx="254.25" cy="825.98" r="1.2" fill="#111"/>
<circle cx="257.25" cy="829.83" r="1.2" fill="#111"/>
<line x1="256.25" y1="810.07" x2="256.25" y2="817.77" stroke="#111" stroke-width="0.6"/>
<line x1="253.65" y1="810.07" x2="258.85" y2="810.07" stroke="#111" stroke-width="0.6"/>
<line x1="253.65" y1="817.77" x2="258.85" y2="817.77" stroke="#111" stroke-width="0.6"/>
<rect x="263.75" y="794.41" width="11.75" height="41.84" fill="#f03e3f" stroke="#3a3a3a" stroke-width="0.55"/>
<circle cx="269.62" cy="781.07" r="1.2" fill="#111"/>
<circle cx="267.12" cy="782.35" r="1.2" fill="#111"/>
<circle cx="272.12" cy="784.92" r="1.2" fill="#111"/>
<circle cx="266.62" cy="792.62" r="1.2" fill="#111"/>
<circle cx="272.62" cy="797.75" r="1.2" fill="#111"/>
<circle cx="269.62" cy="799.03" r="1.2" fill="#111"/>
<circle cx="267.62" cy="800.32" r="1.2" fill="#111"/>
<circle cx="270.62" cy="802.88" r="1.2" fill="#111"/>
<line x1="269.62" y1="790.56" x2="269.62" y2="798.26" stroke="#111" stroke-width="0.6"/>
<line x1="267.02" y1="790.56" x2="272.23" y2="790.56" stroke="#111" stroke-width="0.6"/>
<line x1="267.02" y1="798.26" x2="272.23" y2="798.26" stroke="#111" stroke-width="0.6"/>
<line x1="230.95" y1="836.25" x2="276.25" y2="836.25" stroke="#7a7a7a" stroke-width="0.7"/>
<line x1="242.9" y1="836.25" x2="242.9" y2="839.75" stroke="#7a7a7a" stroke-width="0.7"/>
<line x1="256.25" y1="836.25" x2="256.25" y2="839.75" stroke="#7a7a7a" stroke-width="0.7"/>
<line x1="269.6" y1="836.25" x2="269.6" y2="839.75" stroke="#7a7a7a" stroke-width="0.7"/>
<path d="M243.75 762.45V758.25H256.25V762.45" fill="none" stroke="#6d6e71" stroke-width="0.65"/>
<use href="#st" transform="translate(245.4,754.15) scale(2.35)"/>
<use href="#st" transform="translate(250,754.15) scale(2.35)"/>
<use href="#st" transform="translate(254.6,754.15) scale(2.35)"/>
<path d="M256.25 768.7V764.5H269.5V768.7" fill="none" stroke="#6d6e71" stroke-width="0.65"/>
<use href="#st" transform="translate(260.57,760.4) scale(2.35)"/>
<use href="#st" transform="translate(265.18,760.4) scale(2.35)"/>
<text transform="translate(210.88,800.6) rotate(-90)" font-size="7.3" text-anchor="middle" textLength="66.25" lengthAdjust="spacingAndGlyphs">Hip/whole brain (%)</text>
<text x="290.2" y="753.75" font-size="12" font-weight="bold" fill="#000">r</text>
<line x1="319.5" y1="758.95" x2="319.5" y2="837.3" stroke="#7a7a7a" stroke-width="0.7"/>
<line x1="316.3" y1="837" x2="319.5" y2="837" stroke="#7a7a7a" stroke-width="0.7"/>
<text x="314.8" y="839.75" font-size="7" text-anchor="end">12</text>
<line x1="316.3" y1="824.04" x2="319.5" y2="824.04" stroke="#7a7a7a" stroke-width="0.7"/>
<text x="314.8" y="826.79" font-size="7" text-anchor="end">13</text>
<line x1="316.3" y1="811.08" x2="319.5" y2="811.08" stroke="#7a7a7a" stroke-width="0.7"/>
<text x="314.8" y="813.83" font-size="7" text-anchor="end">14</text>
<line x1="316.3" y1="798.12" x2="319.5" y2="798.12" stroke="#7a7a7a" stroke-width="0.7"/>
<text x="314.8" y="800.88" font-size="7" text-anchor="end">15</text>
<line x1="316.3" y1="785.17" x2="319.5" y2="785.17" stroke="#7a7a7a" stroke-width="0.7"/>
<text x="314.8" y="787.92" font-size="7" text-anchor="end">16</text>
<line x1="316.3" y1="772.21" x2="319.5" y2="772.21" stroke="#7a7a7a" stroke-width="0.7"/>
<text x="314.8" y="774.96" font-size="7" text-anchor="end">17</text>
<line x1="316.3" y1="759.25" x2="319.5" y2="759.25" stroke="#7a7a7a" stroke-width="0.7"/>
<text x="314.8" y="762" font-size="7" text-anchor="end">18</text>
<rect x="325" y="776.74" width="11.75" height="60.26" fill="#5050f4" stroke="#3a3a3a" stroke-width="0.55"/>
<circle cx="330.88" cy="769.62" r="1.2" fill="#111"/>
<circle cx="328.38" cy="772.21" r="1.2" fill="#111"/>
<circle cx="333.38" cy="774.8" r="1.2" fill="#111"/>
<circle cx="327.88" cy="776.1" r="1.2" fill="#111"/>
<circle cx="333.88" cy="777.39" r="1.2" fill="#111"/>
<circle cx="330.88" cy="778.69" r="1.2" fill="#111"/>
<circle cx="328.88" cy="779.98" r="1.2" fill="#111"/>
<circle cx="331.88" cy="782.58" r="1.2" fill="#111"/>
<line x1="330.88" y1="775.45" x2="330.88" y2="778.04" stroke="#111" stroke-width="0.6"/>
<line x1="328.27" y1="775.45" x2="333.48" y2="775.45" stroke="#111" stroke-width="0.6"/>
<line x1="328.27" y1="778.04" x2="333.48" y2="778.04" stroke="#111" stroke-width="0.6"/>
<rect x="338.5" y="811.08" width="12" height="25.92" fill="#ffffff" stroke="#3a3a3a" stroke-width="0.55"/>
<circle cx="344.5" cy="805.9" r="1.2" fill="#111"/>
<circle cx="342" cy="807.2" r="1.2" fill="#111"/>
<circle cx="347" cy="808.49" r="1.2" fill="#111"/>
<circle cx="341.5" cy="809.79" r="1.2" fill="#111"/>
<circle cx="347.5" cy="811.08" r="1.2" fill="#111"/>
<circle cx="344.5" cy="813.67" r="1.2" fill="#111"/>
<circle cx="342.5" cy="820.15" r="1.2" fill="#111"/>
<circle cx="345.5" cy="824.04" r="1.2" fill="#111"/>
<line x1="344.5" y1="809.14" x2="344.5" y2="813.03" stroke="#111" stroke-width="0.6"/>
<line x1="341.9" y1="809.14" x2="347.1" y2="809.14" stroke="#111" stroke-width="0.6"/>
<line x1="341.9" y1="813.03" x2="347.1" y2="813.03" stroke="#111" stroke-width="0.6"/>
<rect x="352" y="788.41" width="12.25" height="48.59" fill="#f03e3f" stroke="#3a3a3a" stroke-width="0.55"/>
<circle cx="358.12" cy="779.98" r="1.2" fill="#111"/>
<circle cx="355.62" cy="782.58" r="1.2" fill="#111"/>
<circle cx="360.62" cy="785.17" r="1.2" fill="#111"/>
<circle cx="355.12" cy="787.76" r="1.2" fill="#111"/>
<circle cx="361.12" cy="789.05" r="1.2" fill="#111"/>
<circle cx="358.12" cy="791.65" r="1.2" fill="#111"/>
<circle cx="356.12" cy="794.24" r="1.2" fill="#111"/>
<circle cx="359.12" cy="798.12" r="1.2" fill="#111"/>
<line x1="358.12" y1="786.46" x2="358.12" y2="790.35" stroke="#111" stroke-width="0.6"/>
<line x1="355.52" y1="786.46" x2="360.73" y2="786.46" stroke="#111" stroke-width="0.6"/>
<line x1="355.52" y1="790.35" x2="360.73" y2="790.35" stroke="#111" stroke-width="0.6"/>
<line x1="319.2" y1="837" x2="370.75" y2="837" stroke="#7a7a7a" stroke-width="0.7"/>
<line x1="330.9" y1="837" x2="330.9" y2="840.5" stroke="#7a7a7a" stroke-width="0.7"/>
<line x1="344.5" y1="837" x2="344.5" y2="840.5" stroke="#7a7a7a" stroke-width="0.7"/>
<line x1="358.1" y1="837" x2="358.1" y2="840.5" stroke="#7a7a7a" stroke-width="0.7"/>
<path d="M330.75 761.7V757.5H344.5V761.7" fill="none" stroke="#6d6e71" stroke-width="0.65"/>
<use href="#st" transform="translate(333.02,753.4) scale(2.35)"/>
<use href="#st" transform="translate(337.62,753.4) scale(2.35)"/>
<use href="#st" transform="translate(342.22,753.4) scale(2.35)"/>
<path d="M344.5 774.7V770.5H358.25V774.7" fill="none" stroke="#6d6e71" stroke-width="0.65"/>
<use href="#st" transform="translate(346.77,766.4) scale(2.35)"/>
<use href="#st" transform="translate(351.38,766.4) scale(2.35)"/>
<use href="#st" transform="translate(355.97,766.4) scale(2.35)"/>
<text transform="translate(295.88,797.5) rotate(-90)" font-size="7.3" text-anchor="middle" textLength="77.5" lengthAdjust="spacingAndGlyphs">Cortex/whole brain (%)</text>
<text x="391.6" y="618.6" font-size="12" font-weight="bold" fill="#000">p</text>
<rect x="391.25" y="628.25" width="216.25" height="208.75" fill="#000"/>
<rect x="419.25" y="665.5" width="47.75" height="46" fill="#111"/>
<rect x="419.25" y="665.5" width="47.75" height="46" fill="url(#spk)" opacity="0.1"/>
<ellipse cx="443.12" cy="687.12" rx="21.49" ry="19.32" fill="none" stroke="#303030" stroke-width="1.6"/>
<ellipse cx="443.12" cy="698.62" rx="15.76" ry="7.82" fill="#242424"/>
<ellipse cx="436.44" cy="695.86" rx="4.3" ry="3.22" fill="none" stroke="#3a3a3a" stroke-width="0.8"/>
<ellipse cx="449.81" cy="695.86" rx="4.3" ry="3.22" fill="none" stroke="#3a3a3a" stroke-width="0.8"/>
<clipPath id="br0"><path d="M443.12 668.26 C441.69 668.26 440.07 666.91 438.35 666.88 C436.63 666.85 433.42 667.2 431.67 668.03 C429.91 668.86 427.62 670.71 426.65 672.4 C425.68 674.09 425.22 677.37 425.22 679.3 C425.22 681.23 425.54 683.83 426.65 685.28 C427.76 686.73 430.15 688.48 432.62 688.96 C435.09 689.44 439.97 688.5 443.12 688.5 C446.28 688.5 451.16 689.44 453.63 688.96 C456.1 688.48 458.49 686.73 459.6 685.28 C460.71 683.83 461.03 681.23 461.03 679.3 C461.03 677.37 460.57 674.09 459.6 672.4 C458.63 670.71 456.34 668.86 454.58 668.03 C452.83 667.2 449.62 666.85 447.9 666.88 C446.18 666.91 444.56 668.26 443.12 668.26Z"/></clipPath>
<path d="M443.12 668.26 C441.69 668.26 440.07 666.91 438.35 666.88 C436.63 666.85 433.42 667.2 431.67 668.03 C429.91 668.86 427.62 670.71 426.65 672.4 C425.68 674.09 425.22 677.37 425.22 679.3 C425.22 681.23 425.54 683.83 426.65 685.28 C427.76 686.73 430.15 688.48 432.62 688.96 C435.09 689.44 439.97 688.5 443.12 688.5 C446.28 688.5 451.16 689.44 453.63 688.96 C456.1 688.48 458.49 686.73 459.6 685.28 C460.71 683.83 461.03 681.23 461.03 679.3 C461.03 677.37 460.57 674.09 459.6 672.4 C458.63 670.71 456.34 668.86 454.58 668.03 C452.83 667.2 449.62 666.85 447.9 666.88 C446.18 666.91 444.56 668.26 443.12 668.26Z" fill="#c83232"/>
<path d="M443.12 668.26 C441.69 668.26 440.07 666.91 438.35 666.88 C436.63 666.85 433.42 667.2 431.67 668.03 C429.91 668.86 427.62 670.71 426.65 672.4 C425.68 674.09 425.22 677.37 425.22 679.3 C425.22 681.23 425.54 683.83 426.65 685.28 C427.76 686.73 430.15 688.48 432.62 688.96 C435.09 689.44 439.97 688.5 443.12 688.5 C446.28 688.5 451.16 689.44 453.63 688.96 C456.1 688.48 458.49 686.73 459.6 685.28 C460.71 683.83 461.03 681.23 461.03 679.3 C461.03 677.37 460.57 674.09 459.6 672.4 C458.63 670.71 456.34 668.86 454.58 668.03 C452.83 667.2 449.62 666.85 447.9 666.88 C446.18 666.91 444.56 668.26 443.12 668.26Z" fill="url(#spk)" opacity="0.1"/>
<line x1="443.12" y1="670.1" x2="443.12" y2="686.2" stroke="#d85050" stroke-width="0.6"/>
<rect x="478.25" y="665.5" width="47.75" height="46" fill="#111"/>
<rect x="478.25" y="665.5" width="47.75" height="46" fill="url(#spk)" opacity="0.1"/>
<ellipse cx="502.12" cy="687.12" rx="21.49" ry="19.32" fill="none" stroke="#303030" stroke-width="1.6"/>
<ellipse cx="502.12" cy="698.62" rx="17.19" ry="9.2" fill="#282828"/>
<ellipse cx="494.96" cy="696.78" rx="4.78" ry="3.68" fill="none" stroke="#444" stroke-width="0.8"/>
<ellipse cx="509.29" cy="696.78" rx="4.78" ry="3.68" fill="none" stroke="#444" stroke-width="0.8"/>
<ellipse cx="502.12" cy="694.94" rx="3.34" ry="2.3" fill="none" stroke="#444" stroke-width="0.8"/>
<clipPath id="br1"><path d="M502.12 668.26 C500.69 668.26 499.07 666.91 497.35 666.88 C495.63 666.85 492.42 667.2 490.67 668.03 C488.91 668.86 486.62 670.71 485.65 672.4 C484.68 674.09 484.22 677.37 484.22 679.3 C484.22 681.23 484.54 683.83 485.65 685.28 C486.76 686.73 489.15 688.48 491.62 688.96 C494.09 689.44 498.97 688.5 502.12 688.5 C505.28 688.5 510.16 689.44 512.63 688.96 C515.1 688.48 517.49 686.73 518.6 685.28 C519.71 683.83 520.03 681.23 520.03 679.3 C520.03 677.37 519.57 674.09 518.6 672.4 C517.63 670.71 515.34 668.86 513.59 668.03 C511.83 667.2 508.62 666.85 506.9 666.88 C505.18 666.91 503.56 668.26 502.12 668.26Z"/></clipPath>
<path d="M502.12 668.26 C500.69 668.26 499.07 666.91 497.35 666.88 C495.63 666.85 492.42 667.2 490.67 668.03 C488.91 668.86 486.62 670.71 485.65 672.4 C484.68 674.09 484.22 677.37 484.22 679.3 C484.22 681.23 484.54 683.83 485.65 685.28 C486.76 686.73 489.15 688.48 491.62 688.96 C494.09 689.44 498.97 688.5 502.12 688.5 C505.28 688.5 510.16 689.44 512.63 688.96 C515.1 688.48 517.49 686.73 518.6 685.28 C519.71 683.83 520.03 681.23 520.03 679.3 C520.03 677.37 519.57 674.09 518.6 672.4 C517.63 670.71 515.34 668.86 513.59 668.03 C511.83 667.2 508.62 666.85 506.9 666.88 C505.18 666.91 503.56 668.26 502.12 668.26Z" fill="#c83232"/>
<path d="M502.12 668.26 C500.69 668.26 499.07 666.91 497.35 666.88 C495.63 666.85 492.42 667.2 490.67 668.03 C488.91 668.86 486.62 670.71 485.65 672.4 C484.68 674.09 484.22 677.37 484.22 679.3 C484.22 681.23 484.54 683.83 485.65 685.28 C486.76 686.73 489.15 688.48 491.62 688.96 C494.09 689.44 498.97 688.5 502.12 688.5 C505.28 688.5 510.16 689.44 512.63 688.96 C515.1 688.48 517.49 686.73 518.6 685.28 C519.71 683.83 520.03 681.23 520.03 679.3 C520.03 677.37 519.57 674.09 518.6 672.4 C517.63 670.71 515.34 668.86 513.59 668.03 C511.83 667.2 508.62 666.85 506.9 666.88 C505.18 666.91 503.56 668.26 502.12 668.26Z" fill="url(#spk)" opacity="0.1"/>
<line x1="502.12" y1="670.1" x2="502.12" y2="686.2" stroke="#d85050" stroke-width="0.6"/>
<rect x="538.75" y="665.5" width="47.75" height="46" fill="#111"/>
<rect x="538.75" y="665.5" width="47.75" height="46" fill="url(#spk)" opacity="0.1"/>
<ellipse cx="562.62" cy="687.12" rx="21.49" ry="19.32" fill="none" stroke="#303030" stroke-width="1.6"/>
<ellipse cx="562.62" cy="698.62" rx="15.76" ry="7.82" fill="#242424"/>
<ellipse cx="555.94" cy="695.86" rx="4.3" ry="3.22" fill="none" stroke="#3a3a3a" stroke-width="0.8"/>
<ellipse cx="569.31" cy="695.86" rx="4.3" ry="3.22" fill="none" stroke="#3a3a3a" stroke-width="0.8"/>
<clipPath id="br2"><path d="M562.62 668.26 C561.19 668.26 559.57 666.91 557.85 666.88 C556.13 666.85 552.92 667.2 551.16 668.03 C549.41 668.86 547.12 670.71 546.15 672.4 C545.18 674.09 544.72 677.37 544.72 679.3 C544.72 681.23 545.04 683.83 546.15 685.28 C547.26 686.73 549.65 688.48 552.12 688.96 C554.59 689.44 559.47 688.5 562.62 688.5 C565.78 688.5 570.66 689.44 573.13 688.96 C575.6 688.48 577.99 686.73 579.1 685.28 C580.21 683.83 580.53 681.23 580.53 679.3 C580.53 677.37 580.07 674.09 579.1 672.4 C578.13 670.71 575.84 668.86 574.09 668.03 C572.33 667.2 569.12 666.85 567.4 666.88 C565.68 666.91 564.06 668.26 562.62 668.26Z"/></clipPath>
<path d="M562.62 668.26 C561.19 668.26 559.57 666.91 557.85 666.88 C556.13 666.85 552.92 667.2 551.16 668.03 C549.41 668.86 547.12 670.71 546.15 672.4 C545.18 674.09 544.72 677.37 544.72 679.3 C544.72 681.23 545.04 683.83 546.15 685.28 C547.26 686.73 549.65 688.48 552.12 688.96 C554.59 689.44 559.47 688.5 562.62 688.5 C565.78 688.5 570.66 689.44 573.13 688.96 C575.6 688.48 577.99 686.73 579.1 685.28 C580.21 683.83 580.53 681.23 580.53 679.3 C580.53 677.37 580.07 674.09 579.1 672.4 C578.13 670.71 575.84 668.86 574.09 668.03 C572.33 667.2 569.12 666.85 567.4 666.88 C565.68 666.91 564.06 668.26 562.62 668.26Z" fill="#c83232"/>
<path d="M562.62 668.26 C561.19 668.26 559.57 666.91 557.85 666.88 C556.13 666.85 552.92 667.2 551.16 668.03 C549.41 668.86 547.12 670.71 546.15 672.4 C545.18 674.09 544.72 677.37 544.72 679.3 C544.72 681.23 545.04 683.83 546.15 685.28 C547.26 686.73 549.65 688.48 552.12 688.96 C554.59 689.44 559.47 688.5 562.62 688.5 C565.78 688.5 570.66 689.44 573.13 688.96 C575.6 688.48 577.99 686.73 579.1 685.28 C580.21 683.83 580.53 681.23 580.53 679.3 C580.53 677.37 580.07 674.09 579.1 672.4 C578.13 670.71 575.84 668.86 574.09 668.03 C572.33 667.2 569.12 666.85 567.4 666.88 C565.68 666.91 564.06 668.26 562.62 668.26Z" fill="url(#spk)" opacity="0.1"/>
<line x1="562.62" y1="670.1" x2="562.62" y2="686.2" stroke="#d85050" stroke-width="0.6"/>
<rect x="419.25" y="727.5" width="47.75" height="46" fill="#111"/>
<rect x="419.25" y="727.5" width="47.75" height="46" fill="url(#spk)" opacity="0.1"/>
<ellipse cx="443.12" cy="749.12" rx="21.49" ry="19.32" fill="none" stroke="#303030" stroke-width="1.6"/>
<ellipse cx="443.12" cy="760.62" rx="15.76" ry="7.82" fill="#242424"/>
<ellipse cx="436.44" cy="757.86" rx="4.3" ry="3.22" fill="none" stroke="#3a3a3a" stroke-width="0.8"/>
<ellipse cx="449.81" cy="757.86" rx="4.3" ry="3.22" fill="none" stroke="#3a3a3a" stroke-width="0.8"/>
<clipPath id="br3"><path d="M443.12 730.26 C441.69 730.26 440.07 728.91 438.35 728.88 C436.63 728.85 433.42 729.2 431.67 730.03 C429.91 730.86 427.62 732.71 426.65 734.4 C425.68 736.09 425.22 739.37 425.22 741.3 C425.22 743.23 425.54 745.83 426.65 747.28 C427.76 748.73 430.15 750.48 432.62 750.96 C435.09 751.44 439.97 750.5 443.12 750.5 C446.28 750.5 451.16 751.44 453.63 750.96 C456.1 750.48 458.49 748.73 459.6 747.28 C460.71 745.83 461.03 743.23 461.03 741.3 C461.03 739.37 460.57 736.09 459.6 734.4 C458.63 732.71 456.34 730.86 454.58 730.03 C452.83 729.2 449.62 728.85 447.9 728.88 C446.18 728.91 444.56 730.26 443.12 730.26Z"/></clipPath>
<path d="M443.12 730.26 C441.69 730.26 440.07 728.91 438.35 728.88 C436.63 728.85 433.42 729.2 431.67 730.03 C429.91 730.86 427.62 732.71 426.65 734.4 C425.68 736.09 425.22 739.37 425.22 741.3 C425.22 743.23 425.54 745.83 426.65 747.28 C427.76 748.73 430.15 750.48 432.62 750.96 C435.09 751.44 439.97 750.5 443.12 750.5 C446.28 750.5 451.16 751.44 453.63 750.96 C456.1 750.48 458.49 748.73 459.6 747.28 C460.71 745.83 461.03 743.23 461.03 741.3 C461.03 739.37 460.57 736.09 459.6 734.4 C458.63 732.71 456.34 730.86 454.58 730.03 C452.83 729.2 449.62 728.85 447.9 728.88 C446.18 728.91 444.56 730.26 443.12 730.26Z" fill="#8e8e8e"/>
<g clip-path="url(#br3)">
<ellipse cx="443.12" cy="744.52" rx="13.37" ry="7.82" fill="#585858"/>
<line x1="443.12" y1="731.18" x2="443.12" y2="750.5" stroke="#c8c8c8" stroke-width="0.8"/>
</g>
<path d="M429.75 743.14 Q432.62 736.7 440.26 735.78 M445.99 735.32 Q453.63 736.24 456.5 742.68" fill="none" stroke="#3cd03c" stroke-width="1.7" stroke-linecap="round"/>
<rect x="478.25" y="727.5" width="47.75" height="46" fill="#111"/>
<rect x="478.25" y="727.5" width="47.75" height="46" fill="url(#spk)" opacity="0.1"/>
<ellipse cx="502.12" cy="749.12" rx="21.49" ry="19.32" fill="none" stroke="#303030" stroke-width="1.6"/>
<ellipse cx="502.12" cy="760.62" rx="17.19" ry="9.2" fill="#282828"/>
<ellipse cx="494.96" cy="758.78" rx="4.78" ry="3.68" fill="none" stroke="#444" stroke-width="0.8"/>
<ellipse cx="509.29" cy="758.78" rx="4.78" ry="3.68" fill="none" stroke="#444" stroke-width="0.8"/>
<ellipse cx="502.12" cy="756.94" rx="3.34" ry="2.3" fill="none" stroke="#444" stroke-width="0.8"/>
<clipPath id="br4"><path d="M502.12 730.26 C500.69 730.26 499.07 728.91 497.35 728.88 C495.63 728.85 492.42 729.2 490.67 730.03 C488.91 730.86 486.62 732.71 485.65 734.4 C484.68 736.09 484.22 739.37 484.22 741.3 C484.22 743.23 484.54 745.83 485.65 747.28 C486.76 748.73 489.15 750.48 491.62 750.96 C494.09 751.44 498.97 750.5 502.12 750.5 C505.28 750.5 510.16 751.44 512.63 750.96 C515.1 750.48 517.49 748.73 518.6 747.28 C519.71 745.83 520.03 743.23 520.03 741.3 C520.03 739.37 519.57 736.09 518.6 734.4 C517.63 732.71 515.34 730.86 513.59 730.03 C511.83 729.2 508.62 728.85 506.9 728.88 C505.18 728.91 503.56 730.26 502.12 730.26Z"/></clipPath>
<path d="M502.12 730.26 C500.69 730.26 499.07 728.91 497.35 728.88 C495.63 728.85 492.42 729.2 490.67 730.03 C488.91 730.86 486.62 732.71 485.65 734.4 C484.68 736.09 484.22 739.37 484.22 741.3 C484.22 743.23 484.54 745.83 485.65 747.28 C486.76 748.73 489.15 750.48 491.62 750.96 C494.09 751.44 498.97 750.5 502.12 750.5 C505.28 750.5 510.16 751.44 512.63 750.96 C515.1 750.48 517.49 748.73 518.6 747.28 C519.71 745.83 520.03 743.23 520.03 741.3 C520.03 739.37 519.57 736.09 518.6 734.4 C517.63 732.71 515.34 730.86 513.59 730.03 C511.83 729.2 508.62 728.85 506.9 728.88 C505.18 728.91 503.56 730.26 502.12 730.26Z" fill="#b0b0b0"/>
<g clip-path="url(#br4)">
<ellipse cx="502.12" cy="744.52" rx="13.37" ry="7.82" fill="#6a6a6a"/>
<line x1="502.12" y1="731.18" x2="502.12" y2="750.5" stroke="#c8c8c8" stroke-width="0.8"/>
<ellipse cx="490.19" cy="747.28" rx="2.86" ry="2.3" fill="#dadada"/>
<ellipse cx="514.06" cy="747.28" rx="2.86" ry="2.3" fill="#dadada"/>
</g>
<path d="M488.75 743.14 Q491.62 736.7 499.26 735.78 M504.99 735.32 Q512.63 736.24 515.5 742.68" fill="none" stroke="#3cd03c" stroke-width="1.7" stroke-linecap="round"/>
<rect x="538.75" y="727.5" width="47.75" height="46" fill="#111"/>
<rect x="538.75" y="727.5" width="47.75" height="46" fill="url(#spk)" opacity="0.1"/>
<ellipse cx="562.62" cy="749.12" rx="21.49" ry="19.32" fill="none" stroke="#303030" stroke-width="1.6"/>
<ellipse cx="562.62" cy="760.62" rx="15.76" ry="7.82" fill="#242424"/>
<ellipse cx="555.94" cy="757.86" rx="4.3" ry="3.22" fill="none" stroke="#3a3a3a" stroke-width="0.8"/>
<ellipse cx="569.31" cy="757.86" rx="4.3" ry="3.22" fill="none" stroke="#3a3a3a" stroke-width="0.8"/>
<clipPath id="br5"><path d="M562.62 730.26 C561.19 730.26 559.57 728.91 557.85 728.88 C556.13 728.85 552.92 729.2 551.16 730.03 C549.41 730.86 547.12 732.71 546.15 734.4 C545.18 736.09 544.72 739.37 544.72 741.3 C544.72 743.23 545.04 745.83 546.15 747.28 C547.26 748.73 549.65 750.48 552.12 750.96 C554.59 751.44 559.47 750.5 562.62 750.5 C565.78 750.5 570.66 751.44 573.13 750.96 C575.6 750.48 577.99 748.73 579.1 747.28 C580.21 745.83 580.53 743.23 580.53 741.3 C580.53 739.37 580.07 736.09 579.1 734.4 C578.13 732.71 575.84 730.86 574.09 730.03 C572.33 729.2 569.12 728.85 567.4 728.88 C565.68 728.91 564.06 730.26 562.62 730.26Z"/></clipPath>
<path d="M562.62 730.26 C561.19 730.26 559.57 728.91 557.85 728.88 C556.13 728.85 552.92 729.2 551.16 730.03 C549.41 730.86 547.12 732.71 546.15 734.4 C545.18 736.09 544.72 739.37 544.72 741.3 C544.72 743.23 545.04 745.83 546.15 747.28 C547.26 748.73 549.65 750.48 552.12 750.96 C554.59 751.44 559.47 750.5 562.62 750.5 C565.78 750.5 570.66 751.44 573.13 750.96 C575.6 750.48 577.99 748.73 579.1 747.28 C580.21 745.83 580.53 743.23 580.53 741.3 C580.53 739.37 580.07 736.09 579.1 734.4 C578.13 732.71 575.84 730.86 574.09 730.03 C572.33 729.2 569.12 728.85 567.4 728.88 C565.68 728.91 564.06 730.26 562.62 730.26Z" fill="#8e8e8e"/>
<g clip-path="url(#br5)">
<ellipse cx="562.62" cy="744.52" rx="13.37" ry="7.82" fill="#585858"/>
<line x1="562.62" y1="731.18" x2="562.62" y2="750.5" stroke="#c8c8c8" stroke-width="0.8"/>
</g>
<path d="M549.25 743.14 Q552.12 736.7 559.76 735.78 M565.49 735.32 Q573.13 736.24 576 742.68" fill="none" stroke="#3cd03c" stroke-width="1.7" stroke-linecap="round"/>
<rect x="419.25" y="783.5" width="47.75" height="46" fill="#111"/>
<rect x="419.25" y="783.5" width="47.75" height="46" fill="url(#spk)" opacity="0.1"/>
<ellipse cx="443.12" cy="805.12" rx="21.49" ry="19.32" fill="none" stroke="#303030" stroke-width="1.6"/>
<ellipse cx="443.12" cy="816.62" rx="15.76" ry="7.82" fill="#242424"/>
<ellipse cx="436.44" cy="813.86" rx="4.3" ry="3.22" fill="none" stroke="#3a3a3a" stroke-width="0.8"/>
<ellipse cx="449.81" cy="813.86" rx="4.3" ry="3.22" fill="none" stroke="#3a3a3a" stroke-width="0.8"/>
<clipPath id="br6"><path d="M443.12 786.26 C441.69 786.26 440.07 784.91 438.35 784.88 C436.63 784.85 433.42 785.2 431.67 786.03 C429.91 786.86 427.62 788.71 426.65 790.4 C425.68 792.09 425.22 795.37 425.22 797.3 C425.22 799.23 425.54 801.83 426.65 803.28 C427.76 804.73 430.15 806.48 432.62 806.96 C435.09 807.44 439.97 806.5 443.12 806.5 C446.28 806.5 451.16 807.44 453.63 806.96 C456.1 806.48 458.49 804.73 459.6 803.28 C460.71 801.83 461.03 799.23 461.03 797.3 C461.03 795.37 460.57 792.09 459.6 790.4 C458.63 788.71 456.34 786.86 454.58 786.03 C452.83 785.2 449.62 784.85 447.9 784.88 C446.18 784.91 444.56 786.26 443.12 786.26Z"/></clipPath>
<path d="M443.12 786.26 C441.69 786.26 440.07 784.91 438.35 784.88 C436.63 784.85 433.42 785.2 431.67 786.03 C429.91 786.86 427.62 788.71 426.65 790.4 C425.68 792.09 425.22 795.37 425.22 797.3 C425.22 799.23 425.54 801.83 426.65 803.28 C427.76 804.73 430.15 806.48 432.62 806.96 C435.09 807.44 439.97 806.5 443.12 806.5 C446.28 806.5 451.16 807.44 453.63 806.96 C456.1 806.48 458.49 804.73 459.6 803.28 C460.71 801.83 461.03 799.23 461.03 797.3 C461.03 795.37 460.57 792.09 459.6 790.4 C458.63 788.71 456.34 786.86 454.58 786.03 C452.83 785.2 449.62 784.85 447.9 784.88 C446.18 784.91 444.56 786.26 443.12 786.26Z" fill="#8e8e8e"/>
<g clip-path="url(#br6)">
<ellipse cx="443.12" cy="800.52" rx="13.37" ry="7.82" fill="#585858"/>
<line x1="443.12" y1="787.18" x2="443.12" y2="806.5" stroke="#c8c8c8" stroke-width="0.8"/>
<path d="M443.12 786.26 C441.69 786.26 440.07 784.91 438.35 784.88 C436.63 784.85 433.42 785.2 431.67 786.03 C429.91 786.86 427.62 788.71 426.65 790.4 C425.68 792.09 425.22 795.37 425.22 797.3 C425.22 799.23 425.54 801.83 426.65 803.28 C427.76 804.73 430.15 806.48 432.62 806.96 C435.09 807.44 439.97 806.5 443.12 806.5 C446.28 806.5 451.16 807.44 453.63 806.96 C456.1 806.48 458.49 804.73 459.6 803.28 C460.71 801.83 461.03 799.23 461.03 797.3 C461.03 795.37 460.57 792.09 459.6 790.4 C458.63 788.71 456.34 786.86 454.58 786.03 C452.83 785.2 449.62 784.85 447.9 784.88 C446.18 784.91 444.56 786.26 443.12 786.26Z" fill="none" stroke="#4646e0" stroke-width="5.52"/>
<rect x="419.25" y="798.68" width="47.75" height="11.5" fill="#8e8e8e"/>
<ellipse cx="443.12" cy="800.52" rx="12.89" ry="5.52" fill="#585858"/>
<line x1="443.12" y1="790.4" x2="443.12" y2="806.5" stroke="#c8c8c8" stroke-width="0.8"/>
</g>
<rect x="478.25" y="783.5" width="47.75" height="46" fill="#111"/>
<rect x="478.25" y="783.5" width="47.75" height="46" fill="url(#spk)" opacity="0.1"/>
<ellipse cx="502.12" cy="805.12" rx="21.49" ry="19.32" fill="none" stroke="#303030" stroke-width="1.6"/>
<ellipse cx="502.12" cy="816.62" rx="17.19" ry="9.2" fill="#282828"/>
<ellipse cx="494.96" cy="814.78" rx="4.78" ry="3.68" fill="none" stroke="#444" stroke-width="0.8"/>
<ellipse cx="509.29" cy="814.78" rx="4.78" ry="3.68" fill="none" stroke="#444" stroke-width="0.8"/>
<ellipse cx="502.12" cy="812.94" rx="3.34" ry="2.3" fill="none" stroke="#444" stroke-width="0.8"/>
<clipPath id="br7"><path d="M502.12 786.26 C500.69 786.26 499.07 784.91 497.35 784.88 C495.63 784.85 492.42 785.2 490.67 786.03 C488.91 786.86 486.62 788.71 485.65 790.4 C484.68 792.09 484.22 795.37 484.22 797.3 C484.22 799.23 484.54 801.83 485.65 803.28 C486.76 804.73 489.15 806.48 491.62 806.96 C494.09 807.44 498.97 806.5 502.12 806.5 C505.28 806.5 510.16 807.44 512.63 806.96 C515.1 806.48 517.49 804.73 518.6 803.28 C519.71 801.83 520.03 799.23 520.03 797.3 C520.03 795.37 519.57 792.09 518.6 790.4 C517.63 788.71 515.34 786.86 513.59 786.03 C511.83 785.2 508.62 784.85 506.9 784.88 C505.18 784.91 503.56 786.26 502.12 786.26Z"/></clipPath>
<path d="M502.12 786.26 C500.69 786.26 499.07 784.91 497.35 784.88 C495.63 784.85 492.42 785.2 490.67 786.03 C488.91 786.86 486.62 788.71 485.65 790.4 C484.68 792.09 484.22 795.37 484.22 797.3 C484.22 799.23 484.54 801.83 485.65 803.28 C486.76 804.73 489.15 806.48 491.62 806.96 C494.09 807.44 498.97 806.5 502.12 806.5 C505.28 806.5 510.16 807.44 512.63 806.96 C515.1 806.48 517.49 804.73 518.6 803.28 C519.71 801.83 520.03 799.23 520.03 797.3 C520.03 795.37 519.57 792.09 518.6 790.4 C517.63 788.71 515.34 786.86 513.59 786.03 C511.83 785.2 508.62 784.85 506.9 784.88 C505.18 784.91 503.56 786.26 502.12 786.26Z" fill="#b0b0b0"/>
<g clip-path="url(#br7)">
<ellipse cx="502.12" cy="800.52" rx="13.37" ry="7.82" fill="#6a6a6a"/>
<line x1="502.12" y1="787.18" x2="502.12" y2="806.5" stroke="#c8c8c8" stroke-width="0.8"/>
<ellipse cx="490.19" cy="803.28" rx="2.86" ry="2.3" fill="#dadada"/>
<ellipse cx="514.06" cy="803.28" rx="2.86" ry="2.3" fill="#dadada"/>
<path d="M502.12 786.26 C500.69 786.26 499.07 784.91 497.35 784.88 C495.63 784.85 492.42 785.2 490.67 786.03 C488.91 786.86 486.62 788.71 485.65 790.4 C484.68 792.09 484.22 795.37 484.22 797.3 C484.22 799.23 484.54 801.83 485.65 803.28 C486.76 804.73 489.15 806.48 491.62 806.96 C494.09 807.44 498.97 806.5 502.12 806.5 C505.28 806.5 510.16 807.44 512.63 806.96 C515.1 806.48 517.49 804.73 518.6 803.28 C519.71 801.83 520.03 799.23 520.03 797.3 C520.03 795.37 519.57 792.09 518.6 790.4 C517.63 788.71 515.34 786.86 513.59 786.03 C511.83 785.2 508.62 784.85 506.9 784.88 C505.18 784.91 503.56 786.26 502.12 786.26Z" fill="none" stroke="#4646e0" stroke-width="5.52"/>
<rect x="478.25" y="798.68" width="47.75" height="11.5" fill="#b0b0b0"/>
<ellipse cx="502.12" cy="800.52" rx="12.89" ry="5.52" fill="#6a6a6a"/>
<line x1="502.12" y1="790.4" x2="502.12" y2="806.5" stroke="#c8c8c8" stroke-width="0.8"/>
</g>
<rect x="538.75" y="783.5" width="47.75" height="46" fill="#111"/>
<rect x="538.75" y="783.5" width="47.75" height="46" fill="url(#spk)" opacity="0.1"/>
<ellipse cx="562.62" cy="805.12" rx="21.49" ry="19.32" fill="none" stroke="#303030" stroke-width="1.6"/>
<ellipse cx="562.62" cy="816.62" rx="15.76" ry="7.82" fill="#242424"/>
<ellipse cx="555.94" cy="813.86" rx="4.3" ry="3.22" fill="none" stroke="#3a3a3a" stroke-width="0.8"/>
<ellipse cx="569.31" cy="813.86" rx="4.3" ry="3.22" fill="none" stroke="#3a3a3a" stroke-width="0.8"/>
<clipPath id="br8"><path d="M562.62 786.26 C561.19 786.26 559.57 784.91 557.85 784.88 C556.13 784.85 552.92 785.2 551.16 786.03 C549.41 786.86 547.12 788.71 546.15 790.4 C545.18 792.09 544.72 795.37 544.72 797.3 C544.72 799.23 545.04 801.83 546.15 803.28 C547.26 804.73 549.65 806.48 552.12 806.96 C554.59 807.44 559.47 806.5 562.62 806.5 C565.78 806.5 570.66 807.44 573.13 806.96 C575.6 806.48 577.99 804.73 579.1 803.28 C580.21 801.83 580.53 799.23 580.53 797.3 C580.53 795.37 580.07 792.09 579.1 790.4 C578.13 788.71 575.84 786.86 574.09 786.03 C572.33 785.2 569.12 784.85 567.4 784.88 C565.68 784.91 564.06 786.26 562.62 786.26Z"/></clipPath>
<path d="M562.62 786.26 C561.19 786.26 559.57 784.91 557.85 784.88 C556.13 784.85 552.92 785.2 551.16 786.03 C549.41 786.86 547.12 788.71 546.15 790.4 C545.18 792.09 544.72 795.37 544.72 797.3 C544.72 799.23 545.04 801.83 546.15 803.28 C547.26 804.73 549.65 806.48 552.12 806.96 C554.59 807.44 559.47 806.5 562.62 806.5 C565.78 806.5 570.66 807.44 573.13 806.96 C575.6 806.48 577.99 804.73 579.1 803.28 C580.21 801.83 580.53 799.23 580.53 797.3 C580.53 795.37 580.07 792.09 579.1 790.4 C578.13 788.71 575.84 786.86 574.09 786.03 C572.33 785.2 569.12 784.85 567.4 784.88 C565.68 784.91 564.06 786.26 562.62 786.26Z" fill="#8e8e8e"/>
<g clip-path="url(#br8)">
<ellipse cx="562.62" cy="800.52" rx="13.37" ry="7.82" fill="#585858"/>
<line x1="562.62" y1="787.18" x2="562.62" y2="806.5" stroke="#c8c8c8" stroke-width="0.8"/>
<path d="M562.62 786.26 C561.19 786.26 559.57 784.91 557.85 784.88 C556.13 784.85 552.92 785.2 551.16 786.03 C549.41 786.86 547.12 788.71 546.15 790.4 C545.18 792.09 544.72 795.37 544.72 797.3 C544.72 799.23 545.04 801.83 546.15 803.28 C547.26 804.73 549.65 806.48 552.12 806.96 C554.59 807.44 559.47 806.5 562.62 806.5 C565.78 806.5 570.66 807.44 573.13 806.96 C575.6 806.48 577.99 804.73 579.1 803.28 C580.21 801.83 580.53 799.23 580.53 797.3 C580.53 795.37 580.07 792.09 579.1 790.4 C578.13 788.71 575.84 786.86 574.09 786.03 C572.33 785.2 569.12 784.85 567.4 784.88 C565.68 784.91 564.06 786.26 562.62 786.26Z" fill="none" stroke="#4646e0" stroke-width="5.52"/>
<rect x="538.75" y="798.68" width="47.75" height="11.5" fill="#8e8e8e"/>
<ellipse cx="562.62" cy="800.52" rx="12.89" ry="5.52" fill="#585858"/>
<line x1="562.62" y1="790.4" x2="562.62" y2="806.5" stroke="#c8c8c8" stroke-width="0.8"/>
</g>
<text transform="translate(406.1,680) rotate(-90)" font-size="8.6" text-anchor="middle" textLength="47.5" lengthAdjust="spacingAndGlyphs" fill="#fff">Whole brain</text>
<text transform="translate(406.1,747.5) rotate(-90)" font-size="8.6" text-anchor="middle" textLength="12.5" lengthAdjust="spacingAndGlyphs" fill="#fff">Hip</text>
<text transform="translate(406.1,810) rotate(-90)" font-size="8.6" text-anchor="middle" textLength="27.5" lengthAdjust="spacingAndGlyphs" fill="#fff">Cortex</text>
<g transform="translate(435.5,654.8) rotate(-43)">
<text x="0" y="0" font-size="8" textLength="16.44" lengthAdjust="spacingAndGlyphs" fill="#fff">PBS</text>
<path d="M17.01 -2.88H22.53M21.03 -4.58L22.73 -2.88L21.03 -1.18" stroke="#fff" stroke-width="0.65" fill="none"/>
</g>
<text transform="translate(443,662.3) rotate(-43)" font-size="8" textLength="26" lengthAdjust="spacingAndGlyphs" fill="#fff">Young</text>
<g transform="translate(496.8,653.5) rotate(-43)">
<text x="0" y="0" font-size="8" textLength="16.44" lengthAdjust="spacingAndGlyphs" fill="#fff">PBS</text>
<path d="M17.01 -2.88H22.53M21.03 -4.58L22.73 -2.88L21.03 -1.18" stroke="#fff" stroke-width="0.65" fill="none"/>
</g>
<text transform="translate(505.5,661) rotate(-43)" font-size="8" textLength="24" lengthAdjust="spacingAndGlyphs" fill="#fff">Aged</text>
<text transform="translate(554.2,656) rotate(-43)" font-size="8" textLength="28" lengthAdjust="spacingAndGlyphs" fill="#fff">Young</text>
<g transform="translate(563,664.8) rotate(-43)">
<text x="0" y="0" font-size="8" textLength="16.41" lengthAdjust="spacingAndGlyphs" fill="#fff">sEV</text>
<path d="M17.04 -2.88H23.08M21.58 -4.58L23.28 -2.88L21.58 -1.18" stroke="#fff" stroke-width="0.65" fill="none"/>
<text x="24.1" y="0" font-size="8" textLength="20.9" lengthAdjust="spacingAndGlyphs" fill="#fff">Aged</text>
</g>
</g>
</svg>
</body></html>
